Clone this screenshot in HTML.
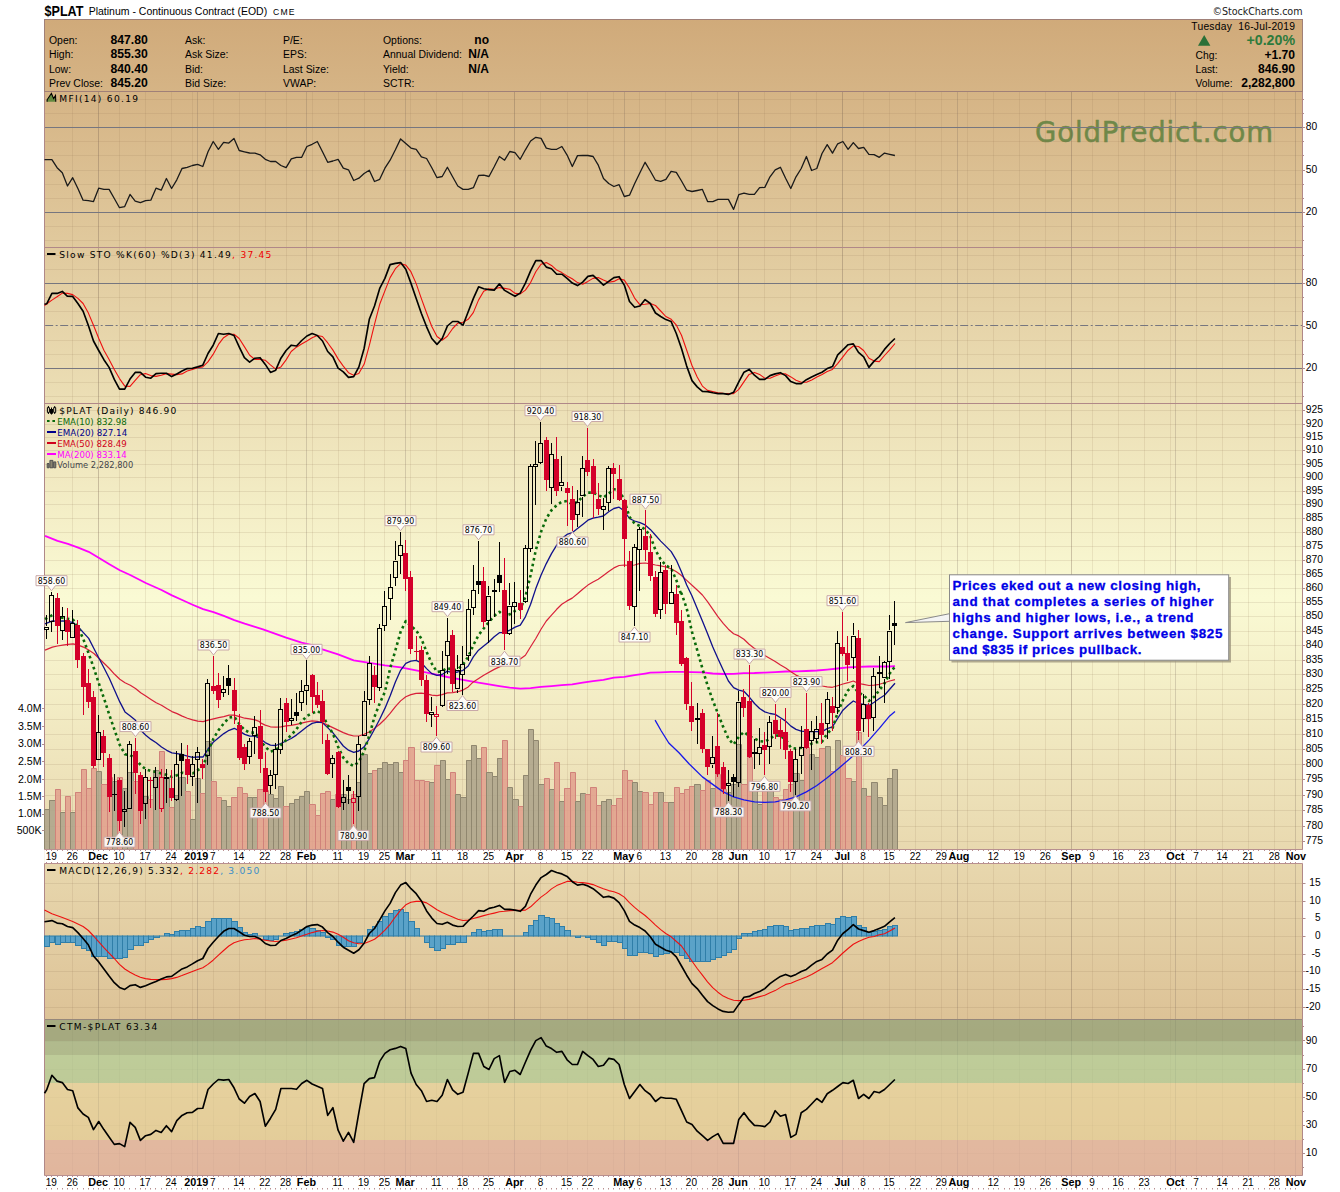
<!DOCTYPE html>
<html><head><meta charset="utf-8"><title>$PLAT Platinum - Continuous Contract (EOD)</title>
<style>html,body{margin:0;padding:0;background:#fff}body{width:1340px;height:1192px;overflow:hidden}svg text{white-space:pre}</style>
</head><body>
<svg width="1340" height="1192" viewBox="0 0 1340 1192" style="display:block">
<defs>
<linearGradient id="bg" x1="0" y1="0" x2="0" y2="1">
<stop offset="0" stop-color="#d0aa7a"/><stop offset="0.5" stop-color="#fafad4"/><stop offset="1" stop-color="#d2ae80"/>
</linearGradient>
</defs>
<rect x="0" y="0" width="1340" height="1192" fill="#fff"/>
<rect x="44.5" y="19.5" width="1258.0" height="1156.0" fill="url(#bg)"/>
<text x="1035" y="141.5" font-family="DejaVu Sans, Liberation Sans, sans-serif" font-size="27.5" fill="#6f8848" stroke="#6f8848" stroke-width="0.5" textLength="238" lengthAdjust="spacing">GoldPredict.com</text>
<path d="M72.5 91.5V247.5M98.5 91.5V247.5M119.5 91.5V247.5M145.5 91.5V247.5M171.5 91.5V247.5M192.5 91.5V247.5M213.5 91.5V247.5M239.5 91.5V247.5M265.5 91.5V247.5M286.5 91.5V247.5M312.5 91.5V247.5M338.5 91.5V247.5M364.5 91.5V247.5M384.5 91.5V247.5M410.5 91.5V247.5M436.5 91.5V247.5M462.5 91.5V247.5M488.5 91.5V247.5M514.5 91.5V247.5M540.5 91.5V247.5M567.5 91.5V247.5M587.5 91.5V247.5M613.5 91.5V247.5M639.5 91.5V247.5M665.5 91.5V247.5M691.5 91.5V247.5M717.5 91.5V247.5M738.5 91.5V247.5M764.5 91.5V247.5M790.5 91.5V247.5M816.5 91.5V247.5M842.5 91.5V247.5M863.5 91.5V247.5M889.5 91.5V247.5M915.5 91.5V247.5M941.5 91.5V247.5M967.5 91.5V247.5M993.5 91.5V247.5M1019.5 91.5V247.5M1045.5 91.5V247.5M1071.5 91.5V247.5M1092.5 91.5V247.5M1118.5 91.5V247.5M1144.5 91.5V247.5M1170.5 91.5V247.5M1196.5 91.5V247.5M1222.5 91.5V247.5M1248.5 91.5V247.5M1274.5 91.5V247.5" stroke="#8a6a50" stroke-opacity="0.13" stroke-width="1" fill="none"/>
<path d="M98.5 91.5V247.5M197.5 91.5V247.5M306.5 91.5V247.5M405.5 91.5V247.5M514.5 91.5V247.5M624.5 91.5V247.5M738.5 91.5V247.5M842.5 91.5V247.5M957.5 91.5V247.5M1071.5 91.5V247.5M1175.5 91.5V247.5M1295.5 91.5V247.5" stroke="#6a5a50" stroke-opacity="0.23" stroke-width="1" fill="none"/>
<path d="M72.5 247.5V403.5M98.5 247.5V403.5M119.5 247.5V403.5M145.5 247.5V403.5M171.5 247.5V403.5M192.5 247.5V403.5M213.5 247.5V403.5M239.5 247.5V403.5M265.5 247.5V403.5M286.5 247.5V403.5M312.5 247.5V403.5M338.5 247.5V403.5M364.5 247.5V403.5M384.5 247.5V403.5M410.5 247.5V403.5M436.5 247.5V403.5M462.5 247.5V403.5M488.5 247.5V403.5M514.5 247.5V403.5M540.5 247.5V403.5M567.5 247.5V403.5M587.5 247.5V403.5M613.5 247.5V403.5M639.5 247.5V403.5M665.5 247.5V403.5M691.5 247.5V403.5M717.5 247.5V403.5M738.5 247.5V403.5M764.5 247.5V403.5M790.5 247.5V403.5M816.5 247.5V403.5M842.5 247.5V403.5M863.5 247.5V403.5M889.5 247.5V403.5M915.5 247.5V403.5M941.5 247.5V403.5M967.5 247.5V403.5M993.5 247.5V403.5M1019.5 247.5V403.5M1045.5 247.5V403.5M1071.5 247.5V403.5M1092.5 247.5V403.5M1118.5 247.5V403.5M1144.5 247.5V403.5M1170.5 247.5V403.5M1196.5 247.5V403.5M1222.5 247.5V403.5M1248.5 247.5V403.5M1274.5 247.5V403.5" stroke="#8a6a50" stroke-opacity="0.13" stroke-width="1" fill="none"/>
<path d="M98.5 247.5V403.5M197.5 247.5V403.5M306.5 247.5V403.5M405.5 247.5V403.5M514.5 247.5V403.5M624.5 247.5V403.5M738.5 247.5V403.5M842.5 247.5V403.5M957.5 247.5V403.5M1071.5 247.5V403.5M1175.5 247.5V403.5M1295.5 247.5V403.5" stroke="#6a5a50" stroke-opacity="0.23" stroke-width="1" fill="none"/>
<path d="M72.5 403.5V849.5M98.5 403.5V849.5M119.5 403.5V849.5M145.5 403.5V849.5M171.5 403.5V849.5M192.5 403.5V849.5M213.5 403.5V849.5M239.5 403.5V849.5M265.5 403.5V849.5M286.5 403.5V849.5M312.5 403.5V849.5M338.5 403.5V849.5M364.5 403.5V849.5M384.5 403.5V849.5M410.5 403.5V849.5M436.5 403.5V849.5M462.5 403.5V849.5M488.5 403.5V849.5M514.5 403.5V849.5M540.5 403.5V849.5M567.5 403.5V849.5M587.5 403.5V849.5M613.5 403.5V849.5M639.5 403.5V849.5M665.5 403.5V849.5M691.5 403.5V849.5M717.5 403.5V849.5M738.5 403.5V849.5M764.5 403.5V849.5M790.5 403.5V849.5M816.5 403.5V849.5M842.5 403.5V849.5M863.5 403.5V849.5M889.5 403.5V849.5M915.5 403.5V849.5M941.5 403.5V849.5M967.5 403.5V849.5M993.5 403.5V849.5M1019.5 403.5V849.5M1045.5 403.5V849.5M1071.5 403.5V849.5M1092.5 403.5V849.5M1118.5 403.5V849.5M1144.5 403.5V849.5M1170.5 403.5V849.5M1196.5 403.5V849.5M1222.5 403.5V849.5M1248.5 403.5V849.5M1274.5 403.5V849.5" stroke="#8a6a50" stroke-opacity="0.13" stroke-width="1" fill="none"/>
<path d="M98.5 403.5V849.5M197.5 403.5V849.5M306.5 403.5V849.5M405.5 403.5V849.5M514.5 403.5V849.5M624.5 403.5V849.5M738.5 403.5V849.5M842.5 403.5V849.5M957.5 403.5V849.5M1071.5 403.5V849.5M1175.5 403.5V849.5M1295.5 403.5V849.5" stroke="#6a5a50" stroke-opacity="0.23" stroke-width="1" fill="none"/>
<path d="M72.5 863.5V1019.5M98.5 863.5V1019.5M119.5 863.5V1019.5M145.5 863.5V1019.5M171.5 863.5V1019.5M192.5 863.5V1019.5M213.5 863.5V1019.5M239.5 863.5V1019.5M265.5 863.5V1019.5M286.5 863.5V1019.5M312.5 863.5V1019.5M338.5 863.5V1019.5M364.5 863.5V1019.5M384.5 863.5V1019.5M410.5 863.5V1019.5M436.5 863.5V1019.5M462.5 863.5V1019.5M488.5 863.5V1019.5M514.5 863.5V1019.5M540.5 863.5V1019.5M567.5 863.5V1019.5M587.5 863.5V1019.5M613.5 863.5V1019.5M639.5 863.5V1019.5M665.5 863.5V1019.5M691.5 863.5V1019.5M717.5 863.5V1019.5M738.5 863.5V1019.5M764.5 863.5V1019.5M790.5 863.5V1019.5M816.5 863.5V1019.5M842.5 863.5V1019.5M863.5 863.5V1019.5M889.5 863.5V1019.5M915.5 863.5V1019.5M941.5 863.5V1019.5M967.5 863.5V1019.5M993.5 863.5V1019.5M1019.5 863.5V1019.5M1045.5 863.5V1019.5M1071.5 863.5V1019.5M1092.5 863.5V1019.5M1118.5 863.5V1019.5M1144.5 863.5V1019.5M1170.5 863.5V1019.5M1196.5 863.5V1019.5M1222.5 863.5V1019.5M1248.5 863.5V1019.5M1274.5 863.5V1019.5" stroke="#8a6a50" stroke-opacity="0.13" stroke-width="1" fill="none"/>
<path d="M98.5 863.5V1019.5M197.5 863.5V1019.5M306.5 863.5V1019.5M405.5 863.5V1019.5M514.5 863.5V1019.5M624.5 863.5V1019.5M738.5 863.5V1019.5M842.5 863.5V1019.5M957.5 863.5V1019.5M1071.5 863.5V1019.5M1175.5 863.5V1019.5M1295.5 863.5V1019.5" stroke="#6a5a50" stroke-opacity="0.23" stroke-width="1" fill="none"/>
<path d="M72.5 1019.5V1175.5M98.5 1019.5V1175.5M119.5 1019.5V1175.5M145.5 1019.5V1175.5M171.5 1019.5V1175.5M192.5 1019.5V1175.5M213.5 1019.5V1175.5M239.5 1019.5V1175.5M265.5 1019.5V1175.5M286.5 1019.5V1175.5M312.5 1019.5V1175.5M338.5 1019.5V1175.5M364.5 1019.5V1175.5M384.5 1019.5V1175.5M410.5 1019.5V1175.5M436.5 1019.5V1175.5M462.5 1019.5V1175.5M488.5 1019.5V1175.5M514.5 1019.5V1175.5M540.5 1019.5V1175.5M567.5 1019.5V1175.5M587.5 1019.5V1175.5M613.5 1019.5V1175.5M639.5 1019.5V1175.5M665.5 1019.5V1175.5M691.5 1019.5V1175.5M717.5 1019.5V1175.5M738.5 1019.5V1175.5M764.5 1019.5V1175.5M790.5 1019.5V1175.5M816.5 1019.5V1175.5M842.5 1019.5V1175.5M863.5 1019.5V1175.5M889.5 1019.5V1175.5M915.5 1019.5V1175.5M941.5 1019.5V1175.5M967.5 1019.5V1175.5M993.5 1019.5V1175.5M1019.5 1019.5V1175.5M1045.5 1019.5V1175.5M1071.5 1019.5V1175.5M1092.5 1019.5V1175.5M1118.5 1019.5V1175.5M1144.5 1019.5V1175.5M1170.5 1019.5V1175.5M1196.5 1019.5V1175.5M1222.5 1019.5V1175.5M1248.5 1019.5V1175.5M1274.5 1019.5V1175.5" stroke="#8a6a50" stroke-opacity="0.13" stroke-width="1" fill="none"/>
<path d="M98.5 1019.5V1175.5M197.5 1019.5V1175.5M306.5 1019.5V1175.5M405.5 1019.5V1175.5M514.5 1019.5V1175.5M624.5 1019.5V1175.5M738.5 1019.5V1175.5M842.5 1019.5V1175.5M957.5 1019.5V1175.5M1071.5 1019.5V1175.5M1175.5 1019.5V1175.5M1295.5 1019.5V1175.5" stroke="#6a5a50" stroke-opacity="0.23" stroke-width="1" fill="none"/>
<path d="M44.5 99.5H1302.5M44.5 113.5H1302.5M44.5 141.5H1302.5M44.5 155.5H1302.5M44.5 170.5H1302.5M44.5 184.5H1302.5M44.5 198.5H1302.5M44.5 226.5H1302.5M44.5 240.5H1302.5" stroke="#8a6a50" stroke-opacity="0.13" stroke-width="1" fill="none"/>
<path d="M44.5 255.5H1302.5M44.5 269.5H1302.5M44.5 297.5H1302.5M44.5 311.5H1302.5M44.5 340.5H1302.5M44.5 354.5H1302.5M44.5 382.5H1302.5M44.5 396.5H1302.5" stroke="#8a6a50" stroke-opacity="0.13" stroke-width="1" fill="none"/>
<path d="M44.5 841.5H1302.5M44.5 826.5H1302.5M44.5 810.5H1302.5M44.5 795.5H1302.5M44.5 779.5H1302.5M44.5 764.5H1302.5M44.5 749.5H1302.5M44.5 734.5H1302.5M44.5 719.5H1302.5M44.5 704.5H1302.5M44.5 689.5H1302.5M44.5 674.5H1302.5M44.5 660.5H1302.5M44.5 645.5H1302.5M44.5 631.5H1302.5M44.5 616.5H1302.5M44.5 602.5H1302.5M44.5 588.5H1302.5M44.5 574.5H1302.5M44.5 560.5H1302.5M44.5 546.5H1302.5M44.5 532.5H1302.5M44.5 518.5H1302.5M44.5 504.5H1302.5M44.5 491.5H1302.5M44.5 477.5H1302.5M44.5 464.5H1302.5M44.5 450.5H1302.5M44.5 437.5H1302.5M44.5 424.5H1302.5M44.5 410.5H1302.5" stroke="#8a6a50" stroke-opacity="0.14" stroke-width="1" fill="none"/>
<path d="M44.5 1007.5H1302.5M44.5 989.5H1302.5M44.5 971.5H1302.5M44.5 954.5H1302.5M44.5 936.5H1302.5M44.5 918.5H1302.5M44.5 901.5H1302.5M44.5 883.5H1302.5" stroke="#8a6a50" stroke-opacity="0.14" stroke-width="1" fill="none"/>
<path d="M44.5 1153.5H1302.5M44.5 1125.5H1302.5M44.5 1097.5H1302.5M44.5 1069.5H1302.5M44.5 1041.5H1302.5" stroke="#8a6a50" stroke-opacity="0.1" stroke-width="1" fill="none"/>
<path d="M44.5 1019.5H1302.5" stroke="#a08080" stroke-width="1"/>
<rect x="44.5" y="1019.5" width="1258.0" height="21.5" fill="#809a72" fill-opacity="0.6"/>
<rect x="44.5" y="1041" width="1258.0" height="14" fill="#94b888" fill-opacity="0.6"/>
<rect x="44.5" y="1055" width="1258.0" height="28" fill="#acd69e" fill-opacity="0.6"/>
<rect x="44.5" y="1083" width="1258.0" height="57" fill="#f5ebaf" fill-opacity="0.48"/>
<rect x="44.5" y="1140" width="1258.0" height="35.5" fill="#f0beb9" fill-opacity="0.5"/>
<path d="M44.5 127.5H1302.5M44.5 212.5H1302.5M44.5 283.5H1302.5M44.5 368.5H1302.5" stroke="#76767f" stroke-width="1.1" fill="none"/>
<path d="M44.5 325.5H1302.5" stroke="#76767f" stroke-width="1" stroke-dasharray="8 2.5 2 2.5" stroke-dashoffset="-0.7" fill="none"/>
<rect x="44.5" y="19.5" width="1258.0" height="72.0" fill="none" stroke="#b08888" stroke-width="1"/>
<rect x="44.5" y="91.5" width="1258.0" height="156.0" fill="none" stroke="#b08888" stroke-width="1"/>
<rect x="44.5" y="247.5" width="1258.0" height="156.0" fill="none" stroke="#b08888" stroke-width="1"/>
<rect x="44.5" y="403.5" width="1258.0" height="446.0" fill="none" stroke="#b08888" stroke-width="1"/>
<path d="M44.5 1019.5V863.5H1302.5V1019.5" fill="none" stroke="#b08888" stroke-width="1"/>
<path d="M44.5 1019.5V1175.5H1302.5V1019.5" fill="none" stroke="#b08888" stroke-width="1"/>
<rect x="44.5" y="19.5" width="1258.0" height="72" fill="none" stroke="#a08078" stroke-width="1"/>
<rect x="44" y="809" width="5" height="40.0" fill="#aca289" fill-opacity="0.85"/>
<path d="M44.5 849.0V809.5H49.5V849.0" fill="none" stroke="#90876f" stroke-width="1"/>
<rect x="49" y="800" width="6" height="49.0" fill="#aca289" fill-opacity="0.85"/>
<path d="M49.5 849.0V800.5H55.5V849.0" fill="none" stroke="#90876f" stroke-width="1"/>
<rect x="55" y="789" width="5" height="60.0" fill="#e29f8c" fill-opacity="0.85"/>
<path d="M55.5 849.0V789.5H60.5V849.0" fill="none" stroke="#d0827a" stroke-width="1"/>
<rect x="60" y="812" width="5" height="37.0" fill="#aca289" fill-opacity="0.85"/>
<path d="M60.5 849.0V812.5H65.5V849.0" fill="none" stroke="#90876f" stroke-width="1"/>
<rect x="65" y="796" width="5" height="53.0" fill="#e29f8c" fill-opacity="0.85"/>
<path d="M65.5 849.0V796.5H70.5V849.0" fill="none" stroke="#d0827a" stroke-width="1"/>
<rect x="70" y="812" width="5" height="37.0" fill="#aca289" fill-opacity="0.85"/>
<path d="M70.5 849.0V812.5H75.5V849.0" fill="none" stroke="#90876f" stroke-width="1"/>
<rect x="75" y="792" width="6" height="57.0" fill="#e29f8c" fill-opacity="0.85"/>
<path d="M75.5 849.0V792.5H81.5V849.0" fill="none" stroke="#d0827a" stroke-width="1"/>
<rect x="81" y="769" width="5" height="80.0" fill="#e29f8c" fill-opacity="0.85"/>
<path d="M81.5 849.0V769.5H86.5V849.0" fill="none" stroke="#d0827a" stroke-width="1"/>
<rect x="86" y="788" width="5" height="61.0" fill="#e29f8c" fill-opacity="0.85"/>
<path d="M86.5 849.0V788.5H91.5V849.0" fill="none" stroke="#d0827a" stroke-width="1"/>
<rect x="91" y="768" width="5" height="81.0" fill="#e29f8c" fill-opacity="0.85"/>
<path d="M91.5 849.0V768.5H96.5V849.0" fill="none" stroke="#d0827a" stroke-width="1"/>
<rect x="96" y="771" width="5" height="78.0" fill="#aca289" fill-opacity="0.85"/>
<path d="M96.5 849.0V771.5H101.5V849.0" fill="none" stroke="#90876f" stroke-width="1"/>
<rect x="101" y="784" width="6" height="65.0" fill="#e29f8c" fill-opacity="0.85"/>
<path d="M101.5 849.0V784.5H107.5V849.0" fill="none" stroke="#d0827a" stroke-width="1"/>
<rect x="107" y="777" width="5" height="72.0" fill="#e29f8c" fill-opacity="0.85"/>
<path d="M107.5 849.0V777.5H112.5V849.0" fill="none" stroke="#d0827a" stroke-width="1"/>
<rect x="112" y="781" width="5" height="68.0" fill="#aca289" fill-opacity="0.85"/>
<path d="M112.5 849.0V781.5H117.5V849.0" fill="none" stroke="#90876f" stroke-width="1"/>
<rect x="117" y="777" width="5" height="72.0" fill="#e29f8c" fill-opacity="0.85"/>
<path d="M117.5 849.0V777.5H122.5V849.0" fill="none" stroke="#d0827a" stroke-width="1"/>
<rect x="122" y="788" width="5" height="61.0" fill="#aca289" fill-opacity="0.85"/>
<path d="M122.5 849.0V788.5H127.5V849.0" fill="none" stroke="#90876f" stroke-width="1"/>
<rect x="127" y="772" width="6" height="77.0" fill="#aca289" fill-opacity="0.85"/>
<path d="M127.5 849.0V772.5H133.5V849.0" fill="none" stroke="#90876f" stroke-width="1"/>
<rect x="133" y="781" width="5" height="68.0" fill="#e29f8c" fill-opacity="0.85"/>
<path d="M133.5 849.0V781.5H138.5V849.0" fill="none" stroke="#d0827a" stroke-width="1"/>
<rect x="138" y="794" width="5" height="55.0" fill="#e29f8c" fill-opacity="0.85"/>
<path d="M138.5 849.0V794.5H143.5V849.0" fill="none" stroke="#d0827a" stroke-width="1"/>
<rect x="143" y="796" width="5" height="53.0" fill="#aca289" fill-opacity="0.85"/>
<path d="M143.5 849.0V796.5H148.5V849.0" fill="none" stroke="#90876f" stroke-width="1"/>
<rect x="148" y="799" width="5" height="50.0" fill="#e29f8c" fill-opacity="0.85"/>
<path d="M148.5 849.0V799.5H153.5V849.0" fill="none" stroke="#d0827a" stroke-width="1"/>
<rect x="153" y="770" width="6" height="79.0" fill="#aca289" fill-opacity="0.85"/>
<path d="M153.5 849.0V770.5H159.5V849.0" fill="none" stroke="#90876f" stroke-width="1"/>
<rect x="159" y="751" width="5" height="98.0" fill="#e29f8c" fill-opacity="0.85"/>
<path d="M159.5 849.0V751.5H164.5V849.0" fill="none" stroke="#d0827a" stroke-width="1"/>
<rect x="164" y="777" width="5" height="72.0" fill="#aca289" fill-opacity="0.85"/>
<path d="M164.5 849.0V777.5H169.5V849.0" fill="none" stroke="#90876f" stroke-width="1"/>
<rect x="169" y="807" width="5" height="42.0" fill="#e29f8c" fill-opacity="0.85"/>
<path d="M169.5 849.0V807.5H174.5V849.0" fill="none" stroke="#d0827a" stroke-width="1"/>
<rect x="174" y="795" width="5" height="54.0" fill="#aca289" fill-opacity="0.85"/>
<path d="M174.5 849.0V795.5H179.5V849.0" fill="none" stroke="#90876f" stroke-width="1"/>
<rect x="179" y="777" width="6" height="72.0" fill="#aca289" fill-opacity="0.85"/>
<path d="M179.5 849.0V777.5H185.5V849.0" fill="none" stroke="#90876f" stroke-width="1"/>
<rect x="185" y="791" width="5" height="58.0" fill="#e29f8c" fill-opacity="0.85"/>
<path d="M185.5 849.0V791.5H190.5V849.0" fill="none" stroke="#d0827a" stroke-width="1"/>
<rect x="190" y="819" width="5" height="30.0" fill="#aca289" fill-opacity="0.85"/>
<path d="M190.5 849.0V819.5H195.5V849.0" fill="none" stroke="#90876f" stroke-width="1"/>
<rect x="195" y="778" width="5" height="71.0" fill="#aca289" fill-opacity="0.85"/>
<path d="M195.5 849.0V778.5H200.5V849.0" fill="none" stroke="#90876f" stroke-width="1"/>
<rect x="200" y="793" width="5" height="56.0" fill="#e29f8c" fill-opacity="0.85"/>
<path d="M200.5 849.0V793.5H205.5V849.0" fill="none" stroke="#d0827a" stroke-width="1"/>
<rect x="205" y="741" width="6" height="108.0" fill="#aca289" fill-opacity="0.85"/>
<path d="M205.5 849.0V741.5H211.5V849.0" fill="none" stroke="#90876f" stroke-width="1"/>
<rect x="211" y="781" width="5" height="68.0" fill="#e29f8c" fill-opacity="0.85"/>
<path d="M211.5 849.0V781.5H216.5V849.0" fill="none" stroke="#d0827a" stroke-width="1"/>
<rect x="216" y="797" width="5" height="52.0" fill="#e29f8c" fill-opacity="0.85"/>
<path d="M216.5 849.0V797.5H221.5V849.0" fill="none" stroke="#d0827a" stroke-width="1"/>
<rect x="221" y="800" width="5" height="49.0" fill="#aca289" fill-opacity="0.85"/>
<path d="M221.5 849.0V800.5H226.5V849.0" fill="none" stroke="#90876f" stroke-width="1"/>
<rect x="226" y="806" width="5" height="43.0" fill="#aca289" fill-opacity="0.85"/>
<path d="M226.5 849.0V806.5H231.5V849.0" fill="none" stroke="#90876f" stroke-width="1"/>
<rect x="231" y="797" width="6" height="52.0" fill="#e29f8c" fill-opacity="0.85"/>
<path d="M231.5 849.0V797.5H237.5V849.0" fill="none" stroke="#d0827a" stroke-width="1"/>
<rect x="237" y="787" width="5" height="62.0" fill="#e29f8c" fill-opacity="0.85"/>
<path d="M237.5 849.0V787.5H242.5V849.0" fill="none" stroke="#d0827a" stroke-width="1"/>
<rect x="242" y="793" width="5" height="56.0" fill="#e29f8c" fill-opacity="0.85"/>
<path d="M242.5 849.0V793.5H247.5V849.0" fill="none" stroke="#d0827a" stroke-width="1"/>
<rect x="247" y="797" width="5" height="52.0" fill="#aca289" fill-opacity="0.85"/>
<path d="M247.5 849.0V797.5H252.5V849.0" fill="none" stroke="#90876f" stroke-width="1"/>
<rect x="252" y="797" width="5" height="52.0" fill="#aca289" fill-opacity="0.85"/>
<path d="M252.5 849.0V797.5H257.5V849.0" fill="none" stroke="#90876f" stroke-width="1"/>
<rect x="257" y="789" width="6" height="60.0" fill="#e29f8c" fill-opacity="0.85"/>
<path d="M257.5 849.0V789.5H263.5V849.0" fill="none" stroke="#d0827a" stroke-width="1"/>
<rect x="263" y="790" width="5" height="59.0" fill="#e29f8c" fill-opacity="0.85"/>
<path d="M263.5 849.0V790.5H268.5V849.0" fill="none" stroke="#d0827a" stroke-width="1"/>
<rect x="268" y="794" width="5" height="55.0" fill="#aca289" fill-opacity="0.85"/>
<path d="M268.5 849.0V794.5H273.5V849.0" fill="none" stroke="#90876f" stroke-width="1"/>
<rect x="273" y="798" width="5" height="51.0" fill="#aca289" fill-opacity="0.85"/>
<path d="M273.5 849.0V798.5H278.5V849.0" fill="none" stroke="#90876f" stroke-width="1"/>
<rect x="278" y="786" width="5" height="63.0" fill="#aca289" fill-opacity="0.85"/>
<path d="M278.5 849.0V786.5H283.5V849.0" fill="none" stroke="#90876f" stroke-width="1"/>
<rect x="283" y="806" width="6" height="43.0" fill="#e29f8c" fill-opacity="0.85"/>
<path d="M283.5 849.0V806.5H289.5V849.0" fill="none" stroke="#d0827a" stroke-width="1"/>
<rect x="289" y="803" width="5" height="46.0" fill="#aca289" fill-opacity="0.85"/>
<path d="M289.5 849.0V803.5H294.5V849.0" fill="none" stroke="#90876f" stroke-width="1"/>
<rect x="294" y="799" width="5" height="50.0" fill="#aca289" fill-opacity="0.85"/>
<path d="M294.5 849.0V799.5H299.5V849.0" fill="none" stroke="#90876f" stroke-width="1"/>
<rect x="299" y="796" width="5" height="53.0" fill="#aca289" fill-opacity="0.85"/>
<path d="M299.5 849.0V796.5H304.5V849.0" fill="none" stroke="#90876f" stroke-width="1"/>
<rect x="304" y="791" width="5" height="58.0" fill="#aca289" fill-opacity="0.85"/>
<path d="M304.5 849.0V791.5H309.5V849.0" fill="none" stroke="#90876f" stroke-width="1"/>
<rect x="309" y="804" width="6" height="45.0" fill="#e29f8c" fill-opacity="0.85"/>
<path d="M309.5 849.0V804.5H315.5V849.0" fill="none" stroke="#d0827a" stroke-width="1"/>
<rect x="315" y="815" width="5" height="34.0" fill="#e29f8c" fill-opacity="0.85"/>
<path d="M315.5 849.0V815.5H320.5V849.0" fill="none" stroke="#d0827a" stroke-width="1"/>
<rect x="320" y="793" width="5" height="56.0" fill="#e29f8c" fill-opacity="0.85"/>
<path d="M320.5 849.0V793.5H325.5V849.0" fill="none" stroke="#d0827a" stroke-width="1"/>
<rect x="325" y="791" width="5" height="58.0" fill="#e29f8c" fill-opacity="0.85"/>
<path d="M325.5 849.0V791.5H330.5V849.0" fill="none" stroke="#d0827a" stroke-width="1"/>
<rect x="330" y="799" width="5" height="50.0" fill="#aca289" fill-opacity="0.85"/>
<path d="M330.5 849.0V799.5H335.5V849.0" fill="none" stroke="#90876f" stroke-width="1"/>
<rect x="335" y="794" width="6" height="55.0" fill="#e29f8c" fill-opacity="0.85"/>
<path d="M335.5 849.0V794.5H341.5V849.0" fill="none" stroke="#d0827a" stroke-width="1"/>
<rect x="341" y="794" width="5" height="55.0" fill="#aca289" fill-opacity="0.85"/>
<path d="M341.5 849.0V794.5H346.5V849.0" fill="none" stroke="#90876f" stroke-width="1"/>
<rect x="346" y="799" width="5" height="50.0" fill="#aca289" fill-opacity="0.85"/>
<path d="M346.5 849.0V799.5H351.5V849.0" fill="none" stroke="#90876f" stroke-width="1"/>
<rect x="351" y="794" width="5" height="55.0" fill="#e29f8c" fill-opacity="0.85"/>
<path d="M351.5 849.0V794.5H356.5V849.0" fill="none" stroke="#d0827a" stroke-width="1"/>
<rect x="356" y="782" width="5" height="67.0" fill="#aca289" fill-opacity="0.85"/>
<path d="M356.5 849.0V782.5H361.5V849.0" fill="none" stroke="#90876f" stroke-width="1"/>
<rect x="361" y="754" width="6" height="95.0" fill="#aca289" fill-opacity="0.85"/>
<path d="M361.5 849.0V754.5H367.5V849.0" fill="none" stroke="#90876f" stroke-width="1"/>
<rect x="367" y="773" width="5" height="76.0" fill="#aca289" fill-opacity="0.85"/>
<path d="M367.5 849.0V773.5H372.5V849.0" fill="none" stroke="#90876f" stroke-width="1"/>
<rect x="372" y="770" width="5" height="79.0" fill="#e29f8c" fill-opacity="0.85"/>
<path d="M372.5 849.0V770.5H377.5V849.0" fill="none" stroke="#d0827a" stroke-width="1"/>
<rect x="377" y="768" width="5" height="81.0" fill="#aca289" fill-opacity="0.85"/>
<path d="M377.5 849.0V768.5H382.5V849.0" fill="none" stroke="#90876f" stroke-width="1"/>
<rect x="382" y="762" width="5" height="87.0" fill="#aca289" fill-opacity="0.85"/>
<path d="M382.5 849.0V762.5H387.5V849.0" fill="none" stroke="#90876f" stroke-width="1"/>
<rect x="387" y="764" width="6" height="85.0" fill="#aca289" fill-opacity="0.85"/>
<path d="M387.5 849.0V764.5H393.5V849.0" fill="none" stroke="#90876f" stroke-width="1"/>
<rect x="393" y="762" width="5" height="87.0" fill="#aca289" fill-opacity="0.85"/>
<path d="M393.5 849.0V762.5H398.5V849.0" fill="none" stroke="#90876f" stroke-width="1"/>
<rect x="398" y="772" width="5" height="77.0" fill="#aca289" fill-opacity="0.85"/>
<path d="M398.5 849.0V772.5H403.5V849.0" fill="none" stroke="#90876f" stroke-width="1"/>
<rect x="403" y="760" width="5" height="89.0" fill="#e29f8c" fill-opacity="0.85"/>
<path d="M403.5 849.0V760.5H408.5V849.0" fill="none" stroke="#d0827a" stroke-width="1"/>
<rect x="408" y="747" width="6" height="102.0" fill="#e29f8c" fill-opacity="0.85"/>
<path d="M408.5 849.0V747.5H414.5V849.0" fill="none" stroke="#d0827a" stroke-width="1"/>
<rect x="414" y="780" width="5" height="69.0" fill="#e29f8c" fill-opacity="0.85"/>
<path d="M414.5 849.0V780.5H419.5V849.0" fill="none" stroke="#d0827a" stroke-width="1"/>
<rect x="419" y="780" width="5" height="69.0" fill="#e29f8c" fill-opacity="0.85"/>
<path d="M419.5 849.0V780.5H424.5V849.0" fill="none" stroke="#d0827a" stroke-width="1"/>
<rect x="424" y="781" width="5" height="68.0" fill="#e29f8c" fill-opacity="0.85"/>
<path d="M424.5 849.0V781.5H429.5V849.0" fill="none" stroke="#d0827a" stroke-width="1"/>
<rect x="429" y="782" width="5" height="67.0" fill="#aca289" fill-opacity="0.85"/>
<path d="M429.5 849.0V782.5H434.5V849.0" fill="none" stroke="#90876f" stroke-width="1"/>
<rect x="434" y="765" width="6" height="84.0" fill="#e29f8c" fill-opacity="0.85"/>
<path d="M434.5 849.0V765.5H440.5V849.0" fill="none" stroke="#d0827a" stroke-width="1"/>
<rect x="440" y="760" width="5" height="89.0" fill="#aca289" fill-opacity="0.85"/>
<path d="M440.5 849.0V760.5H445.5V849.0" fill="none" stroke="#90876f" stroke-width="1"/>
<rect x="445" y="779" width="5" height="70.0" fill="#aca289" fill-opacity="0.85"/>
<path d="M445.5 849.0V779.5H450.5V849.0" fill="none" stroke="#90876f" stroke-width="1"/>
<rect x="450" y="772" width="5" height="77.0" fill="#e29f8c" fill-opacity="0.85"/>
<path d="M450.5 849.0V772.5H455.5V849.0" fill="none" stroke="#d0827a" stroke-width="1"/>
<rect x="455" y="794" width="5" height="55.0" fill="#aca289" fill-opacity="0.85"/>
<path d="M455.5 849.0V794.5H460.5V849.0" fill="none" stroke="#90876f" stroke-width="1"/>
<rect x="460" y="797" width="6" height="52.0" fill="#aca289" fill-opacity="0.85"/>
<path d="M460.5 849.0V797.5H466.5V849.0" fill="none" stroke="#90876f" stroke-width="1"/>
<rect x="466" y="760" width="5" height="89.0" fill="#aca289" fill-opacity="0.85"/>
<path d="M466.5 849.0V760.5H471.5V849.0" fill="none" stroke="#90876f" stroke-width="1"/>
<rect x="471" y="745" width="5" height="104.0" fill="#aca289" fill-opacity="0.85"/>
<path d="M471.5 849.0V745.5H476.5V849.0" fill="none" stroke="#90876f" stroke-width="1"/>
<rect x="476" y="758" width="5" height="91.0" fill="#aca289" fill-opacity="0.85"/>
<path d="M476.5 849.0V758.5H481.5V849.0" fill="none" stroke="#90876f" stroke-width="1"/>
<rect x="481" y="747" width="5" height="102.0" fill="#e29f8c" fill-opacity="0.85"/>
<path d="M481.5 849.0V747.5H486.5V849.0" fill="none" stroke="#d0827a" stroke-width="1"/>
<rect x="486" y="772" width="6" height="77.0" fill="#aca289" fill-opacity="0.85"/>
<path d="M486.5 849.0V772.5H492.5V849.0" fill="none" stroke="#90876f" stroke-width="1"/>
<rect x="492" y="776" width="5" height="73.0" fill="#aca289" fill-opacity="0.85"/>
<path d="M492.5 849.0V776.5H497.5V849.0" fill="none" stroke="#90876f" stroke-width="1"/>
<rect x="497" y="758" width="5" height="91.0" fill="#aca289" fill-opacity="0.85"/>
<path d="M497.5 849.0V758.5H502.5V849.0" fill="none" stroke="#90876f" stroke-width="1"/>
<rect x="502" y="740" width="5" height="109.0" fill="#e29f8c" fill-opacity="0.85"/>
<path d="M502.5 849.0V740.5H507.5V849.0" fill="none" stroke="#d0827a" stroke-width="1"/>
<rect x="507" y="787" width="5" height="62.0" fill="#aca289" fill-opacity="0.85"/>
<path d="M507.5 849.0V787.5H512.5V849.0" fill="none" stroke="#90876f" stroke-width="1"/>
<rect x="512" y="799" width="6" height="50.0" fill="#aca289" fill-opacity="0.85"/>
<path d="M512.5 849.0V799.5H518.5V849.0" fill="none" stroke="#90876f" stroke-width="1"/>
<rect x="518" y="806" width="5" height="43.0" fill="#e29f8c" fill-opacity="0.85"/>
<path d="M518.5 849.0V806.5H523.5V849.0" fill="none" stroke="#d0827a" stroke-width="1"/>
<rect x="523" y="775" width="5" height="74.0" fill="#aca289" fill-opacity="0.85"/>
<path d="M523.5 849.0V775.5H528.5V849.0" fill="none" stroke="#90876f" stroke-width="1"/>
<rect x="528" y="729" width="5" height="120.0" fill="#aca289" fill-opacity="0.85"/>
<path d="M528.5 849.0V729.5H533.5V849.0" fill="none" stroke="#90876f" stroke-width="1"/>
<rect x="533" y="740" width="5" height="109.0" fill="#aca289" fill-opacity="0.85"/>
<path d="M533.5 849.0V740.5H538.5V849.0" fill="none" stroke="#90876f" stroke-width="1"/>
<rect x="538" y="784" width="6" height="65.0" fill="#aca289" fill-opacity="0.85"/>
<path d="M538.5 849.0V784.5H544.5V849.0" fill="none" stroke="#90876f" stroke-width="1"/>
<rect x="544" y="778" width="5" height="71.0" fill="#e29f8c" fill-opacity="0.85"/>
<path d="M544.5 849.0V778.5H549.5V849.0" fill="none" stroke="#d0827a" stroke-width="1"/>
<rect x="549" y="789" width="5" height="60.0" fill="#aca289" fill-opacity="0.85"/>
<path d="M549.5 849.0V789.5H554.5V849.0" fill="none" stroke="#90876f" stroke-width="1"/>
<rect x="554" y="762" width="5" height="87.0" fill="#e29f8c" fill-opacity="0.85"/>
<path d="M554.5 849.0V762.5H559.5V849.0" fill="none" stroke="#d0827a" stroke-width="1"/>
<rect x="559" y="801" width="5" height="48.0" fill="#aca289" fill-opacity="0.85"/>
<path d="M559.5 849.0V801.5H564.5V849.0" fill="none" stroke="#90876f" stroke-width="1"/>
<rect x="564" y="788" width="6" height="61.0" fill="#e29f8c" fill-opacity="0.85"/>
<path d="M564.5 849.0V788.5H570.5V849.0" fill="none" stroke="#d0827a" stroke-width="1"/>
<rect x="570" y="772" width="5" height="77.0" fill="#e29f8c" fill-opacity="0.85"/>
<path d="M570.5 849.0V772.5H575.5V849.0" fill="none" stroke="#d0827a" stroke-width="1"/>
<rect x="575" y="801" width="5" height="48.0" fill="#aca289" fill-opacity="0.85"/>
<path d="M575.5 849.0V801.5H580.5V849.0" fill="none" stroke="#90876f" stroke-width="1"/>
<rect x="580" y="793" width="5" height="56.0" fill="#aca289" fill-opacity="0.85"/>
<path d="M580.5 849.0V793.5H585.5V849.0" fill="none" stroke="#90876f" stroke-width="1"/>
<rect x="585" y="794" width="5" height="55.0" fill="#e29f8c" fill-opacity="0.85"/>
<path d="M585.5 849.0V794.5H590.5V849.0" fill="none" stroke="#d0827a" stroke-width="1"/>
<rect x="590" y="787" width="6" height="62.0" fill="#e29f8c" fill-opacity="0.85"/>
<path d="M590.5 849.0V787.5H596.5V849.0" fill="none" stroke="#d0827a" stroke-width="1"/>
<rect x="596" y="805" width="5" height="44.0" fill="#e29f8c" fill-opacity="0.85"/>
<path d="M596.5 849.0V805.5H601.5V849.0" fill="none" stroke="#d0827a" stroke-width="1"/>
<rect x="601" y="801" width="5" height="48.0" fill="#aca289" fill-opacity="0.85"/>
<path d="M601.5 849.0V801.5H606.5V849.0" fill="none" stroke="#90876f" stroke-width="1"/>
<rect x="606" y="799" width="5" height="50.0" fill="#aca289" fill-opacity="0.85"/>
<path d="M606.5 849.0V799.5H611.5V849.0" fill="none" stroke="#90876f" stroke-width="1"/>
<rect x="611" y="805" width="5" height="44.0" fill="#e29f8c" fill-opacity="0.85"/>
<path d="M611.5 849.0V805.5H616.5V849.0" fill="none" stroke="#d0827a" stroke-width="1"/>
<rect x="616" y="798" width="6" height="51.0" fill="#e29f8c" fill-opacity="0.85"/>
<path d="M616.5 849.0V798.5H622.5V849.0" fill="none" stroke="#d0827a" stroke-width="1"/>
<rect x="622" y="770" width="5" height="79.0" fill="#e29f8c" fill-opacity="0.85"/>
<path d="M622.5 849.0V770.5H627.5V849.0" fill="none" stroke="#d0827a" stroke-width="1"/>
<rect x="627" y="780" width="5" height="69.0" fill="#e29f8c" fill-opacity="0.85"/>
<path d="M627.5 849.0V780.5H632.5V849.0" fill="none" stroke="#d0827a" stroke-width="1"/>
<rect x="632" y="782" width="5" height="67.0" fill="#aca289" fill-opacity="0.85"/>
<path d="M632.5 849.0V782.5H637.5V849.0" fill="none" stroke="#90876f" stroke-width="1"/>
<rect x="637" y="791" width="5" height="58.0" fill="#aca289" fill-opacity="0.85"/>
<path d="M637.5 849.0V791.5H642.5V849.0" fill="none" stroke="#90876f" stroke-width="1"/>
<rect x="642" y="792" width="6" height="57.0" fill="#e29f8c" fill-opacity="0.85"/>
<path d="M642.5 849.0V792.5H648.5V849.0" fill="none" stroke="#d0827a" stroke-width="1"/>
<rect x="648" y="804" width="5" height="45.0" fill="#e29f8c" fill-opacity="0.85"/>
<path d="M648.5 849.0V804.5H653.5V849.0" fill="none" stroke="#d0827a" stroke-width="1"/>
<rect x="653" y="792" width="5" height="57.0" fill="#e29f8c" fill-opacity="0.85"/>
<path d="M653.5 849.0V792.5H658.5V849.0" fill="none" stroke="#d0827a" stroke-width="1"/>
<rect x="658" y="792" width="5" height="57.0" fill="#aca289" fill-opacity="0.85"/>
<path d="M658.5 849.0V792.5H663.5V849.0" fill="none" stroke="#90876f" stroke-width="1"/>
<rect x="663" y="802" width="5" height="47.0" fill="#e29f8c" fill-opacity="0.85"/>
<path d="M663.5 849.0V802.5H668.5V849.0" fill="none" stroke="#d0827a" stroke-width="1"/>
<rect x="668" y="802" width="6" height="47.0" fill="#aca289" fill-opacity="0.85"/>
<path d="M668.5 849.0V802.5H674.5V849.0" fill="none" stroke="#90876f" stroke-width="1"/>
<rect x="674" y="787" width="5" height="62.0" fill="#e29f8c" fill-opacity="0.85"/>
<path d="M674.5 849.0V787.5H679.5V849.0" fill="none" stroke="#d0827a" stroke-width="1"/>
<rect x="679" y="793" width="5" height="56.0" fill="#e29f8c" fill-opacity="0.85"/>
<path d="M679.5 849.0V793.5H684.5V849.0" fill="none" stroke="#d0827a" stroke-width="1"/>
<rect x="684" y="789" width="5" height="60.0" fill="#e29f8c" fill-opacity="0.85"/>
<path d="M684.5 849.0V789.5H689.5V849.0" fill="none" stroke="#d0827a" stroke-width="1"/>
<rect x="689" y="786" width="5" height="63.0" fill="#e29f8c" fill-opacity="0.85"/>
<path d="M689.5 849.0V786.5H694.5V849.0" fill="none" stroke="#d0827a" stroke-width="1"/>
<rect x="694" y="784" width="6" height="65.0" fill="#aca289" fill-opacity="0.85"/>
<path d="M694.5 849.0V784.5H700.5V849.0" fill="none" stroke="#90876f" stroke-width="1"/>
<rect x="700" y="790" width="5" height="59.0" fill="#e29f8c" fill-opacity="0.85"/>
<path d="M700.5 849.0V790.5H705.5V849.0" fill="none" stroke="#d0827a" stroke-width="1"/>
<rect x="705" y="780" width="5" height="69.0" fill="#e29f8c" fill-opacity="0.85"/>
<path d="M705.5 849.0V780.5H710.5V849.0" fill="none" stroke="#d0827a" stroke-width="1"/>
<rect x="710" y="788" width="5" height="61.0" fill="#aca289" fill-opacity="0.85"/>
<path d="M710.5 849.0V788.5H715.5V849.0" fill="none" stroke="#90876f" stroke-width="1"/>
<rect x="715" y="774" width="5" height="75.0" fill="#e29f8c" fill-opacity="0.85"/>
<path d="M715.5 849.0V774.5H720.5V849.0" fill="none" stroke="#d0827a" stroke-width="1"/>
<rect x="720" y="789" width="6" height="60.0" fill="#e29f8c" fill-opacity="0.85"/>
<path d="M720.5 849.0V789.5H726.5V849.0" fill="none" stroke="#d0827a" stroke-width="1"/>
<rect x="726" y="792" width="5" height="57.0" fill="#aca289" fill-opacity="0.85"/>
<path d="M726.5 849.0V792.5H731.5V849.0" fill="none" stroke="#90876f" stroke-width="1"/>
<rect x="731" y="784" width="5" height="65.0" fill="#aca289" fill-opacity="0.85"/>
<path d="M731.5 849.0V784.5H736.5V849.0" fill="none" stroke="#90876f" stroke-width="1"/>
<rect x="736" y="744" width="5" height="105.0" fill="#aca289" fill-opacity="0.85"/>
<path d="M736.5 849.0V744.5H741.5V849.0" fill="none" stroke="#90876f" stroke-width="1"/>
<rect x="741" y="784" width="6" height="65.0" fill="#e29f8c" fill-opacity="0.85"/>
<path d="M741.5 849.0V784.5H747.5V849.0" fill="none" stroke="#d0827a" stroke-width="1"/>
<rect x="747" y="757" width="5" height="92.0" fill="#e29f8c" fill-opacity="0.85"/>
<path d="M747.5 849.0V757.5H752.5V849.0" fill="none" stroke="#d0827a" stroke-width="1"/>
<rect x="752" y="788" width="5" height="61.0" fill="#aca289" fill-opacity="0.85"/>
<path d="M752.5 849.0V788.5H757.5V849.0" fill="none" stroke="#90876f" stroke-width="1"/>
<rect x="757" y="804" width="5" height="45.0" fill="#aca289" fill-opacity="0.85"/>
<path d="M757.5 849.0V804.5H762.5V849.0" fill="none" stroke="#90876f" stroke-width="1"/>
<rect x="762" y="789" width="5" height="60.0" fill="#e29f8c" fill-opacity="0.85"/>
<path d="M762.5 849.0V789.5H767.5V849.0" fill="none" stroke="#d0827a" stroke-width="1"/>
<rect x="767" y="790" width="6" height="59.0" fill="#aca289" fill-opacity="0.85"/>
<path d="M767.5 849.0V790.5H773.5V849.0" fill="none" stroke="#90876f" stroke-width="1"/>
<rect x="773" y="797" width="5" height="52.0" fill="#e29f8c" fill-opacity="0.85"/>
<path d="M773.5 849.0V797.5H778.5V849.0" fill="none" stroke="#d0827a" stroke-width="1"/>
<rect x="778" y="799" width="5" height="50.0" fill="#e29f8c" fill-opacity="0.85"/>
<path d="M778.5 849.0V799.5H783.5V849.0" fill="none" stroke="#d0827a" stroke-width="1"/>
<rect x="783" y="789" width="5" height="60.0" fill="#e29f8c" fill-opacity="0.85"/>
<path d="M783.5 849.0V789.5H788.5V849.0" fill="none" stroke="#d0827a" stroke-width="1"/>
<rect x="788" y="784" width="5" height="65.0" fill="#e29f8c" fill-opacity="0.85"/>
<path d="M788.5 849.0V784.5H793.5V849.0" fill="none" stroke="#d0827a" stroke-width="1"/>
<rect x="793" y="773" width="6" height="76.0" fill="#aca289" fill-opacity="0.85"/>
<path d="M793.5 849.0V773.5H799.5V849.0" fill="none" stroke="#90876f" stroke-width="1"/>
<rect x="799" y="780" width="5" height="69.0" fill="#aca289" fill-opacity="0.85"/>
<path d="M799.5 849.0V780.5H804.5V849.0" fill="none" stroke="#90876f" stroke-width="1"/>
<rect x="804" y="747" width="5" height="102.0" fill="#e29f8c" fill-opacity="0.85"/>
<path d="M804.5 849.0V747.5H809.5V849.0" fill="none" stroke="#d0827a" stroke-width="1"/>
<rect x="809" y="754" width="5" height="95.0" fill="#aca289" fill-opacity="0.85"/>
<path d="M809.5 849.0V754.5H814.5V849.0" fill="none" stroke="#90876f" stroke-width="1"/>
<rect x="814" y="757" width="5" height="92.0" fill="#aca289" fill-opacity="0.85"/>
<path d="M814.5 849.0V757.5H819.5V849.0" fill="none" stroke="#90876f" stroke-width="1"/>
<rect x="819" y="748" width="6" height="101.0" fill="#e29f8c" fill-opacity="0.85"/>
<path d="M819.5 849.0V748.5H825.5V849.0" fill="none" stroke="#d0827a" stroke-width="1"/>
<rect x="825" y="746" width="5" height="103.0" fill="#aca289" fill-opacity="0.85"/>
<path d="M825.5 849.0V746.5H830.5V849.0" fill="none" stroke="#90876f" stroke-width="1"/>
<rect x="830" y="771" width="5" height="78.0" fill="#e29f8c" fill-opacity="0.85"/>
<path d="M830.5 849.0V771.5H835.5V849.0" fill="none" stroke="#d0827a" stroke-width="1"/>
<rect x="835" y="740" width="5" height="109.0" fill="#aca289" fill-opacity="0.85"/>
<path d="M835.5 849.0V740.5H840.5V849.0" fill="none" stroke="#90876f" stroke-width="1"/>
<rect x="840" y="755" width="5" height="94.0" fill="#e29f8c" fill-opacity="0.85"/>
<path d="M840.5 849.0V755.5H845.5V849.0" fill="none" stroke="#d0827a" stroke-width="1"/>
<rect x="845" y="778" width="6" height="71.0" fill="#e29f8c" fill-opacity="0.85"/>
<path d="M845.5 849.0V778.5H851.5V849.0" fill="none" stroke="#d0827a" stroke-width="1"/>
<rect x="851" y="781" width="5" height="68.0" fill="#aca289" fill-opacity="0.85"/>
<path d="M851.5 849.0V781.5H856.5V849.0" fill="none" stroke="#90876f" stroke-width="1"/>
<rect x="856" y="732" width="5" height="117.0" fill="#e29f8c" fill-opacity="0.85"/>
<path d="M856.5 849.0V732.5H861.5V849.0" fill="none" stroke="#d0827a" stroke-width="1"/>
<rect x="861" y="788" width="5" height="61.0" fill="#aca289" fill-opacity="0.85"/>
<path d="M861.5 849.0V788.5H866.5V849.0" fill="none" stroke="#90876f" stroke-width="1"/>
<rect x="866" y="796" width="5" height="53.0" fill="#e29f8c" fill-opacity="0.85"/>
<path d="M866.5 849.0V796.5H871.5V849.0" fill="none" stroke="#d0827a" stroke-width="1"/>
<rect x="871" y="782" width="6" height="67.0" fill="#aca289" fill-opacity="0.85"/>
<path d="M871.5 849.0V782.5H877.5V849.0" fill="none" stroke="#90876f" stroke-width="1"/>
<rect x="877" y="797" width="5" height="52.0" fill="#aca289" fill-opacity="0.85"/>
<path d="M877.5 849.0V797.5H882.5V849.0" fill="none" stroke="#90876f" stroke-width="1"/>
<rect x="882" y="805" width="5" height="44.0" fill="#aca289" fill-opacity="0.85"/>
<path d="M882.5 849.0V805.5H887.5V849.0" fill="none" stroke="#90876f" stroke-width="1"/>
<rect x="887" y="778" width="5" height="71.0" fill="#aca289" fill-opacity="0.85"/>
<path d="M887.5 849.0V778.5H892.5V849.0" fill="none" stroke="#90876f" stroke-width="1"/>
<rect x="892" y="769" width="5" height="80.0" fill="#aca289" fill-opacity="0.85"/>
<path d="M892.5 849.0V769.5H897.5V849.0" fill="none" stroke="#90876f" stroke-width="1"/>
<path d="M45.0 535.9L57.5 540.9L67.9 543.8L78.2 547.6L88.7 551.8L99.1 558.1L109.4 564.3L119.8 570.2L130.2 575.0L145.8 583.0L161.5 590.0L171.9 595.4L182.2 600.0L192.6 604.7L203.1 609.2L213.5 612.1L223.8 615.9L234.3 620.1L244.7 623.7L255.0 626.8L263.0 629.3L286.1 637.7L301.6 642.7L312.1 645.2L322.4 649.4L338.1 654.4L353.7 660.3L369.4 662.8L384.9 665.3L400.6 667.4L416.1 670.3L431.8 673.6L447.3 677.0L463.0 679.8L478.5 682.7L489.0 684.4L499.4 686.1L509.7 687.7L520.3 688.6L530.6 688.2L541.0 686.9L551.5 686.1L561.8 685.2L572.2 684.4L582.7 682.7L593.0 681.1L603.4 679.9L613.9 677.7L624.3 676.9L634.6 675.2L645.1 673.6L650.3 672.7L660.7 672.4L671.2 671.9L681.5 671.9L702.4 672.3L712.7 673.5L723.2 674.0L733.6 673.8L743.9 673.1L754.5 673.0L764.8 672.6L775.2 672.1L785.7 671.5L796.0 671.3L806.4 671.0L816.9 670.5L827.2 669.6L837.6 668.5L848.1 667.3L858.5 666.8L869.0 666.5L879.3 666.5L889.7 666.5L895.0 666.1" fill="none" stroke="#ff00ff" stroke-width="1.8" stroke-linejoin="round" />
<path d="M655.1 720.1L661.3 731.0L668.8 743.0L679.0 752.8L689.0 763.8L702.4 776.9L712.7 784.4L723.2 791.9L733.6 796.9L743.9 799.9L754.5 801.9L764.8 802.4L775.2 801.9L785.7 799.9L796.0 796.9L806.4 791.9L816.9 785.5L827.2 777.7L837.6 769.3L848.1 760.2L858.5 751.0L869.0 740.1L879.3 728.4L889.7 715.9L895.0 711.4" fill="none" stroke="#1818e8" stroke-width="1.3" stroke-linejoin="round" />
<path d="M45.0 650.1L52.4 647.1L57.5 646.0L62.7 645.1L67.9 644.3L73.1 643.9L78.2 645.1L83.4 647.1L88.7 650.1L93.9 653.5L99.1 658.5L104.3 663.5L109.4 668.5L114.6 674.3L119.8 679.3L125.0 682.7L130.3 685.2L135.5 688.5L140.7 692.7L145.8 696.0L151.0 699.4L156.2 702.7L161.5 705.2L166.7 708.6L171.9 711.6L177.1 713.6L182.2 716.1L187.4 718.2L192.6 719.9L197.8 721.1L203.1 721.6L208.3 720.2L213.5 718.9L218.6 717.7L223.8 716.6L229.1 715.2L234.3 715.2L239.5 716.6L244.7 718.2L249.8 718.9L255.0 719.9L260.4 721.9L260.0 722.6L265.2 725.1L270.4 726.8L275.7 727.1L280.9 726.8L286.1 725.9L291.2 725.4L296.4 724.3L301.6 723.1L306.9 721.8L312.1 720.9L317.3 721.4L322.4 722.6L327.6 725.1L332.8 727.6L338.1 730.1L343.3 732.6L348.5 734.6L353.7 736.0L358.8 736.0L364.2 734.3L369.4 731.8L374.5 728.4L379.7 724.3L384.9 719.3L390.1 713.4L395.4 706.7L400.6 700.9L405.8 696.7L410.9 694.6L416.1 693.4L421.3 693.1L426.6 693.9L431.8 695.1L437.0 695.6L442.1 694.6L447.3 692.9L452.7 692.6L457.8 691.7L463.0 690.1L468.2 686.9L473.3 681.9L483.7 675.2L494.2 669.4L504.6 664.4L515.1 661.0L520.3 658.9L525.4 655.2L530.6 646.8L535.8 638.5L541.0 629.3L546.3 621.0L551.5 615.1L556.7 609.3L561.8 604.3L567.0 600.9L572.2 598.1L577.5 593.8L582.7 589.2L587.9 585.1L593.0 582.1L598.2 579.2L603.4 575.4L608.7 571.4L613.9 567.9L619.1 565.5L624.3 565.0L629.4 565.5L634.6 565.0L640.0 563.4L645.1 563.0L650.3 563.9L655.5 565.0L660.7 565.9L665.8 567.0L671.2 568.7L676.4 571.7L681.5 575.6L697.2 590.0L702.4 595.0L707.5 601.7L712.7 609.2L717.9 616.7L723.2 623.4L728.4 629.2L733.6 633.7L738.8 635.9L743.9 639.2L749.1 644.3L754.5 648.4L759.6 652.1L764.8 655.4L770.0 658.4L775.2 661.5L780.5 665.1L785.7 668.1L790.9 671.8L796.0 675.1L801.2 677.6L806.4 680.2L811.7 682.3L816.9 684.3L822.1 686.0L827.2 686.8L832.4 687.3L837.6 685.7L842.9 684.0L848.1 682.7L853.3 681.0L858.5 683.5L863.6 684.3L869.0 685.5L874.2 685.2L879.3 684.3L884.5 682.7L889.7 681.0L895.0 679.6" fill="none" stroke="#d8203a" stroke-width="1.2" stroke-linejoin="round" />
<path d="M45.0 623.9L52.4 620.9L57.5 621.4L62.7 620.9L67.9 621.4L73.1 622.6L78.2 626.8L83.4 632.6L88.7 638.4L93.9 648.5L99.1 658.5L104.3 668.5L109.4 678.5L114.6 690.2L119.8 701.9L125.0 711.9L130.3 716.1L135.5 720.2L140.7 730.3L145.8 735.3L151.0 739.4L156.2 742.8L161.5 747.0L166.7 750.3L171.9 752.8L177.1 753.6L182.2 754.5L187.4 756.1L192.6 757.3L197.8 757.0L203.1 757.0L208.3 748.6L213.5 741.9L218.6 737.8L223.8 733.6L229.1 730.3L234.3 728.3L239.5 731.1L244.7 734.4L249.8 736.1L255.0 736.1L260.4 738.6L260.0 738.5L265.2 742.6L270.4 745.1L275.7 745.5L280.9 743.5L286.1 741.0L291.2 738.5L296.4 735.1L301.6 731.0L306.9 726.8L312.1 723.4L317.3 722.1L322.4 722.6L327.6 727.6L332.8 732.6L338.1 739.3L343.3 746.0L348.5 750.2L353.7 752.3L358.8 751.0L364.2 746.8L369.4 738.5L374.5 729.3L379.7 719.3L384.9 708.4L390.1 695.9L395.4 682.0L400.6 670.3L405.8 663.3L410.9 661.1L416.1 660.3L421.3 662.8L426.6 668.6L431.8 673.6L437.0 675.3L442.1 674.5L447.3 671.1L452.7 672.8L457.8 672.0L463.0 670.3L468.2 666.0L473.3 656.9L478.5 650.2L483.7 646.0L489.0 641.8L494.2 636.8L499.4 632.7L504.6 632.7L509.7 630.2L515.1 627.1L520.3 625.1L525.4 616.8L530.6 604.3L535.8 588.6L541.0 575.3L546.3 563.6L551.5 553.6L556.7 545.2L561.8 538.5L567.0 534.4L572.2 532.7L577.5 528.5L582.7 524.4L587.9 520.2L593.0 518.2L598.2 517.2L603.4 516.0L608.7 511.8L613.9 508.5L619.1 507.2L624.3 511.0L629.4 518.5L634.6 521.0L640.0 522.7L645.1 524.9L650.3 529.4L655.5 535.2L660.7 541.1L665.8 546.1L671.2 551.6L676.4 560.3L681.5 571.9L686.7 585.0L691.9 595.8L697.2 608.4L702.4 620.9L707.5 633.4L712.7 646.8L717.9 658.4L723.2 670.1L728.4 681.0L733.6 687.7L738.8 690.2L743.9 691.3L749.1 696.8L754.5 703.5L759.6 708.5L764.8 711.9L770.0 713.5L775.2 714.4L780.5 717.7L785.7 721.1L790.9 726.1L796.0 729.4L801.2 731.1L806.4 731.6L811.7 731.6L816.9 731.6L822.1 731.6L827.2 728.6L832.4 726.9L837.6 718.5L842.9 710.2L848.1 705.2L853.3 701.0L858.5 703.5L863.6 704.4L869.0 705.5L874.2 702.2L879.3 698.5L884.5 695.2L889.7 689.3L895.0 683.2" fill="none" stroke="#10108c" stroke-width="1.3" stroke-linejoin="round" />
<path d="M45.0 619.2L52.4 615.1L57.5 616.7L67.9 618.7L73.1 619.7L78.2 627.6L83.4 639.3L88.7 653.5L93.9 668.3L99.1 684.2L104.3 699.2L109.4 715.1L114.6 730.1L119.8 745.1L125.0 754.3L130.3 755.2L135.5 758.5L140.7 765.2L145.8 769.3L151.0 771.0L156.2 771.9L161.5 773.5L166.7 774.9L171.9 776.9L177.1 775.2L182.2 772.7L187.4 773.5L192.6 773.5L197.8 770.2L203.1 766.8L208.3 751.0L213.5 738.5L218.6 730.1L223.8 723.4L229.1 717.6L234.3 716.8L239.5 724.3L244.7 730.1L249.8 732.6L255.0 732.6L260.4 739.3L260.0 740.1L265.2 746.8L270.4 751.5L275.7 750.2L280.9 745.1L286.1 740.1L291.2 735.1L296.4 729.3L301.6 721.8L306.9 715.9L312.1 713.4L317.3 710.9L322.4 714.3L327.6 725.1L332.8 733.5L338.1 746.8L343.3 757.7L348.5 763.5L353.7 766.0L358.8 761.8L364.2 751.0L369.4 735.1L374.5 716.8L379.7 703.4L384.9 692.0L390.1 668.6L395.4 650.3L400.6 631.9L405.8 621.0L410.9 626.0L416.1 630.2L421.3 638.6L426.6 651.9L431.8 663.6L437.0 672.0L442.1 671.1L447.3 667.8L452.7 670.3L457.8 669.4L463.0 664.4L468.2 656.9L473.3 645.2L478.5 635.2L483.7 628.5L489.0 621.8L494.2 616.0L499.4 611.8L504.6 616.0L509.7 614.3L515.1 611.0L520.3 609.3L525.4 596.8L530.6 575.1L535.8 550.2L541.0 531.9L546.3 518.5L551.5 510.2L556.7 505.2L561.8 501.8L567.0 501.0L572.2 504.3L577.5 501.8L582.7 496.8L587.9 492.6L593.0 492.6L598.2 495.1L603.4 497.6L608.7 493.5L613.9 489.3L619.1 489.8L624.3 500.2L629.4 516.8L634.6 523.5L640.0 526.0L645.1 529.4L650.3 536.0L655.5 550.2L660.7 559.4L665.8 565.3L671.2 568.6L676.4 580.3L681.5 595.3L681.5 593.3L686.7 608.4L691.9 631.7L697.2 650.1L702.4 668.5L707.5 685.2L712.7 700.2L717.9 713.5L723.2 726.9L728.4 738.6L733.6 744.4L738.8 736.9L743.9 731.9L749.1 736.1L754.5 738.6L759.6 741.1L764.8 741.6L770.0 738.6L775.2 735.2L780.5 736.1L785.7 739.4L790.9 747.8L796.0 748.6L801.2 747.8L806.4 746.1L811.7 743.6L816.9 742.3L822.1 741.6L827.2 733.6L832.4 728.6L837.6 712.7L842.9 700.2L848.1 690.2L853.3 686.0L858.5 692.7L863.6 695.2L869.0 701.0L874.2 696.8L879.3 690.2L884.5 683.5L889.7 673.5L895.0 666.5" fill="none" stroke="#0a6a0a" stroke-width="2.6" stroke-linejoin="round" stroke-dasharray="2.6 3.2"/>
<g shape-rendering="crispEdges">
<path d="M46.5 615.1V626.4M46.5 630.4V638.9" stroke="#000" stroke-width="1"/>
<rect x="44.6" y="627.0" width="3.8" height="2.9" fill="none" stroke="#000" stroke-width="1"/>
<path d="M51.5 591.7V595.4M51.5 621.7V631.8" stroke="#000" stroke-width="1"/>
<rect x="49.6" y="595.9" width="3.8" height="25.3" fill="none" stroke="#000" stroke-width="1"/>
<path d="M57.5 593.0V643.8" stroke="#d4002a" stroke-width="1"/>
<rect x="55.0" y="598.4" width="5" height="27.2" fill="#d4002a"/>
<path d="M62.5 606.7V615.6M62.5 631.4V640.1" stroke="#000" stroke-width="1"/>
<rect x="60.6" y="616.1" width="3.8" height="14.8" fill="none" stroke="#000" stroke-width="1"/>
<path d="M67.5 608.1V646.0" stroke="#d4002a" stroke-width="1"/>
<rect x="65.0" y="620.1" width="5" height="11.4" fill="#d4002a"/>
<path d="M72.5 610.1V622.6M72.5 637.6V638.4" stroke="#000" stroke-width="1"/>
<rect x="70.6" y="623.1" width="3.8" height="13.9" fill="none" stroke="#000" stroke-width="1"/>
<path d="M77.5 619.7V667.7" stroke="#d4002a" stroke-width="1"/>
<rect x="75.0" y="625.1" width="5" height="34.6" fill="#d4002a"/>
<path d="M83.5 653.1V714.9" stroke="#d4002a" stroke-width="1"/>
<rect x="81.0" y="656.3" width="5" height="30.2" fill="#d4002a"/>
<path d="M88.5 668.5V707.7" stroke="#d4002a" stroke-width="1"/>
<rect x="86.0" y="683.2" width="5" height="18.4" fill="#d4002a"/>
<path d="M93.5 691.4V767.8" stroke="#d4002a" stroke-width="1"/>
<rect x="91.0" y="697.2" width="5" height="68.6" fill="#d4002a"/>
<path d="M98.5 715.1V732.3M98.5 760.5V761.0" stroke="#000" stroke-width="1"/>
<rect x="96.6" y="732.8" width="3.8" height="27.1" fill="none" stroke="#000" stroke-width="1"/>
<path d="M103.5 730.1V766.8" stroke="#d4002a" stroke-width="1"/>
<rect x="101.0" y="736.0" width="5" height="16.7" fill="#d4002a"/>
<path d="M109.5 753.5V811.9" stroke="#d4002a" stroke-width="1"/>
<rect x="107.0" y="758.2" width="5" height="38.7" fill="#d4002a"/>
<path d="M114.5 774.4V811.1" stroke="#000" stroke-width="1"/>
<rect x="112.0" y="793.6" width="5" height="1.6" fill="#000"/>
<path d="M119.5 777.7V831.1" stroke="#d4002a" stroke-width="1"/>
<rect x="117.0" y="779.9" width="5" height="41.2" fill="#d4002a"/>
<path d="M124.5 791.1V809.1M124.5 811.6V826.9" stroke="#000" stroke-width="1"/>
<rect x="122.6" y="809.6" width="3.8" height="1.4" fill="none" stroke="#000" stroke-width="1"/>
<path d="M129.5 741.3V743.5M129.5 808.6V809.4" stroke="#000" stroke-width="1"/>
<rect x="127.6" y="744.0" width="3.8" height="64.0" fill="none" stroke="#000" stroke-width="1"/>
<path d="M135.5 737.6V793.6" stroke="#d4002a" stroke-width="1"/>
<rect x="133.0" y="751.0" width="5" height="21.7" fill="#d4002a"/>
<path d="M140.5 772.2V823.6" stroke="#d4002a" stroke-width="1"/>
<rect x="138.0" y="774.9" width="5" height="36.2" fill="#d4002a"/>
<path d="M145.5 769.3V777.4M145.5 803.6V818.6" stroke="#000" stroke-width="1"/>
<rect x="143.6" y="777.9" width="3.8" height="25.1" fill="none" stroke="#000" stroke-width="1"/>
<path d="M150.5 776.9V807.7" stroke="#d4002a" stroke-width="1"/>
<rect x="148.0" y="779.5" width="5" height="1.6" fill="#d4002a"/>
<path d="M155.5 766.8V777.4M155.5 788.2V809.7" stroke="#000" stroke-width="1"/>
<rect x="153.6" y="777.9" width="3.8" height="9.8" fill="none" stroke="#000" stroke-width="1"/>
<path d="M161.5 768.5V777.4M161.5 808.6V811.9" stroke="#d4002a" stroke-width="1"/>
<rect x="159.6" y="777.9" width="3.8" height="30.1" fill="none" stroke="#d4002a" stroke-width="1"/>
<path d="M166.5 769.3V802.7" stroke="#000" stroke-width="1"/>
<rect x="164.0" y="777.0" width="5" height="1.6" fill="#000"/>
<path d="M171.5 770.2V801.1" stroke="#d4002a" stroke-width="1"/>
<rect x="169.0" y="788.2" width="5" height="9.5" fill="#d4002a"/>
<path d="M176.5 751.0V764.3M176.5 800.2V800.7" stroke="#000" stroke-width="1"/>
<rect x="174.6" y="764.9" width="3.8" height="34.8" fill="none" stroke="#000" stroke-width="1"/>
<path d="M181.5 743.0V795.6" stroke="#000" stroke-width="1"/>
<rect x="179.0" y="753.8" width="5" height="6.8" fill="#000"/>
<path d="M187.5 745.1V783.5" stroke="#d4002a" stroke-width="1"/>
<rect x="185.0" y="759.3" width="5" height="15.9" fill="#d4002a"/>
<path d="M192.5 756.0V763.5M192.5 777.4V786.4" stroke="#000" stroke-width="1"/>
<rect x="190.6" y="764.1" width="3.8" height="12.8" fill="none" stroke="#000" stroke-width="1"/>
<path d="M197.5 746.8V752.3M197.5 760.2V802.7" stroke="#000" stroke-width="1"/>
<rect x="195.6" y="752.9" width="3.8" height="6.7" fill="none" stroke="#000" stroke-width="1"/>
<path d="M202.5 758.5V779.4" stroke="#d4002a" stroke-width="1"/>
<rect x="200.0" y="763.8" width="5" height="3.8" fill="#d4002a"/>
<path d="M207.5 678.9V683.4M207.5 756.3V764.8" stroke="#000" stroke-width="1"/>
<rect x="205.6" y="683.9" width="3.8" height="71.9" fill="none" stroke="#000" stroke-width="1"/>
<path d="M213.5 656.0V694.2" stroke="#d4002a" stroke-width="1"/>
<rect x="211.0" y="685.9" width="5" height="5.5" fill="#d4002a"/>
<path d="M218.5 673.4V707.6" stroke="#d4002a" stroke-width="1"/>
<rect x="216.0" y="685.0" width="5" height="14.5" fill="#d4002a"/>
<path d="M223.5 676.2V688.7M223.5 693.4V696.7" stroke="#000" stroke-width="1"/>
<rect x="221.6" y="689.3" width="3.8" height="3.6" fill="none" stroke="#000" stroke-width="1"/>
<path d="M228.5 665.0V695.4" stroke="#000" stroke-width="1"/>
<rect x="226.0" y="677.5" width="5" height="8.8" fill="#000"/>
<path d="M234.5 678.4V724.3" stroke="#d4002a" stroke-width="1"/>
<rect x="232.0" y="690.1" width="5" height="20.5" fill="#d4002a"/>
<path d="M239.5 714.3V760.2" stroke="#d4002a" stroke-width="1"/>
<rect x="237.0" y="724.6" width="5" height="33.1" fill="#d4002a"/>
<path d="M244.5 743.5V770.2" stroke="#d4002a" stroke-width="1"/>
<rect x="242.0" y="746.8" width="5" height="17.5" fill="#d4002a"/>
<path d="M249.5 737.6V740.5M249.5 757.2V764.3" stroke="#000" stroke-width="1"/>
<rect x="247.6" y="741.0" width="3.8" height="15.6" fill="none" stroke="#000" stroke-width="1"/>
<path d="M254.5 716.3V727.3M254.5 736.3V753.5" stroke="#000" stroke-width="1"/>
<rect x="252.6" y="727.8" width="3.8" height="7.9" fill="none" stroke="#000" stroke-width="1"/>
<path d="M260.5 710.1V772.7" stroke="#d4002a" stroke-width="1"/>
<rect x="258.0" y="726.3" width="5" height="32.6" fill="#d4002a"/>
<path d="M265.5 751.8V801.9" stroke="#d4002a" stroke-width="1"/>
<rect x="263.0" y="768.2" width="5" height="23.7" fill="#d4002a"/>
<path d="M270.5 769.8V775.2M270.5 786.4V793.6" stroke="#000" stroke-width="1"/>
<rect x="268.6" y="775.7" width="3.8" height="10.1" fill="none" stroke="#000" stroke-width="1"/>
<path d="M275.5 743.0V749.3M275.5 775.2V789.4" stroke="#000" stroke-width="1"/>
<rect x="273.6" y="749.9" width="3.8" height="24.8" fill="none" stroke="#000" stroke-width="1"/>
<path d="M280.5 697.6V709.2M280.5 749.6V753.5" stroke="#000" stroke-width="1"/>
<rect x="278.6" y="709.8" width="3.8" height="39.3" fill="none" stroke="#000" stroke-width="1"/>
<path d="M286.5 698.1V731.8" stroke="#d4002a" stroke-width="1"/>
<rect x="284.0" y="703.1" width="5" height="18.7" fill="#d4002a"/>
<path d="M291.5 699.2V717.6M291.5 721.4V724.8" stroke="#000" stroke-width="1"/>
<rect x="289.6" y="718.1" width="3.8" height="2.7" fill="none" stroke="#000" stroke-width="1"/>
<path d="M296.5 693.1V720.9" stroke="#000" stroke-width="1"/>
<rect x="294.0" y="712.3" width="5" height="3.7" fill="#000"/>
<path d="M301.5 680.0V690.6M301.5 703.1V710.9" stroke="#000" stroke-width="1"/>
<rect x="299.6" y="691.1" width="3.8" height="11.4" fill="none" stroke="#000" stroke-width="1"/>
<path d="M306.5 660.3V684.5M306.5 690.9V704.7" stroke="#000" stroke-width="1"/>
<rect x="304.6" y="685.1" width="3.8" height="5.2" fill="none" stroke="#000" stroke-width="1"/>
<path d="M312.5 674.2V712.6" stroke="#d4002a" stroke-width="1"/>
<rect x="310.0" y="675.0" width="5" height="21.7" fill="#d4002a"/>
<path d="M317.5 681.7V707.6" stroke="#d4002a" stroke-width="1"/>
<rect x="315.0" y="695.1" width="5" height="9.7" fill="#d4002a"/>
<path d="M322.5 690.1V743.5" stroke="#d4002a" stroke-width="1"/>
<rect x="320.0" y="700.9" width="5" height="20.9" fill="#d4002a"/>
<path d="M327.5 734.3V774.9" stroke="#d4002a" stroke-width="1"/>
<rect x="325.0" y="740.1" width="5" height="33.9" fill="#d4002a"/>
<path d="M332.5 755.2V757.7M332.5 764.3V777.7" stroke="#000" stroke-width="1"/>
<rect x="330.6" y="758.2" width="3.8" height="5.6" fill="none" stroke="#000" stroke-width="1"/>
<path d="M338.5 751.0V807.7" stroke="#d4002a" stroke-width="1"/>
<rect x="336.0" y="751.8" width="5" height="55.1" fill="#d4002a"/>
<path d="M343.5 779.9V796.6M343.5 802.7V809.7" stroke="#000" stroke-width="1"/>
<rect x="341.6" y="797.1" width="3.8" height="5.1" fill="none" stroke="#000" stroke-width="1"/>
<path d="M348.5 775.2V803.6" stroke="#000" stroke-width="1"/>
<rect x="346.0" y="786.5" width="5" height="4.2" fill="#000"/>
<path d="M353.5 791.1V798.2M353.5 802.7V824.4" stroke="#d4002a" stroke-width="1"/>
<rect x="351.6" y="798.8" width="3.8" height="3.4" fill="none" stroke="#d4002a" stroke-width="1"/>
<path d="M358.5 736.0V743.5M358.5 797.4V811.1" stroke="#000" stroke-width="1"/>
<rect x="356.6" y="744.0" width="3.8" height="52.8" fill="none" stroke="#000" stroke-width="1"/>
<path d="M364.5 690.9V701.2M364.5 736.5V736.8" stroke="#000" stroke-width="1"/>
<rect x="362.6" y="701.8" width="3.8" height="34.1" fill="none" stroke="#000" stroke-width="1"/>
<path d="M369.5 656.2V662.8M369.5 699.6V704.7" stroke="#000" stroke-width="1"/>
<rect x="367.6" y="663.4" width="3.8" height="35.6" fill="none" stroke="#000" stroke-width="1"/>
<path d="M374.5 666.2V702.6" stroke="#d4002a" stroke-width="1"/>
<rect x="372.0" y="675.0" width="5" height="11.7" fill="#d4002a"/>
<path d="M379.5 624.4V628.2M379.5 688.3V691.2" stroke="#000" stroke-width="1"/>
<rect x="377.6" y="628.8" width="3.8" height="59.0" fill="none" stroke="#000" stroke-width="1"/>
<path d="M384.5 591.0V606.3M384.5 626.0V631.1" stroke="#000" stroke-width="1"/>
<rect x="382.6" y="606.9" width="3.8" height="18.6" fill="none" stroke="#000" stroke-width="1"/>
<path d="M390.5 574.3V587.3M390.5 599.3V619.9" stroke="#000" stroke-width="1"/>
<rect x="388.6" y="587.9" width="3.8" height="10.9" fill="none" stroke="#000" stroke-width="1"/>
<path d="M395.5 540.9V560.4M395.5 578.1V586.0" stroke="#000" stroke-width="1"/>
<rect x="393.6" y="561.0" width="3.8" height="16.6" fill="none" stroke="#000" stroke-width="1"/>
<path d="M400.5 531.7V545.1M400.5 556.4V574.3" stroke="#000" stroke-width="1"/>
<rect x="398.6" y="545.6" width="3.8" height="10.3" fill="none" stroke="#000" stroke-width="1"/>
<path d="M405.5 540.1V591.0" stroke="#d4002a" stroke-width="1"/>
<rect x="403.0" y="553.1" width="5" height="25.4" fill="#d4002a"/>
<path d="M410.5 571.0V654.4" stroke="#d4002a" stroke-width="1"/>
<rect x="408.0" y="576.8" width="5" height="72.6" fill="#d4002a"/>
<path d="M416.5 636.1V660.3" stroke="#d4002a" stroke-width="1"/>
<rect x="414.0" y="650.6" width="5" height="1.6" fill="#d4002a"/>
<path d="M421.5 646.1V685.6" stroke="#d4002a" stroke-width="1"/>
<rect x="419.0" y="650.3" width="5" height="30.1" fill="#d4002a"/>
<path d="M426.5 674.5V721.8" stroke="#d4002a" stroke-width="1"/>
<rect x="424.0" y="680.0" width="5" height="33.7" fill="#d4002a"/>
<path d="M431.5 697.1V711.4M431.5 715.4V726.8" stroke="#000" stroke-width="1"/>
<rect x="429.6" y="712.0" width="3.8" height="2.9" fill="none" stroke="#000" stroke-width="1"/>
<path d="M436.5 706.4V714.3M436.5 716.8V736.0" stroke="#d4002a" stroke-width="1"/>
<rect x="434.6" y="714.8" width="3.8" height="1.4" fill="none" stroke="#d4002a" stroke-width="1"/>
<path d="M442.5 651.2V669.7M442.5 706.4V706.7" stroke="#000" stroke-width="1"/>
<rect x="440.6" y="670.2" width="3.8" height="35.6" fill="none" stroke="#000" stroke-width="1"/>
<path d="M447.5 617.7V640.6M447.5 656.1V673.6" stroke="#000" stroke-width="1"/>
<rect x="445.6" y="641.1" width="3.8" height="14.4" fill="none" stroke="#000" stroke-width="1"/>
<path d="M452.5 630.2V692.0" stroke="#d4002a" stroke-width="1"/>
<rect x="450.0" y="635.2" width="5" height="48.4" fill="#d4002a"/>
<path d="M457.5 655.3V669.4M457.5 689.5V692.8" stroke="#000" stroke-width="1"/>
<rect x="455.6" y="670.0" width="3.8" height="18.9" fill="none" stroke="#000" stroke-width="1"/>
<path d="M462.5 646.1V663.6M462.5 674.5V694.5" stroke="#000" stroke-width="1"/>
<rect x="460.6" y="664.2" width="3.8" height="9.8" fill="none" stroke="#000" stroke-width="1"/>
<path d="M468.5 599.3V609.3M468.5 656.4V661.0" stroke="#000" stroke-width="1"/>
<rect x="466.6" y="609.8" width="3.8" height="46.0" fill="none" stroke="#000" stroke-width="1"/>
<path d="M473.5 565.0V589.6M473.5 608.4V615.1" stroke="#000" stroke-width="1"/>
<rect x="471.6" y="590.1" width="3.8" height="17.8" fill="none" stroke="#000" stroke-width="1"/>
<path d="M478.5 540.8V594.3" stroke="#000" stroke-width="1"/>
<rect x="476.0" y="581.2" width="5" height="4.2" fill="#000"/>
<path d="M483.5 566.7V626.8" stroke="#d4002a" stroke-width="1"/>
<rect x="481.0" y="581.2" width="5" height="40.6" fill="#d4002a"/>
<path d="M488.5 585.9V595.4M488.5 621.3V642.7" stroke="#000" stroke-width="1"/>
<rect x="486.6" y="596.0" width="3.8" height="24.8" fill="none" stroke="#000" stroke-width="1"/>
<path d="M494.5 579.2V589.6M494.5 592.3V616.8" stroke="#000" stroke-width="1"/>
<rect x="492.6" y="590.1" width="3.8" height="1.6" fill="none" stroke="#000" stroke-width="1"/>
<path d="M499.5 542.0V591.8" stroke="#000" stroke-width="1"/>
<rect x="497.0" y="575.1" width="5" height="7.5" fill="#000"/>
<path d="M504.5 558.4V650.2" stroke="#d4002a" stroke-width="1"/>
<rect x="502.0" y="590.1" width="5" height="44.2" fill="#d4002a"/>
<path d="M509.5 583.1V605.4M509.5 634.3V634.7" stroke="#000" stroke-width="1"/>
<rect x="507.6" y="606.0" width="3.8" height="27.8" fill="none" stroke="#000" stroke-width="1"/>
<path d="M514.5 581.7V601.8M514.5 607.3V623.5" stroke="#000" stroke-width="1"/>
<rect x="512.6" y="602.3" width="3.8" height="4.4" fill="none" stroke="#000" stroke-width="1"/>
<path d="M520.5 590.1V618.5" stroke="#d4002a" stroke-width="1"/>
<rect x="518.0" y="603.1" width="5" height="6.7" fill="#d4002a"/>
<path d="M525.5 545.0V548.3M525.5 601.8V602.6" stroke="#000" stroke-width="1"/>
<rect x="523.6" y="548.9" width="3.8" height="52.3" fill="none" stroke="#000" stroke-width="1"/>
<path d="M530.5 464.3V465.6M530.5 549.4V551.9" stroke="#000" stroke-width="1"/>
<rect x="528.6" y="466.1" width="3.8" height="82.7" fill="none" stroke="#000" stroke-width="1"/>
<path d="M535.5 440.9V463.8M535.5 467.1V504.8" stroke="#000" stroke-width="1"/>
<rect x="533.6" y="464.3" width="3.8" height="2.2" fill="none" stroke="#000" stroke-width="1"/>
<path d="M540.5 421.7V442.6M540.5 463.4V463.8" stroke="#000" stroke-width="1"/>
<rect x="538.6" y="443.1" width="3.8" height="19.8" fill="none" stroke="#000" stroke-width="1"/>
<path d="M546.5 437.0V491.0" stroke="#d4002a" stroke-width="1"/>
<rect x="544.0" y="440.1" width="5" height="39.7" fill="#d4002a"/>
<path d="M551.5 443.1V453.7M551.5 488.1V503.5" stroke="#000" stroke-width="1"/>
<rect x="549.6" y="454.3" width="3.8" height="33.3" fill="none" stroke="#000" stroke-width="1"/>
<path d="M556.5 437.0V496.0" stroke="#d4002a" stroke-width="1"/>
<rect x="554.0" y="459.2" width="5" height="31.4" fill="#d4002a"/>
<path d="M561.5 455.9V481.8M561.5 486.5V491.0" stroke="#000" stroke-width="1"/>
<rect x="559.6" y="482.3" width="3.8" height="3.6" fill="none" stroke="#000" stroke-width="1"/>
<path d="M567.5 482.1V526.0" stroke="#d4002a" stroke-width="1"/>
<rect x="565.0" y="488.1" width="5" height="4.5" fill="#d4002a"/>
<path d="M572.5 486.0V531.0" stroke="#d4002a" stroke-width="1"/>
<rect x="570.0" y="498.5" width="5" height="21.7" fill="#d4002a"/>
<path d="M577.5 490.1V501.5M577.5 515.2V526.9" stroke="#000" stroke-width="1"/>
<rect x="575.6" y="502.0" width="3.8" height="12.6" fill="none" stroke="#000" stroke-width="1"/>
<path d="M582.5 455.9V467.6M582.5 496.5V516.8" stroke="#000" stroke-width="1"/>
<rect x="580.6" y="468.1" width="3.8" height="27.8" fill="none" stroke="#000" stroke-width="1"/>
<path d="M587.5 427.5V475.9" stroke="#d4002a" stroke-width="1"/>
<rect x="585.0" y="460.1" width="5" height="11.4" fill="#d4002a"/>
<path d="M593.5 459.2V517.7" stroke="#d4002a" stroke-width="1"/>
<rect x="591.0" y="466.4" width="5" height="27.9" fill="#d4002a"/>
<path d="M598.5 482.6V514.8" stroke="#d4002a" stroke-width="1"/>
<rect x="596.0" y="498.5" width="5" height="10.0" fill="#d4002a"/>
<path d="M603.5 497.6V505.7M603.5 510.2V529.9" stroke="#000" stroke-width="1"/>
<rect x="601.6" y="506.2" width="3.8" height="3.4" fill="none" stroke="#000" stroke-width="1"/>
<path d="M608.5 465.9V467.6M608.5 503.2V511.0" stroke="#000" stroke-width="1"/>
<rect x="606.6" y="468.1" width="3.8" height="34.5" fill="none" stroke="#000" stroke-width="1"/>
<path d="M613.5 463.1V499.3" stroke="#d4002a" stroke-width="1"/>
<rect x="611.0" y="468.4" width="5" height="5.8" fill="#d4002a"/>
<path d="M619.5 464.8V501.0" stroke="#d4002a" stroke-width="1"/>
<rect x="617.0" y="479.3" width="5" height="20.9" fill="#d4002a"/>
<path d="M624.5 498.5V566.9" stroke="#d4002a" stroke-width="1"/>
<rect x="622.0" y="499.6" width="5" height="39.7" fill="#d4002a"/>
<path d="M629.5 550.9V609.8" stroke="#d4002a" stroke-width="1"/>
<rect x="627.0" y="560.9" width="5" height="45.1" fill="#d4002a"/>
<path d="M634.5 543.7V546.7M634.5 607.3V626.0" stroke="#000" stroke-width="1"/>
<rect x="632.6" y="547.2" width="3.8" height="59.5" fill="none" stroke="#000" stroke-width="1"/>
<path d="M639.5 526.9V529.4M639.5 549.9V590.6" stroke="#000" stroke-width="1"/>
<rect x="637.6" y="529.9" width="3.8" height="19.4" fill="none" stroke="#000" stroke-width="1"/>
<path d="M645.5 510.2V561.1" stroke="#d4002a" stroke-width="1"/>
<rect x="643.0" y="536.4" width="5" height="13.9" fill="#d4002a"/>
<path d="M650.5 533.5V580.6" stroke="#d4002a" stroke-width="1"/>
<rect x="648.0" y="552.2" width="5" height="24.2" fill="#d4002a"/>
<path d="M655.5 570.9V616.8" stroke="#d4002a" stroke-width="1"/>
<rect x="653.0" y="577.1" width="5" height="36.4" fill="#d4002a"/>
<path d="M660.5 562.2V572.2M660.5 610.1V618.5" stroke="#000" stroke-width="1"/>
<rect x="658.6" y="572.8" width="3.8" height="36.8" fill="none" stroke="#000" stroke-width="1"/>
<path d="M665.5 565.0V613.5" stroke="#d4002a" stroke-width="1"/>
<rect x="663.0" y="570.4" width="5" height="33.1" fill="#d4002a"/>
<path d="M671.5 565.0V591.8M671.5 603.9V604.3" stroke="#000" stroke-width="1"/>
<rect x="669.6" y="592.3" width="3.8" height="11.1" fill="none" stroke="#000" stroke-width="1"/>
<path d="M676.5 585.1V635.2" stroke="#d4002a" stroke-width="1"/>
<rect x="674.0" y="593.9" width="5" height="29.5" fill="#d4002a"/>
<path d="M681.5 610.1V666.0" stroke="#d4002a" stroke-width="1"/>
<rect x="679.0" y="620.5" width="5" height="43.9" fill="#d4002a"/>
<path d="M686.5 656.9V710.3" stroke="#d4002a" stroke-width="1"/>
<rect x="684.0" y="657.7" width="5" height="45.9" fill="#d4002a"/>
<path d="M691.5 681.5V730.6" stroke="#d4002a" stroke-width="1"/>
<rect x="689.0" y="706.0" width="5" height="15.9" fill="#d4002a"/>
<path d="M697.5 703.2V743.6" stroke="#000" stroke-width="1"/>
<rect x="695.0" y="717.9" width="5" height="1.6" fill="#000"/>
<path d="M702.5 709.4V752.8" stroke="#d4002a" stroke-width="1"/>
<rect x="700.0" y="713.2" width="5" height="35.4" fill="#d4002a"/>
<path d="M707.5 748.6V775.3" stroke="#d4002a" stroke-width="1"/>
<rect x="705.0" y="749.4" width="5" height="17.2" fill="#d4002a"/>
<path d="M712.5 736.1V756.6M712.5 764.5V768.3" stroke="#000" stroke-width="1"/>
<rect x="710.6" y="757.2" width="3.8" height="6.7" fill="none" stroke="#000" stroke-width="1"/>
<path d="M717.5 713.4V776.9" stroke="#d4002a" stroke-width="1"/>
<rect x="715.0" y="746.0" width="5" height="27.9" fill="#d4002a"/>
<path d="M723.5 761.8V793.6" stroke="#d4002a" stroke-width="1"/>
<rect x="721.0" y="766.8" width="5" height="22.5" fill="#d4002a"/>
<path d="M728.5 769.8V782.7M728.5 785.5V801.1" stroke="#000" stroke-width="1"/>
<rect x="726.6" y="783.3" width="3.8" height="1.7" fill="none" stroke="#000" stroke-width="1"/>
<path d="M733.5 773.5V796.9" stroke="#000" stroke-width="1"/>
<rect x="731.0" y="777.4" width="5" height="5.0" fill="#000"/>
<path d="M738.5 690.9V701.4M738.5 782.7V786.9" stroke="#000" stroke-width="1"/>
<rect x="736.6" y="702.0" width="3.8" height="80.2" fill="none" stroke="#000" stroke-width="1"/>
<path d="M743.5 688.5V716.5" stroke="#d4002a" stroke-width="1"/>
<rect x="741.0" y="697.2" width="5" height="10.5" fill="#d4002a"/>
<path d="M749.5 665.1V758.3" stroke="#d4002a" stroke-width="1"/>
<rect x="747.0" y="701.0" width="5" height="55.9" fill="#d4002a"/>
<path d="M754.5 739.4V768.6" stroke="#000" stroke-width="1"/>
<rect x="752.0" y="752.4" width="5" height="1.6" fill="#000"/>
<path d="M759.5 728.2V746.6M759.5 754.4V765.3" stroke="#000" stroke-width="1"/>
<rect x="757.6" y="747.1" width="3.8" height="6.7" fill="none" stroke="#000" stroke-width="1"/>
<path d="M764.5 731.9V775.3" stroke="#d4002a" stroke-width="1"/>
<rect x="762.0" y="745.3" width="5" height="4.2" fill="#d4002a"/>
<path d="M769.5 716.0V721.6M769.5 747.3V763.6" stroke="#000" stroke-width="1"/>
<rect x="767.6" y="722.1" width="3.8" height="24.6" fill="none" stroke="#000" stroke-width="1"/>
<path d="M775.5 703.5V739.4" stroke="#d4002a" stroke-width="1"/>
<rect x="773.0" y="720.2" width="5" height="13.4" fill="#d4002a"/>
<path d="M780.5 719.4V748.6" stroke="#d4002a" stroke-width="1"/>
<rect x="778.0" y="730.2" width="5" height="6.7" fill="#d4002a"/>
<path d="M785.5 707.7V759.4" stroke="#d4002a" stroke-width="1"/>
<rect x="783.0" y="731.6" width="5" height="18.7" fill="#d4002a"/>
<path d="M790.5 748.5V791.9" stroke="#d4002a" stroke-width="1"/>
<rect x="788.0" y="751.0" width="5" height="30.9" fill="#d4002a"/>
<path d="M795.5 749.3V758.5M795.5 782.4V794.9" stroke="#000" stroke-width="1"/>
<rect x="793.6" y="759.0" width="3.8" height="22.8" fill="none" stroke="#000" stroke-width="1"/>
<path d="M801.5 726.1V747.3M801.5 756.1V773.6" stroke="#000" stroke-width="1"/>
<rect x="799.6" y="747.8" width="3.8" height="7.7" fill="none" stroke="#000" stroke-width="1"/>
<path d="M806.5 692.7V749.4" stroke="#d4002a" stroke-width="1"/>
<rect x="804.0" y="729.4" width="5" height="18.4" fill="#d4002a"/>
<path d="M811.5 721.1V731.1M811.5 741.1V770.3" stroke="#000" stroke-width="1"/>
<rect x="809.6" y="731.6" width="3.8" height="8.9" fill="none" stroke="#000" stroke-width="1"/>
<path d="M816.5 716.0V729.4M816.5 738.9V742.8" stroke="#000" stroke-width="1"/>
<rect x="814.6" y="729.9" width="3.8" height="8.4" fill="none" stroke="#000" stroke-width="1"/>
<path d="M821.5 703.2V743.6" stroke="#d4002a" stroke-width="1"/>
<rect x="819.0" y="723.2" width="5" height="12.0" fill="#d4002a"/>
<path d="M827.5 692.2V698.5M827.5 724.1V739.4" stroke="#000" stroke-width="1"/>
<rect x="825.6" y="699.1" width="3.8" height="24.4" fill="none" stroke="#000" stroke-width="1"/>
<path d="M832.5 696.8V731.1" stroke="#d4002a" stroke-width="1"/>
<rect x="830.0" y="706.4" width="5" height="6.3" fill="#d4002a"/>
<path d="M837.5 630.9V642.6M837.5 708.2V713.5" stroke="#000" stroke-width="1"/>
<rect x="835.6" y="643.1" width="3.8" height="64.5" fill="none" stroke="#000" stroke-width="1"/>
<path d="M842.5 611.7V655.9" stroke="#d4002a" stroke-width="1"/>
<rect x="840.0" y="647.3" width="5" height="7.0" fill="#d4002a"/>
<path d="M847.5 635.9V681.0" stroke="#d4002a" stroke-width="1"/>
<rect x="845.0" y="653.1" width="5" height="11.7" fill="#d4002a"/>
<path d="M853.5 623.1V635.4M853.5 658.1V668.5" stroke="#000" stroke-width="1"/>
<rect x="851.6" y="636.0" width="3.8" height="21.6" fill="none" stroke="#000" stroke-width="1"/>
<path d="M858.5 630.1V740.3" stroke="#d4002a" stroke-width="1"/>
<rect x="856.0" y="638.1" width="5" height="93.0" fill="#d4002a"/>
<path d="M863.5 694.3V703.5M863.5 719.0V731.6" stroke="#000" stroke-width="1"/>
<rect x="861.6" y="704.1" width="3.8" height="14.4" fill="none" stroke="#000" stroke-width="1"/>
<path d="M868.5 703.2V736.9" stroke="#d4002a" stroke-width="1"/>
<rect x="866.0" y="705.2" width="5" height="14.2" fill="#d4002a"/>
<path d="M873.5 667.6V675.5M873.5 718.2V731.1" stroke="#000" stroke-width="1"/>
<rect x="871.6" y="676.0" width="3.8" height="41.6" fill="none" stroke="#000" stroke-width="1"/>
<path d="M879.5 655.9V687.7" stroke="#000" stroke-width="1"/>
<rect x="877.0" y="672.0" width="5" height="1.6" fill="#000"/>
<path d="M884.5 661.0V661.5M884.5 678.5V702.7" stroke="#000" stroke-width="1"/>
<rect x="882.6" y="662.0" width="3.8" height="15.9" fill="none" stroke="#000" stroke-width="1"/>
<path d="M889.5 615.0V630.4M889.5 661.5V678.5" stroke="#000" stroke-width="1"/>
<rect x="887.6" y="631.0" width="3.8" height="30.0" fill="none" stroke="#000" stroke-width="1"/>
<path d="M894.5 600.9V644.8" stroke="#000" stroke-width="1"/>
<rect x="892.0" y="622.9" width="5" height="3.0" fill="#000"/>
</g>
<path d="M44.5 159.6L46.7 159.6L51.9 159.6L57.1 167.7L62.3 172.7L67.5 186.0L72.7 177.7L77.9 188.5L83.1 200.2L88.3 200.6L93.5 201.6L98.7 188.2L103.9 189.4L109.1 189.4L114.3 198.5L119.5 207.7L124.7 206.6L130.0 194.4L135.2 201.1L140.4 202.7L145.6 200.7L150.8 200.2L156.0 188.2L161.2 190.2L166.4 178.5L171.6 188.5L176.8 179.8L182.0 168.5L187.2 167.3L192.4 165.5L197.6 164.3L202.8 166.5L208.0 151.8L213.2 141.5L218.4 149.3L223.6 142.3L228.8 143.1L234.0 138.4L239.2 150.5L244.4 151.8L249.6 153.0L254.9 153.1L260.1 154.8L265.3 159.3L270.5 161.5L275.7 161.5L280.9 165.5L286.1 167.7L291.3 158.8L296.5 157.3L301.7 157.3L306.9 146.5L312.1 144.3L317.3 141.5L322.5 151.8L327.7 162.3L332.9 161.0L338.1 159.3L343.3 168.2L348.5 169.8L353.7 180.5L358.9 178.2L364.1 173.5L369.3 170.2L374.5 181.5L379.7 179.3L384.9 168.2L390.1 160.2L395.4 149.8L400.6 138.9L405.8 143.5L411.0 148.1L416.2 149.3L421.4 156.8L426.6 158.5L431.8 167.7L437.0 177.7L442.2 176.5L447.4 167.2L452.6 176.8L457.8 186.0L463.0 189.4L468.2 189.4L473.4 187.7L478.6 175.5L483.8 175.2L489.0 176.5L494.2 166.8L499.4 156.5L504.6 160.2L509.8 151.5L515.0 152.6L520.2 159.3L525.4 149.8L530.6 141.0L535.8 137.3L541.1 138.4L546.3 148.1L551.5 149.3L556.7 149.3L561.9 146.5L567.1 155.1L572.3 166.5L577.5 155.6L582.7 155.5L587.9 155.5L593.1 156.5L598.3 165.2L603.5 178.5L608.7 183.5L613.9 186.5L619.1 184.7L624.3 196.5L629.5 195.2L634.7 183.5L639.9 172.7L645.1 162.3L650.3 171.0L655.5 180.2L660.7 181.4L665.9 179.3L671.1 171.3L676.3 172.3L681.5 181.0L686.7 190.2L692.0 191.5L697.2 190.5L702.4 189.4L707.6 201.6L712.8 201.6L718.0 199.4L723.2 199.4L728.4 199.4L733.6 209.4L738.8 194.7L744.0 193.2L749.2 194.4L754.4 194.4L759.6 187.7L764.8 187.4L770.0 176.8L775.2 169.8L780.4 167.3L785.6 178.2L790.8 188.5L796.0 176.8L801.2 168.5L806.4 156.5L811.6 170.5L816.8 168.5L822.0 153.5L827.2 144.6L832.5 153.1L837.7 143.8L842.9 141.5L848.1 149.3L853.3 142.6L858.5 148.5L863.7 147.3L868.9 154.3L874.1 154.6L879.3 157.3L884.5 153.1L889.7 154.3L894.9 155.5" fill="none" stroke="#1a1a1a" stroke-width="1.3" stroke-linejoin="round" />
<path d="M44.5 305.5L51.9 300.1L57.0 296.8L62.4 293.1L67.5 293.4L72.7 294.6L77.9 298.4L83.1 303.5L88.4 313.1L93.6 325.5L98.8 338.5L103.9 350.2L109.1 359.4L114.3 369.4L119.5 378.6L124.8 386.1L130.0 386.4L135.2 380.3L140.3 374.7L145.5 373.6L150.7 375.6L156.0 376.4L161.2 375.2L166.4 373.6L171.6 374.1L176.7 374.6L181.9 373.9L187.2 371.1L192.4 369.4L197.6 367.7L202.8 366.9L207.9 361.9L213.1 354.4L218.5 344.4L223.6 337.7L228.8 334.3L234.0 334.3L239.2 338.5L244.5 346.9L249.7 355.2L254.9 359.4L260.0 359.4L265.2 360.2L270.4 364.9L275.7 369.1L280.9 366.9L286.1 359.9L291.2 351.5L296.4 347.2L301.6 344.0L306.9 341.0L312.1 337.7L317.3 335.5L322.4 336.5L327.6 342.7L332.8 349.9L338.1 358.9L343.3 366.1L348.5 372.7L353.7 375.2L358.8 373.6L364.2 364.1L369.4 345.2L374.5 324.3L379.7 304.3L384.9 290.9L390.1 277.6L395.4 268.7L400.6 263.7L405.8 265.1L410.9 271.7L416.1 283.4L421.3 298.4L426.6 313.0L431.8 326.5L437.0 336.5L442.1 340.2L447.3 336.3L452.7 328.5L457.8 323.2L463.0 322.3L468.2 319.3L473.3 312.6L478.5 300.1L483.7 291.3L489.0 288.8L494.2 289.3L499.4 287.6L504.6 288.4L509.7 289.3L515.1 293.4L520.3 293.9L525.4 290.1L530.6 282.6L535.8 271.7L541.0 264.2L546.3 262.6L551.5 265.4L556.7 270.1L561.8 272.6L567.0 275.9L572.2 278.7L577.5 282.6L582.7 284.3L587.9 281.4L593.0 278.4L598.2 277.6L603.4 280.1L608.7 282.3L613.9 281.4L619.1 278.7L624.3 280.1L629.4 287.9L634.6 298.1L640.0 304.8L645.1 304.3L650.3 303.5L655.5 305.5L660.7 311.0L665.8 316.5L671.2 319.3L676.4 325.2L681.5 335.2L686.7 350.2L691.9 365.2L697.2 376.9L702.4 386.1L707.5 390.3L712.7 391.6L717.9 392.8L723.2 393.3L728.4 393.6L733.6 393.6L738.8 389.4L743.9 381.9L749.1 374.4L754.5 372.4L759.6 374.4L764.8 378.2L770.0 378.2L775.2 376.1L780.5 373.9L785.7 373.9L790.9 376.9L796.0 380.3L801.2 382.3L806.4 382.3L811.7 379.9L816.9 376.9L822.1 374.4L827.2 371.6L832.4 369.4L837.6 363.6L842.9 356.9L848.1 350.2L853.3 346.0L858.5 346.5L863.6 350.5L869.0 358.2L874.2 361.1L879.3 361.6L884.5 355.5L889.7 349.9L895.0 343.5" fill="none" stroke="#ee1010" stroke-width="1.1" stroke-linejoin="round" />
<path d="M44.5 304.3L46.7 303.8L51.9 293.4L57.1 293.4L62.3 291.4L67.5 296.3L72.7 296.4L77.9 303.5L83.1 311.3L88.3 325.2L93.5 341.0L98.7 350.5L103.9 359.7L109.1 367.4L114.3 379.4L119.5 389.1L124.7 389.1L130.0 379.1L135.2 372.4L140.4 372.4L145.6 377.2L150.8 378.2L156.0 373.6L161.2 373.2L166.4 373.2L171.6 376.6L176.8 373.9L182.0 371.1L187.2 368.6L192.4 368.2L197.6 366.9L202.8 365.2L208.0 353.5L213.2 345.2L218.4 333.5L223.6 334.3L228.8 333.5L234.0 335.5L239.2 346.9L244.4 357.7L249.6 362.2L254.9 358.2L260.1 357.7L265.3 364.4L270.5 372.4L275.7 370.2L280.9 358.2L286.1 350.5L291.3 345.2L296.5 346.0L301.7 340.5L306.9 336.0L312.1 333.5L317.3 335.5L322.5 341.0L327.7 351.5L332.9 356.9L338.1 368.2L343.3 371.9L348.5 377.4L353.7 376.6L358.9 366.9L364.1 348.5L369.3 319.3L374.5 306.0L379.7 288.4L384.9 278.4L390.1 264.6L395.4 263.4L400.6 262.6L405.8 269.2L411.0 283.4L416.2 298.4L421.4 313.5L426.6 326.8L431.8 338.5L437.0 344.4L442.2 338.5L447.4 326.0L452.6 321.5L457.8 321.5L463.0 325.2L468.2 311.8L473.4 298.4L478.6 286.8L483.8 288.8L489.0 289.6L494.2 290.1L499.4 283.8L504.6 290.4L509.8 293.4L515.0 296.3L520.2 293.1L525.4 283.1L530.6 270.9L535.8 260.6L541.1 260.6L546.3 267.1L551.5 268.7L556.7 274.2L561.9 274.2L567.1 278.4L572.3 283.1L577.5 285.6L582.7 282.1L587.9 276.4L593.1 275.4L598.3 280.1L603.5 285.1L608.7 281.4L613.9 277.6L619.1 276.7L624.3 285.1L629.5 301.5L634.7 307.3L639.9 306.0L645.1 299.6L650.3 303.5L655.5 313.0L660.7 316.5L665.9 319.6L671.1 321.5L676.3 333.5L681.5 348.5L686.7 366.1L692.0 380.6L697.2 386.9L702.4 391.4L707.6 391.6L712.8 392.8L718.0 393.6L723.2 393.6L728.4 394.4L733.6 392.3L738.8 381.9L744.0 372.2L749.2 369.4L754.4 375.2L759.6 379.4L764.8 379.4L770.0 375.6L775.2 373.9L780.4 372.7L785.6 375.6L790.8 381.6L796.0 383.6L801.2 383.6L806.4 379.7L811.6 376.9L816.8 374.4L822.0 372.2L827.2 368.6L832.5 366.6L837.7 354.9L842.9 349.9L848.1 344.7L853.3 343.9L858.5 352.4L863.7 356.9L868.9 367.4L874.1 361.1L879.3 356.5L884.5 349.4L889.7 343.5L894.9 338.5" fill="none" stroke="#000" stroke-width="1.65" stroke-linejoin="round" />
<rect x="44.5" y="936.0" width="5" height="10.5" fill="#5aa2c8" stroke="#2f7ea8" stroke-width="1"/>
<rect x="49.5" y="936.0" width="5" height="6.5" fill="#5aa2c8" stroke="#2f7ea8" stroke-width="1"/>
<rect x="55.5" y="936.0" width="5" height="8.5" fill="#5aa2c8" stroke="#2f7ea8" stroke-width="1"/>
<rect x="60.5" y="936.0" width="5" height="6.5" fill="#5aa2c8" stroke="#2f7ea8" stroke-width="1"/>
<rect x="65.5" y="936.0" width="5" height="6.5" fill="#5aa2c8" stroke="#2f7ea8" stroke-width="1"/>
<rect x="70.5" y="936.0" width="5" height="6.5" fill="#5aa2c8" stroke="#2f7ea8" stroke-width="1"/>
<rect x="75.5" y="936.0" width="6" height="9.5" fill="#5aa2c8" stroke="#2f7ea8" stroke-width="1"/>
<rect x="81.5" y="936.0" width="5" height="12.5" fill="#5aa2c8" stroke="#2f7ea8" stroke-width="1"/>
<rect x="86.5" y="936.0" width="5" height="14.5" fill="#5aa2c8" stroke="#2f7ea8" stroke-width="1"/>
<rect x="91.5" y="936.0" width="5" height="20.5" fill="#5aa2c8" stroke="#2f7ea8" stroke-width="1"/>
<rect x="96.5" y="936.0" width="5" height="20.5" fill="#5aa2c8" stroke="#2f7ea8" stroke-width="1"/>
<rect x="101.5" y="936.0" width="6" height="20.5" fill="#5aa2c8" stroke="#2f7ea8" stroke-width="1"/>
<rect x="107.5" y="936.0" width="5" height="22.5" fill="#5aa2c8" stroke="#2f7ea8" stroke-width="1"/>
<rect x="112.5" y="936.0" width="5" height="22.5" fill="#5aa2c8" stroke="#2f7ea8" stroke-width="1"/>
<rect x="117.5" y="936.0" width="5" height="22.5" fill="#5aa2c8" stroke="#2f7ea8" stroke-width="1"/>
<rect x="122.5" y="936.0" width="5" height="21.5" fill="#5aa2c8" stroke="#2f7ea8" stroke-width="1"/>
<rect x="127.5" y="936.0" width="6" height="13.5" fill="#5aa2c8" stroke="#2f7ea8" stroke-width="1"/>
<rect x="133.5" y="936.0" width="5" height="9.5" fill="#5aa2c8" stroke="#2f7ea8" stroke-width="1"/>
<rect x="138.5" y="936.0" width="5" height="9.5" fill="#5aa2c8" stroke="#2f7ea8" stroke-width="1"/>
<rect x="143.5" y="936.0" width="5" height="6.5" fill="#5aa2c8" stroke="#2f7ea8" stroke-width="1"/>
<rect x="148.5" y="936.0" width="5" height="3.5" fill="#5aa2c8" stroke="#2f7ea8" stroke-width="1"/>
<rect x="153.5" y="936.0" width="6" height="1.5" fill="#5aa2c8" stroke="#2f7ea8" stroke-width="1"/>
<path d="M159 936.0H164" stroke="#2f7ea8" stroke-width="1"/>
<rect x="164.5" y="933.5" width="5" height="2.5" fill="#5aa2c8" stroke="#2f7ea8" stroke-width="1"/>
<rect x="169.5" y="934.5" width="5" height="1.5" fill="#5aa2c8" stroke="#2f7ea8" stroke-width="1"/>
<rect x="174.5" y="931.5" width="5" height="4.5" fill="#5aa2c8" stroke="#2f7ea8" stroke-width="1"/>
<rect x="179.5" y="930.5" width="6" height="5.5" fill="#5aa2c8" stroke="#2f7ea8" stroke-width="1"/>
<rect x="185.5" y="930.5" width="5" height="5.5" fill="#5aa2c8" stroke="#2f7ea8" stroke-width="1"/>
<rect x="190.5" y="928.5" width="5" height="7.5" fill="#5aa2c8" stroke="#2f7ea8" stroke-width="1"/>
<rect x="195.5" y="926.5" width="5" height="9.5" fill="#5aa2c8" stroke="#2f7ea8" stroke-width="1"/>
<rect x="200.5" y="927.5" width="5" height="8.5" fill="#5aa2c8" stroke="#2f7ea8" stroke-width="1"/>
<rect x="205.5" y="921.5" width="6" height="14.5" fill="#5aa2c8" stroke="#2f7ea8" stroke-width="1"/>
<rect x="211.5" y="918.5" width="5" height="17.5" fill="#5aa2c8" stroke="#2f7ea8" stroke-width="1"/>
<rect x="216.5" y="918.5" width="5" height="17.5" fill="#5aa2c8" stroke="#2f7ea8" stroke-width="1"/>
<rect x="221.5" y="918.5" width="5" height="17.5" fill="#5aa2c8" stroke="#2f7ea8" stroke-width="1"/>
<rect x="226.5" y="918.5" width="5" height="17.5" fill="#5aa2c8" stroke="#2f7ea8" stroke-width="1"/>
<rect x="231.5" y="921.5" width="6" height="14.5" fill="#5aa2c8" stroke="#2f7ea8" stroke-width="1"/>
<rect x="237.5" y="927.5" width="5" height="8.5" fill="#5aa2c8" stroke="#2f7ea8" stroke-width="1"/>
<rect x="242.5" y="932.5" width="5" height="3.5" fill="#5aa2c8" stroke="#2f7ea8" stroke-width="1"/>
<rect x="247.5" y="934.5" width="5" height="1.5" fill="#5aa2c8" stroke="#2f7ea8" stroke-width="1"/>
<rect x="252.5" y="933.5" width="5" height="2.5" fill="#5aa2c8" stroke="#2f7ea8" stroke-width="1"/>
<path d="M257 936.0H263" stroke="#2f7ea8" stroke-width="1"/>
<rect x="263.5" y="936.0" width="5" height="3.5" fill="#5aa2c8" stroke="#2f7ea8" stroke-width="1"/>
<rect x="268.5" y="936.0" width="5" height="4.5" fill="#5aa2c8" stroke="#2f7ea8" stroke-width="1"/>
<rect x="273.5" y="936.0" width="5" height="3.5" fill="#5aa2c8" stroke="#2f7ea8" stroke-width="1"/>
<path d="M278 936.0H283" stroke="#2f7ea8" stroke-width="1"/>
<rect x="283.5" y="933.5" width="6" height="2.5" fill="#5aa2c8" stroke="#2f7ea8" stroke-width="1"/>
<rect x="289.5" y="932.5" width="5" height="3.5" fill="#5aa2c8" stroke="#2f7ea8" stroke-width="1"/>
<rect x="294.5" y="931.5" width="5" height="4.5" fill="#5aa2c8" stroke="#2f7ea8" stroke-width="1"/>
<rect x="299.5" y="929.5" width="5" height="6.5" fill="#5aa2c8" stroke="#2f7ea8" stroke-width="1"/>
<rect x="304.5" y="927.5" width="5" height="8.5" fill="#5aa2c8" stroke="#2f7ea8" stroke-width="1"/>
<rect x="309.5" y="928.5" width="6" height="7.5" fill="#5aa2c8" stroke="#2f7ea8" stroke-width="1"/>
<rect x="315.5" y="930.5" width="5" height="5.5" fill="#5aa2c8" stroke="#2f7ea8" stroke-width="1"/>
<rect x="320.5" y="932.5" width="5" height="3.5" fill="#5aa2c8" stroke="#2f7ea8" stroke-width="1"/>
<rect x="325.5" y="936.0" width="5" height="1.5" fill="#5aa2c8" stroke="#2f7ea8" stroke-width="1"/>
<rect x="330.5" y="936.0" width="6" height="3.5" fill="#5aa2c8" stroke="#2f7ea8" stroke-width="1"/>
<rect x="336.5" y="936.0" width="5" height="9.5" fill="#5aa2c8" stroke="#2f7ea8" stroke-width="1"/>
<rect x="341.5" y="936.0" width="5" height="10.5" fill="#5aa2c8" stroke="#2f7ea8" stroke-width="1"/>
<rect x="346.5" y="936.0" width="5" height="10.5" fill="#5aa2c8" stroke="#2f7ea8" stroke-width="1"/>
<rect x="351.5" y="936.0" width="5" height="10.5" fill="#5aa2c8" stroke="#2f7ea8" stroke-width="1"/>
<rect x="356.5" y="936.0" width="6" height="6.5" fill="#5aa2c8" stroke="#2f7ea8" stroke-width="1"/>
<path d="M362 936.0H367" stroke="#2f7ea8" stroke-width="1"/>
<rect x="367.5" y="929.5" width="5" height="6.5" fill="#5aa2c8" stroke="#2f7ea8" stroke-width="1"/>
<rect x="372.5" y="926.5" width="5" height="9.5" fill="#5aa2c8" stroke="#2f7ea8" stroke-width="1"/>
<rect x="377.5" y="921.5" width="5" height="14.5" fill="#5aa2c8" stroke="#2f7ea8" stroke-width="1"/>
<rect x="382.5" y="916.5" width="6" height="19.5" fill="#5aa2c8" stroke="#2f7ea8" stroke-width="1"/>
<rect x="388.5" y="913.5" width="5" height="22.5" fill="#5aa2c8" stroke="#2f7ea8" stroke-width="1"/>
<rect x="393.5" y="910.5" width="5" height="25.5" fill="#5aa2c8" stroke="#2f7ea8" stroke-width="1"/>
<rect x="398.5" y="909.5" width="5" height="26.5" fill="#5aa2c8" stroke="#2f7ea8" stroke-width="1"/>
<rect x="403.5" y="912.5" width="5" height="23.5" fill="#5aa2c8" stroke="#2f7ea8" stroke-width="1"/>
<rect x="408.5" y="921.5" width="6" height="14.5" fill="#5aa2c8" stroke="#2f7ea8" stroke-width="1"/>
<rect x="414.5" y="928.5" width="5" height="7.5" fill="#5aa2c8" stroke="#2f7ea8" stroke-width="1"/>
<path d="M419 936.0H424" stroke="#2f7ea8" stroke-width="1"/>
<rect x="424.5" y="936.0" width="5" height="6.5" fill="#5aa2c8" stroke="#2f7ea8" stroke-width="1"/>
<rect x="429.5" y="936.0" width="5" height="11.5" fill="#5aa2c8" stroke="#2f7ea8" stroke-width="1"/>
<rect x="434.5" y="936.0" width="6" height="14.5" fill="#5aa2c8" stroke="#2f7ea8" stroke-width="1"/>
<rect x="440.5" y="936.0" width="5" height="12.5" fill="#5aa2c8" stroke="#2f7ea8" stroke-width="1"/>
<rect x="445.5" y="936.0" width="5" height="8.5" fill="#5aa2c8" stroke="#2f7ea8" stroke-width="1"/>
<rect x="450.5" y="936.0" width="5" height="8.5" fill="#5aa2c8" stroke="#2f7ea8" stroke-width="1"/>
<rect x="455.5" y="936.0" width="5" height="6.5" fill="#5aa2c8" stroke="#2f7ea8" stroke-width="1"/>
<rect x="460.5" y="936.0" width="6" height="6.5" fill="#5aa2c8" stroke="#2f7ea8" stroke-width="1"/>
<path d="M466 936.0H471" stroke="#2f7ea8" stroke-width="1"/>
<rect x="471.5" y="932.5" width="5" height="3.5" fill="#5aa2c8" stroke="#2f7ea8" stroke-width="1"/>
<rect x="476.5" y="929.5" width="5" height="6.5" fill="#5aa2c8" stroke="#2f7ea8" stroke-width="1"/>
<rect x="481.5" y="931.5" width="5" height="4.5" fill="#5aa2c8" stroke="#2f7ea8" stroke-width="1"/>
<rect x="486.5" y="930.5" width="6" height="5.5" fill="#5aa2c8" stroke="#2f7ea8" stroke-width="1"/>
<rect x="492.5" y="929.5" width="5" height="6.5" fill="#5aa2c8" stroke="#2f7ea8" stroke-width="1"/>
<rect x="497.5" y="929.5" width="5" height="6.5" fill="#5aa2c8" stroke="#2f7ea8" stroke-width="1"/>
<path d="M502 936.0H507" stroke="#2f7ea8" stroke-width="1"/>
<path d="M507 936.0H512" stroke="#2f7ea8" stroke-width="1"/>
<path d="M512 936.0H518" stroke="#2f7ea8" stroke-width="1"/>
<path d="M518 936.0H523" stroke="#2f7ea8" stroke-width="1"/>
<rect x="523.5" y="932.5" width="5" height="3.5" fill="#5aa2c8" stroke="#2f7ea8" stroke-width="1"/>
<rect x="528.5" y="925.5" width="5" height="10.5" fill="#5aa2c8" stroke="#2f7ea8" stroke-width="1"/>
<rect x="533.5" y="920.5" width="5" height="15.5" fill="#5aa2c8" stroke="#2f7ea8" stroke-width="1"/>
<rect x="538.5" y="915.5" width="6" height="20.5" fill="#5aa2c8" stroke="#2f7ea8" stroke-width="1"/>
<rect x="544.5" y="917.5" width="5" height="18.5" fill="#5aa2c8" stroke="#2f7ea8" stroke-width="1"/>
<rect x="549.5" y="918.5" width="5" height="17.5" fill="#5aa2c8" stroke="#2f7ea8" stroke-width="1"/>
<rect x="554.5" y="923.5" width="5" height="12.5" fill="#5aa2c8" stroke="#2f7ea8" stroke-width="1"/>
<rect x="559.5" y="926.5" width="5" height="9.5" fill="#5aa2c8" stroke="#2f7ea8" stroke-width="1"/>
<rect x="564.5" y="930.5" width="6" height="5.5" fill="#5aa2c8" stroke="#2f7ea8" stroke-width="1"/>
<path d="M570 936.0H575" stroke="#2f7ea8" stroke-width="1"/>
<rect x="575.5" y="936.0" width="5" height="1.5" fill="#5aa2c8" stroke="#2f7ea8" stroke-width="1"/>
<path d="M580 936.0H585" stroke="#2f7ea8" stroke-width="1"/>
<rect x="585.5" y="936.0" width="5" height="1.5" fill="#5aa2c8" stroke="#2f7ea8" stroke-width="1"/>
<rect x="590.5" y="936.0" width="6" height="3.5" fill="#5aa2c8" stroke="#2f7ea8" stroke-width="1"/>
<rect x="596.5" y="936.0" width="5" height="6.5" fill="#5aa2c8" stroke="#2f7ea8" stroke-width="1"/>
<rect x="601.5" y="936.0" width="5" height="9.5" fill="#5aa2c8" stroke="#2f7ea8" stroke-width="1"/>
<rect x="606.5" y="936.0" width="5" height="5.5" fill="#5aa2c8" stroke="#2f7ea8" stroke-width="1"/>
<rect x="611.5" y="936.0" width="6" height="5.5" fill="#5aa2c8" stroke="#2f7ea8" stroke-width="1"/>
<rect x="617.5" y="936.0" width="5" height="6.5" fill="#5aa2c8" stroke="#2f7ea8" stroke-width="1"/>
<rect x="622.5" y="936.0" width="5" height="12.5" fill="#5aa2c8" stroke="#2f7ea8" stroke-width="1"/>
<rect x="627.5" y="936.0" width="5" height="19.5" fill="#5aa2c8" stroke="#2f7ea8" stroke-width="1"/>
<rect x="632.5" y="936.0" width="5" height="19.5" fill="#5aa2c8" stroke="#2f7ea8" stroke-width="1"/>
<rect x="637.5" y="936.0" width="6" height="16.5" fill="#5aa2c8" stroke="#2f7ea8" stroke-width="1"/>
<rect x="643.5" y="936.0" width="5" height="16.5" fill="#5aa2c8" stroke="#2f7ea8" stroke-width="1"/>
<rect x="648.5" y="936.0" width="5" height="17.5" fill="#5aa2c8" stroke="#2f7ea8" stroke-width="1"/>
<rect x="653.5" y="936.0" width="5" height="20.5" fill="#5aa2c8" stroke="#2f7ea8" stroke-width="1"/>
<rect x="658.5" y="936.0" width="5" height="18.5" fill="#5aa2c8" stroke="#2f7ea8" stroke-width="1"/>
<rect x="663.5" y="936.0" width="6" height="17.5" fill="#5aa2c8" stroke="#2f7ea8" stroke-width="1"/>
<rect x="669.5" y="936.0" width="5" height="16.5" fill="#5aa2c8" stroke="#2f7ea8" stroke-width="1"/>
<rect x="674.5" y="936.0" width="5" height="16.5" fill="#5aa2c8" stroke="#2f7ea8" stroke-width="1"/>
<rect x="679.5" y="936.0" width="5" height="19.5" fill="#5aa2c8" stroke="#2f7ea8" stroke-width="1"/>
<rect x="684.5" y="936.0" width="5" height="22.5" fill="#5aa2c8" stroke="#2f7ea8" stroke-width="1"/>
<rect x="689.5" y="936.0" width="6" height="25.5" fill="#5aa2c8" stroke="#2f7ea8" stroke-width="1"/>
<rect x="695.5" y="936.0" width="5" height="25.5" fill="#5aa2c8" stroke="#2f7ea8" stroke-width="1"/>
<rect x="700.5" y="936.0" width="5" height="25.5" fill="#5aa2c8" stroke="#2f7ea8" stroke-width="1"/>
<rect x="705.5" y="936.0" width="5" height="25.5" fill="#5aa2c8" stroke="#2f7ea8" stroke-width="1"/>
<rect x="710.5" y="936.0" width="5" height="23.5" fill="#5aa2c8" stroke="#2f7ea8" stroke-width="1"/>
<rect x="715.5" y="936.0" width="6" height="21.5" fill="#5aa2c8" stroke="#2f7ea8" stroke-width="1"/>
<rect x="721.5" y="936.0" width="5" height="19.5" fill="#5aa2c8" stroke="#2f7ea8" stroke-width="1"/>
<rect x="726.5" y="936.0" width="5" height="16.5" fill="#5aa2c8" stroke="#2f7ea8" stroke-width="1"/>
<rect x="731.5" y="936.0" width="5" height="13.5" fill="#5aa2c8" stroke="#2f7ea8" stroke-width="1"/>
<rect x="736.5" y="936.0" width="5" height="2.5" fill="#5aa2c8" stroke="#2f7ea8" stroke-width="1"/>
<rect x="741.5" y="933.5" width="6" height="2.5" fill="#5aa2c8" stroke="#2f7ea8" stroke-width="1"/>
<rect x="747.5" y="933.5" width="5" height="2.5" fill="#5aa2c8" stroke="#2f7ea8" stroke-width="1"/>
<rect x="752.5" y="931.5" width="5" height="4.5" fill="#5aa2c8" stroke="#2f7ea8" stroke-width="1"/>
<rect x="757.5" y="930.5" width="5" height="5.5" fill="#5aa2c8" stroke="#2f7ea8" stroke-width="1"/>
<rect x="762.5" y="929.5" width="5" height="6.5" fill="#5aa2c8" stroke="#2f7ea8" stroke-width="1"/>
<rect x="767.5" y="926.5" width="6" height="9.5" fill="#5aa2c8" stroke="#2f7ea8" stroke-width="1"/>
<rect x="773.5" y="925.5" width="5" height="10.5" fill="#5aa2c8" stroke="#2f7ea8" stroke-width="1"/>
<rect x="778.5" y="925.5" width="5" height="10.5" fill="#5aa2c8" stroke="#2f7ea8" stroke-width="1"/>
<rect x="783.5" y="926.5" width="5" height="9.5" fill="#5aa2c8" stroke="#2f7ea8" stroke-width="1"/>
<rect x="788.5" y="930.5" width="5" height="5.5" fill="#5aa2c8" stroke="#2f7ea8" stroke-width="1"/>
<rect x="793.5" y="929.5" width="6" height="6.5" fill="#5aa2c8" stroke="#2f7ea8" stroke-width="1"/>
<rect x="799.5" y="928.5" width="5" height="7.5" fill="#5aa2c8" stroke="#2f7ea8" stroke-width="1"/>
<rect x="804.5" y="928.5" width="5" height="7.5" fill="#5aa2c8" stroke="#2f7ea8" stroke-width="1"/>
<rect x="809.5" y="926.5" width="5" height="9.5" fill="#5aa2c8" stroke="#2f7ea8" stroke-width="1"/>
<rect x="814.5" y="925.5" width="5" height="10.5" fill="#5aa2c8" stroke="#2f7ea8" stroke-width="1"/>
<rect x="819.5" y="925.5" width="6" height="10.5" fill="#5aa2c8" stroke="#2f7ea8" stroke-width="1"/>
<rect x="825.5" y="923.5" width="5" height="12.5" fill="#5aa2c8" stroke="#2f7ea8" stroke-width="1"/>
<rect x="830.5" y="924.5" width="5" height="11.5" fill="#5aa2c8" stroke="#2f7ea8" stroke-width="1"/>
<rect x="835.5" y="918.5" width="5" height="17.5" fill="#5aa2c8" stroke="#2f7ea8" stroke-width="1"/>
<rect x="840.5" y="916.5" width="5" height="19.5" fill="#5aa2c8" stroke="#2f7ea8" stroke-width="1"/>
<rect x="845.5" y="917.5" width="6" height="18.5" fill="#5aa2c8" stroke="#2f7ea8" stroke-width="1"/>
<rect x="851.5" y="916.5" width="5" height="19.5" fill="#5aa2c8" stroke="#2f7ea8" stroke-width="1"/>
<rect x="856.5" y="925.5" width="5" height="10.5" fill="#5aa2c8" stroke="#2f7ea8" stroke-width="1"/>
<rect x="861.5" y="927.5" width="5" height="8.5" fill="#5aa2c8" stroke="#2f7ea8" stroke-width="1"/>
<rect x="866.5" y="932.5" width="5" height="3.5" fill="#5aa2c8" stroke="#2f7ea8" stroke-width="1"/>
<rect x="871.5" y="931.5" width="6" height="4.5" fill="#5aa2c8" stroke="#2f7ea8" stroke-width="1"/>
<rect x="877.5" y="930.5" width="5" height="5.5" fill="#5aa2c8" stroke="#2f7ea8" stroke-width="1"/>
<rect x="882.5" y="929.5" width="5" height="6.5" fill="#5aa2c8" stroke="#2f7ea8" stroke-width="1"/>
<rect x="887.5" y="926.5" width="5" height="9.5" fill="#5aa2c8" stroke="#2f7ea8" stroke-width="1"/>
<rect x="892.5" y="925.5" width="5" height="10.5" fill="#5aa2c8" stroke="#2f7ea8" stroke-width="1"/>
<path d="M44.5 910.1L51.9 913.8L62.4 917.6L72.7 921.5L83.1 926.5L88.4 930.5L93.6 936.0L98.8 941.8L103.9 947.7L109.1 953.2L114.3 958.5L119.5 964.4L124.8 969.0L130.0 972.2L135.2 974.9L140.3 977.2L145.5 978.6L150.7 979.4L156.0 979.6L161.2 979.6L166.4 979.4L171.6 978.6L176.7 977.4L181.9 975.6L187.2 973.5L192.4 971.5L197.6 969.4L202.8 967.7L207.9 964.4L213.1 960.2L218.5 955.2L223.6 950.5L228.8 946.0L234.0 942.7L239.2 941.0L244.5 939.8L249.7 939.3L254.9 938.5L260.0 939.3L265.2 940.2L270.4 941.0L275.7 941.5L280.9 941.0L286.1 940.2L291.2 939.0L296.4 937.7L301.6 936.0L306.9 934.3L312.1 932.6L317.3 931.3L322.4 930.5L327.6 931.0L332.8 932.1L338.1 934.3L343.3 937.3L348.5 940.7L353.7 942.7L358.8 943.8L364.2 943.5L369.4 941.5L374.5 939.3L379.7 935.2L384.9 930.1L390.1 924.3L395.4 916.8L400.6 910.1L405.8 904.8L410.9 902.3L416.1 901.4L421.3 901.4L426.6 902.9L431.8 906.3L437.0 909.8L442.1 912.6L447.3 914.8L452.7 917.1L457.8 919.3L463.0 920.5L468.2 920.1L473.3 918.5L478.5 917.1L483.7 915.6L489.0 914.3L494.2 913.1L499.4 911.8L504.6 911.3L509.7 910.6L515.1 910.4L520.3 910.4L525.4 910.1L530.6 906.8L535.8 901.8L541.0 897.1L546.3 893.4L551.5 888.9L556.7 885.6L561.8 883.4L567.0 881.4L572.2 881.4L577.5 882.2L582.7 882.6L587.9 883.4L593.0 884.6L598.2 886.7L603.4 888.7L608.7 890.6L613.9 891.7L619.1 893.7L624.3 897.1L629.4 902.6L634.6 907.3L640.0 911.8L645.1 915.5L650.3 920.1L655.5 925.1L660.7 929.6L665.8 933.5L671.2 936.8L676.4 941.5L681.5 946.0L686.7 953.5L691.9 961.0L697.2 968.5L702.4 975.2L707.5 981.9L712.7 987.7L717.9 992.2L723.2 996.1L728.4 998.6L733.6 1000.3L738.8 1000.6L743.9 1000.3L749.1 999.4L754.5 998.1L759.6 996.6L764.8 995.3L770.0 992.7L775.2 990.6L780.5 987.4L785.7 984.4L790.9 983.2L796.0 981.1L801.2 979.1L806.4 976.9L811.7 974.4L816.9 971.4L822.1 968.5L827.2 965.7L832.4 962.7L837.6 958.0L842.9 953.0L848.1 948.5L853.3 944.3L858.5 941.5L863.6 939.3L869.0 937.3L874.2 936.5L879.3 934.8L884.5 933.8L889.7 931.0L895.0 928.0" fill="none" stroke="#ee1010" stroke-width="1.1" stroke-linejoin="round" />
<path d="M44.5 921.8L51.9 920.6L57.1 923.1L62.3 923.8L67.5 926.5L72.7 927.6L77.9 932.6L83.1 938.5L88.3 944.8L93.5 956.0L98.7 961.9L103.9 968.9L109.1 976.1L114.3 982.7L119.5 987.4L124.7 989.4L130.0 985.6L135.2 984.7L140.4 987.4L145.6 985.7L150.8 983.6L156.0 981.4L161.2 978.9L166.4 976.9L171.6 976.4L176.8 972.7L182.0 968.9L187.2 966.9L192.4 963.9L197.6 960.7L202.8 958.5L208.0 948.5L213.2 942.3L218.4 936.5L223.6 931.3L228.8 928.5L234.0 928.5L239.2 931.8L244.4 935.2L249.6 936.5L254.8 936.5L260.1 938.8L265.3 943.5L270.5 945.5L275.7 945.2L280.9 940.5L286.1 938.5L291.3 935.7L296.5 933.5L301.7 930.1L306.9 926.5L312.1 925.1L317.3 924.6L322.5 927.1L327.7 932.6L332.9 936.5L338.1 942.2L343.3 947.2L348.5 950.2L353.7 953.2L358.9 949.8L364.1 943.2L369.3 933.5L374.5 928.5L379.7 919.8L384.9 910.9L390.1 903.4L395.4 892.6L400.6 885.1L405.8 882.6L411.0 888.7L416.2 893.7L421.4 900.9L426.6 910.9L431.8 918.1L437.0 923.5L442.2 924.3L447.4 922.3L452.6 925.1L457.8 926.5L463.0 926.3L468.2 921.0L473.4 916.0L478.6 910.6L483.8 911.3L489.0 908.4L494.2 907.3L499.4 905.4L504.6 909.3L509.8 909.3L515.0 910.1L520.2 911.3L525.4 906.4L530.6 894.2L535.8 885.1L541.1 877.6L546.3 874.5L551.5 870.5L556.7 872.5L561.9 873.9L567.1 876.4L572.3 881.7L577.5 885.1L582.7 884.2L587.9 885.9L593.1 888.7L598.3 892.9L603.5 897.3L608.7 896.4L613.9 898.1L619.1 902.6L624.3 910.6L629.5 921.3L634.7 925.1L639.9 927.6L645.1 931.0L650.3 936.8L655.5 944.3L660.7 947.2L665.9 950.2L671.1 951.8L676.3 956.9L681.5 966.0L686.7 975.2L692.0 983.6L697.2 988.6L702.4 995.3L707.6 1001.6L712.8 1005.6L718.0 1008.9L723.2 1011.4L728.4 1012.3L733.6 1011.9L738.8 1004.4L744.0 997.3L749.2 996.4L754.4 993.6L759.6 991.6L764.8 988.6L770.0 983.6L775.2 979.9L780.4 976.4L785.6 974.4L790.8 976.6L796.0 974.4L801.2 971.5L806.4 969.4L811.6 965.2L816.8 961.4L822.0 959.4L827.2 954.0L832.5 950.2L837.7 940.2L842.9 933.5L848.1 929.3L853.3 924.6L858.5 929.0L863.7 930.6L868.9 932.3L874.1 930.6L879.3 928.5L884.5 926.3L889.7 921.8L894.9 917.6" fill="none" stroke="#000" stroke-width="1.65" stroke-linejoin="round" />
<path d="M44.5 1093.2L46.7 1089.8L51.9 1075.3L57.1 1081.1L62.3 1082.6L67.5 1089.5L72.7 1090.7L77.9 1107.9L83.1 1114.0L88.3 1117.4L93.5 1129.6L98.7 1121.5L103.9 1129.6L109.1 1136.9L114.3 1144.4L119.5 1143.6L124.7 1146.6L130.0 1122.4L135.2 1127.4L140.4 1140.4L145.6 1135.7L150.8 1134.4L156.0 1130.4L161.2 1132.4L166.4 1125.7L171.6 1131.6L176.8 1120.7L182.0 1115.4L187.2 1112.7L192.4 1112.4L197.6 1108.5L202.8 1108.2L208.0 1089.5L213.2 1084.0L218.4 1079.5L223.6 1080.1L228.8 1079.5L234.0 1087.8L239.2 1099.0L244.4 1103.2L249.6 1096.5L254.9 1093.5L260.1 1101.5L265.3 1126.2L270.5 1118.2L275.7 1109.4L280.9 1088.5L286.1 1088.5L291.3 1088.5L296.5 1089.3L301.7 1083.5L306.9 1080.3L312.1 1084.0L317.3 1086.2L322.5 1088.5L327.7 1115.4L332.9 1107.7L338.1 1130.2L343.3 1141.2L348.5 1132.4L353.7 1142.4L358.9 1112.4L364.1 1083.7L369.3 1078.6L374.5 1077.6L379.7 1061.4L384.9 1053.4L390.1 1049.8L395.4 1048.4L400.6 1046.4L405.8 1048.6L411.0 1073.1L416.2 1084.5L421.4 1090.7L426.6 1101.5L431.8 1100.3L437.0 1101.5L442.2 1095.3L447.4 1079.5L452.6 1089.8L457.8 1094.3L463.0 1092.3L468.2 1073.1L473.4 1053.4L478.6 1053.4L483.8 1066.5L489.0 1069.5L494.2 1058.6L499.4 1055.6L504.6 1082.3L509.8 1071.5L515.0 1070.3L520.2 1074.5L525.4 1062.3L530.6 1050.3L535.8 1040.6L541.1 1037.6L546.3 1046.1L551.5 1048.6L556.7 1052.3L561.9 1051.4L567.1 1059.8L572.3 1064.5L577.5 1064.5L582.7 1051.4L587.9 1055.6L593.1 1059.4L598.3 1066.5L603.5 1065.3L608.7 1058.4L613.9 1059.4L619.1 1064.5L624.3 1084.5L629.5 1098.5L634.7 1091.5L639.9 1084.5L645.1 1090.7L650.3 1094.5L655.5 1101.5L660.7 1097.3L665.9 1098.2L671.1 1098.2L676.3 1099.3L681.5 1110.7L686.7 1122.0L692.0 1124.6L697.2 1131.2L702.4 1135.7L707.6 1140.4L712.8 1136.6L718.0 1133.6L723.2 1143.3L728.4 1143.3L733.6 1143.3L738.8 1119.4L744.0 1112.7L749.2 1119.9L754.4 1125.4L759.6 1125.7L764.8 1126.6L770.0 1122.0L775.2 1110.7L780.4 1116.2L785.6 1114.5L790.8 1137.4L796.0 1134.4L801.2 1112.7L806.4 1109.4L811.6 1104.0L816.8 1098.5L822.0 1102.3L827.2 1093.7L832.5 1090.3L837.7 1086.5L842.9 1082.6L848.1 1083.5L853.3 1080.3L858.5 1098.5L863.7 1094.3L868.9 1098.5L874.1 1091.5L879.3 1092.7L884.5 1089.5L889.7 1084.5L894.9 1079.5" fill="none" stroke="#000" stroke-width="1.65" stroke-linejoin="round" />
<g font-family="DejaVu Sans Condensed, DejaVu Sans, sans-serif" font-size="8.7" fill="#000" text-anchor="middle">
<path d="M36.0 575.7h31v10h-11.5l-4 5l-4-5h-11.5z" fill="#fff" fill-opacity="0.88" stroke="#c8a8a8" stroke-width="1"/>
<text x="51.5" y="584.0">858.60</text>
<path d="M120.0 721.6h31v10h-11.5l-4 5l-4-5h-11.5z" fill="#fff" fill-opacity="0.88" stroke="#c8a8a8" stroke-width="1"/>
<text x="135.5" y="729.9">808.60</text>
<path d="M104.0 847.1h31v-10h-11.5l-4-5l-4 5h-11.5z" fill="#fff" fill-opacity="0.88" stroke="#c8a8a8" stroke-width="1"/>
<text x="119.5" y="845.4">778.60</text>
<path d="M198.0 640.0h31v10h-11.5l-4 5l-4-5h-11.5z" fill="#fff" fill-opacity="0.88" stroke="#c8a8a8" stroke-width="1"/>
<text x="213.5" y="648.3">836.50</text>
<path d="M250.0 817.9h31v-10h-11.5l-4-5l-4 5h-11.5z" fill="#fff" fill-opacity="0.88" stroke="#c8a8a8" stroke-width="1"/>
<text x="265.5" y="816.2">788.50</text>
<path d="M291.0 644.3h31v10h-11.5l-4 5l-4-5h-11.5z" fill="#fff" fill-opacity="0.88" stroke="#c8a8a8" stroke-width="1"/>
<text x="306.5" y="652.6">835.00</text>
<path d="M338.0 840.4h31v-10h-11.5l-4-5l-4 5h-11.5z" fill="#fff" fill-opacity="0.88" stroke="#c8a8a8" stroke-width="1"/>
<text x="353.5" y="838.7">780.90</text>
<path d="M385.0 515.7h31v10h-11.5l-4 5l-4-5h-11.5z" fill="#fff" fill-opacity="0.88" stroke="#c8a8a8" stroke-width="1"/>
<text x="400.5" y="524.0">879.90</text>
<path d="M421.0 752.0h31v-10h-11.5l-4-5l-4 5h-11.5z" fill="#fff" fill-opacity="0.88" stroke="#c8a8a8" stroke-width="1"/>
<text x="436.5" y="750.3">809.60</text>
<path d="M447.0 710.5h31v-10h-11.5l-4-5l-4 5h-11.5z" fill="#fff" fill-opacity="0.88" stroke="#c8a8a8" stroke-width="1"/>
<text x="462.5" y="708.8">823.60</text>
<path d="M432.0 601.7h31v10h-11.5l-4 5l-4-5h-11.5z" fill="#fff" fill-opacity="0.88" stroke="#c8a8a8" stroke-width="1"/>
<text x="447.5" y="610.0">849.40</text>
<path d="M463.0 524.8h31v10h-11.5l-4 5l-4-5h-11.5z" fill="#fff" fill-opacity="0.88" stroke="#c8a8a8" stroke-width="1"/>
<text x="478.5" y="533.1">876.70</text>
<path d="M489.0 666.2h31v-10h-11.5l-4-5l-4 5h-11.5z" fill="#fff" fill-opacity="0.88" stroke="#c8a8a8" stroke-width="1"/>
<text x="504.5" y="664.5">838.70</text>
<path d="M525.0 405.7h31v10h-11.5l-4 5l-4-5h-11.5z" fill="#fff" fill-opacity="0.88" stroke="#c8a8a8" stroke-width="1"/>
<text x="540.5" y="414.0">920.40</text>
<path d="M557.0 547.0h31v-10h-11.5l-4-5l-4 5h-11.5z" fill="#fff" fill-opacity="0.88" stroke="#c8a8a8" stroke-width="1"/>
<text x="572.5" y="545.3">880.60</text>
<path d="M572.0 411.5h31v10h-11.5l-4 5l-4-5h-11.5z" fill="#fff" fill-opacity="0.88" stroke="#c8a8a8" stroke-width="1"/>
<text x="587.5" y="419.8">918.30</text>
<path d="M630.0 494.2h31v10h-11.5l-4 5l-4-5h-11.5z" fill="#fff" fill-opacity="0.88" stroke="#c8a8a8" stroke-width="1"/>
<text x="645.5" y="502.5">887.50</text>
<path d="M619.0 642.0h31v-10h-11.5l-4-5l-4 5h-11.5z" fill="#fff" fill-opacity="0.88" stroke="#c8a8a8" stroke-width="1"/>
<text x="634.5" y="640.3">847.10</text>
<path d="M734.0 649.1h31v10h-11.5l-4 5l-4-5h-11.5z" fill="#fff" fill-opacity="0.88" stroke="#c8a8a8" stroke-width="1"/>
<text x="749.5" y="657.4">833.30</text>
<path d="M713.0 817.1h31v-10h-11.5l-4-5l-4 5h-11.5z" fill="#fff" fill-opacity="0.88" stroke="#c8a8a8" stroke-width="1"/>
<text x="728.5" y="815.4">788.30</text>
<path d="M749.0 791.3h31v-10h-11.5l-4-5l-4 5h-11.5z" fill="#fff" fill-opacity="0.88" stroke="#c8a8a8" stroke-width="1"/>
<text x="764.5" y="789.6">796.80</text>
<path d="M760.0 687.5h31v10h-11.5l-4 5l-4-5h-11.5z" fill="#fff" fill-opacity="0.88" stroke="#c8a8a8" stroke-width="1"/>
<text x="775.5" y="695.8">820.00</text>
<path d="M780.0 810.9h31v-10h-11.5l-4-5l-4 5h-11.5z" fill="#fff" fill-opacity="0.88" stroke="#c8a8a8" stroke-width="1"/>
<text x="795.5" y="809.2">790.20</text>
<path d="M791.0 676.7h31v10h-11.5l-4 5l-4-5h-11.5z" fill="#fff" fill-opacity="0.88" stroke="#c8a8a8" stroke-width="1"/>
<text x="806.5" y="685.0">823.90</text>
<path d="M827.0 595.7h31v10h-11.5l-4 5l-4-5h-11.5z" fill="#fff" fill-opacity="0.88" stroke="#c8a8a8" stroke-width="1"/>
<text x="842.5" y="604.0">851.60</text>
<path d="M843.0 756.3h31v-10h-11.5l-4-5l-4 5h-11.5z" fill="#fff" fill-opacity="0.88" stroke="#c8a8a8" stroke-width="1"/>
<text x="858.5" y="754.6">808.30</text>
</g>
<g font-family="Liberation Sans, Arial, sans-serif" font-size="10.3" fill="#000">
<text x="1305.7" y="130.1" textLength="11.4" lengthAdjust="spacingAndGlyphs">80</text>
<text x="1305.7" y="286.1" textLength="11.4" lengthAdjust="spacingAndGlyphs">80</text>
<text x="1305.7" y="172.6" textLength="11.4" lengthAdjust="spacingAndGlyphs">50</text>
<text x="1305.7" y="328.6" textLength="11.4" lengthAdjust="spacingAndGlyphs">50</text>
<text x="1305.7" y="215.1" textLength="11.4" lengthAdjust="spacingAndGlyphs">20</text>
<text x="1305.7" y="371.1" textLength="11.4" lengthAdjust="spacingAndGlyphs">20</text>
<text x="1305.7" y="844.1" textLength="17.2" lengthAdjust="spacingAndGlyphs">775</text>
<text x="1305.7" y="829.1" textLength="17.2" lengthAdjust="spacingAndGlyphs">780</text>
<text x="1305.7" y="813.1" textLength="17.2" lengthAdjust="spacingAndGlyphs">785</text>
<text x="1305.7" y="798.1" textLength="17.2" lengthAdjust="spacingAndGlyphs">790</text>
<text x="1305.7" y="782.1" textLength="17.2" lengthAdjust="spacingAndGlyphs">795</text>
<text x="1305.7" y="767.1" textLength="17.2" lengthAdjust="spacingAndGlyphs">800</text>
<text x="1305.7" y="752.1" textLength="17.2" lengthAdjust="spacingAndGlyphs">805</text>
<text x="1305.7" y="737.1" textLength="17.2" lengthAdjust="spacingAndGlyphs">810</text>
<text x="1305.7" y="722.1" textLength="17.2" lengthAdjust="spacingAndGlyphs">815</text>
<text x="1305.7" y="707.1" textLength="17.2" lengthAdjust="spacingAndGlyphs">820</text>
<text x="1305.7" y="692.1" textLength="17.2" lengthAdjust="spacingAndGlyphs">825</text>
<text x="1305.7" y="677.1" textLength="17.2" lengthAdjust="spacingAndGlyphs">830</text>
<text x="1305.7" y="663.1" textLength="17.2" lengthAdjust="spacingAndGlyphs">835</text>
<text x="1305.7" y="648.1" textLength="17.2" lengthAdjust="spacingAndGlyphs">840</text>
<text x="1305.7" y="634.1" textLength="17.2" lengthAdjust="spacingAndGlyphs">845</text>
<text x="1305.7" y="619.1" textLength="17.2" lengthAdjust="spacingAndGlyphs">850</text>
<text x="1305.7" y="605.1" textLength="17.2" lengthAdjust="spacingAndGlyphs">855</text>
<text x="1305.7" y="591.1" textLength="17.2" lengthAdjust="spacingAndGlyphs">860</text>
<text x="1305.7" y="577.1" textLength="17.2" lengthAdjust="spacingAndGlyphs">865</text>
<text x="1305.7" y="563.1" textLength="17.2" lengthAdjust="spacingAndGlyphs">870</text>
<text x="1305.7" y="549.1" textLength="17.2" lengthAdjust="spacingAndGlyphs">875</text>
<text x="1305.7" y="535.1" textLength="17.2" lengthAdjust="spacingAndGlyphs">880</text>
<text x="1305.7" y="521.1" textLength="17.2" lengthAdjust="spacingAndGlyphs">885</text>
<text x="1305.7" y="507.1" textLength="17.2" lengthAdjust="spacingAndGlyphs">890</text>
<text x="1305.7" y="494.1" textLength="17.2" lengthAdjust="spacingAndGlyphs">895</text>
<text x="1305.7" y="480.1" textLength="17.2" lengthAdjust="spacingAndGlyphs">900</text>
<text x="1305.7" y="467.1" textLength="17.2" lengthAdjust="spacingAndGlyphs">905</text>
<text x="1305.7" y="453.1" textLength="17.2" lengthAdjust="spacingAndGlyphs">910</text>
<text x="1305.7" y="440.1" textLength="17.2" lengthAdjust="spacingAndGlyphs">915</text>
<text x="1305.7" y="427.1" textLength="17.2" lengthAdjust="spacingAndGlyphs">920</text>
<text x="1305.7" y="413.1" textLength="17.2" lengthAdjust="spacingAndGlyphs">925</text>
<text x="1305.6" y="1010.1" textLength="15.0" lengthAdjust="spacingAndGlyphs">-20</text>
<text x="1305.6" y="992.1" textLength="15.0" lengthAdjust="spacingAndGlyphs">-15</text>
<text x="1305.6" y="974.1" textLength="15.0" lengthAdjust="spacingAndGlyphs">-10</text>
<text x="1311.4" y="957.1" textLength="9.2" lengthAdjust="spacingAndGlyphs">-5</text>
<text x="1315.0" y="939.1" textLength="5.6" lengthAdjust="spacingAndGlyphs">0</text>
<text x="1315.0" y="921.1" textLength="5.6" lengthAdjust="spacingAndGlyphs">5</text>
<text x="1309.2" y="904.1" textLength="11.4" lengthAdjust="spacingAndGlyphs">10</text>
<text x="1309.2" y="886.1" textLength="11.4" lengthAdjust="spacingAndGlyphs">15</text>
<text x="1305.7" y="1156.4" textLength="11.4" lengthAdjust="spacingAndGlyphs">10</text>
<text x="1305.7" y="1128.2" textLength="11.4" lengthAdjust="spacingAndGlyphs">30</text>
<text x="1305.7" y="1100.0" textLength="11.4" lengthAdjust="spacingAndGlyphs">50</text>
<text x="1305.7" y="1071.8" textLength="11.4" lengthAdjust="spacingAndGlyphs">70</text>
<text x="1305.7" y="1043.6" textLength="11.4" lengthAdjust="spacingAndGlyphs">90</text>
<text x="17.9" y="712.4" textLength="23.6" lengthAdjust="spacingAndGlyphs">4.0M</text>
<text x="17.9" y="729.9" textLength="23.6" lengthAdjust="spacingAndGlyphs">3.5M</text>
<text x="17.9" y="747.4" textLength="23.6" lengthAdjust="spacingAndGlyphs">3.0M</text>
<text x="17.9" y="765.1" textLength="23.6" lengthAdjust="spacingAndGlyphs">2.5M</text>
<text x="17.9" y="782.6" textLength="23.6" lengthAdjust="spacingAndGlyphs">2.0M</text>
<text x="17.9" y="799.9" textLength="23.6" lengthAdjust="spacingAndGlyphs">1.5M</text>
<text x="17.9" y="817.4" textLength="23.6" lengthAdjust="spacingAndGlyphs">1.0M</text>
<text x="16.7" y="834.4" textLength="24.8" lengthAdjust="spacingAndGlyphs">500K</text>
</g>
<path d="M1302.5 127.5h2.5M1302.5 283.5h2.5M1302.5 170.5h2.5M1302.5 326.5h2.5M1302.5 212.5h2.5M1302.5 368.5h2.5M1302.5 841.5h2.5M1302.5 826.5h2.5M1302.5 810.5h2.5M1302.5 795.5h2.5M1302.5 779.5h2.5M1302.5 764.5h2.5M1302.5 749.5h2.5M1302.5 734.5h2.5M1302.5 719.5h2.5M1302.5 704.5h2.5M1302.5 689.5h2.5M1302.5 674.5h2.5M1302.5 660.5h2.5M1302.5 645.5h2.5M1302.5 631.5h2.5M1302.5 616.5h2.5M1302.5 602.5h2.5M1302.5 588.5h2.5M1302.5 574.5h2.5M1302.5 560.5h2.5M1302.5 546.5h2.5M1302.5 532.5h2.5M1302.5 518.5h2.5M1302.5 504.5h2.5M1302.5 491.5h2.5M1302.5 477.5h2.5M1302.5 464.5h2.5M1302.5 450.5h2.5M1302.5 437.5h2.5M1302.5 424.5h2.5M1302.5 410.5h2.5M1302.5 1007.5h3M1302.5 989.5h3M1302.5 971.5h3M1302.5 954.5h3M1302.5 936.5h3M1302.5 918.5h3M1302.5 901.5h3M1302.5 883.5h3M1302.5 1153.5h2.5M1302.5 1125.5h2.5M1302.5 1097.5h2.5M1302.5 1069.5h2.5M1302.5 1040.5h2.5M1302.5 240.5h1.5M1302.5 396.5h1.5M1302.5 226.5h1.5M1302.5 382.5h1.5M1302.5 212.5h1.5M1302.5 368.5h1.5M1302.5 198.5h1.5M1302.5 354.5h1.5M1302.5 184.5h1.5M1302.5 340.5h1.5M1302.5 170.5h1.5M1302.5 326.5h1.5M1302.5 155.5h1.5M1302.5 311.5h1.5M1302.5 141.5h1.5M1302.5 297.5h1.5M1302.5 127.5h1.5M1302.5 283.5h1.5M1302.5 113.5h1.5M1302.5 269.5h1.5M1302.5 99.5h1.5M1302.5 255.5h1.5M1302.5 1167.5h1.5M1302.5 1139.5h1.5M1302.5 1111.5h1.5M1302.5 1083.5h1.5M1302.5 1055.5h1.5M1302.5 1026.5h1.5M42.0 708.5h2.5M42.0 726.5h2.5M42.0 744.5h2.5M42.0 761.5h2.5M42.0 779.5h2.5M42.0 796.5h2.5M42.0 814.5h2.5M42.0 830.5h2.5" stroke="#b08c8c" stroke-width="1" fill="none"/>
<rect x="44.5" y="849.5" width="1258.0" height="14" fill="#fff"/>
<g font-family="Liberation Sans, Arial, sans-serif" font-size="10" fill="#000" text-anchor="middle">
<text x="98.2" y="860.4" font-weight="bold" font-size="10.8">Dec</text>
<text x="196.2" y="860.4" font-weight="bold" font-size="10.8">2019</text>
<text x="306.4" y="860.4" font-weight="bold" font-size="10.8">Feb</text>
<text x="405.2" y="860.4" font-weight="bold" font-size="10.8">Mar</text>
<text x="514.5" y="860.4" font-weight="bold" font-size="10.8">Apr</text>
<text x="623.7" y="860.4" font-weight="bold" font-size="10.8">May</text>
<text x="738.2" y="860.4" font-weight="bold" font-size="10.8">Jun</text>
<text x="842.3" y="860.4" font-weight="bold" font-size="10.8">Jul</text>
<text x="958.9" y="860.4" font-weight="bold" font-size="10.8">Aug</text>
<text x="1071.2" y="860.4" font-weight="bold" font-size="10.8">Sep</text>
<text x="1175.3" y="860.4" font-weight="bold" font-size="10.8">Oct</text>
<text x="1295.9" y="860.4" font-weight="bold" font-size="10.8">Nov</text>
<text x="51.3" y="859.9">19</text>
<text x="72.3" y="859.9">26</text>
<text x="119.1" y="859.9">10</text>
<text x="145.1" y="859.9">17</text>
<text x="171.1" y="859.9">24</text>
<text x="212.7" y="859.9">7</text>
<text x="238.8" y="859.9">14</text>
<text x="264.8" y="859.9">22</text>
<text x="285.6" y="859.9">28</text>
<text x="337.6" y="859.9">11</text>
<text x="363.6" y="859.9">19</text>
<text x="384.4" y="859.9">25</text>
<text x="436.5" y="859.9">11</text>
<text x="462.5" y="859.9">18</text>
<text x="488.5" y="859.9">25</text>
<text x="540.5" y="859.9">8</text>
<text x="566.6" y="859.9">15</text>
<text x="587.4" y="859.9">22</text>
<text x="639.4" y="859.9">6</text>
<text x="665.4" y="859.9">13</text>
<text x="691.4" y="859.9">20</text>
<text x="717.4" y="859.9">28</text>
<text x="764.3" y="859.9">10</text>
<text x="790.3" y="859.9">17</text>
<text x="816.3" y="859.9">24</text>
<text x="863.1" y="859.9">8</text>
<text x="889.1" y="859.9">15</text>
<text x="915.2" y="859.9">22</text>
<text x="941.2" y="859.9">29</text>
<text x="993.2" y="859.9">12</text>
<text x="1019.2" y="859.9">19</text>
<text x="1045.2" y="859.9">26</text>
<text x="1092.1" y="859.9">9</text>
<text x="1118.1" y="859.9">16</text>
<text x="1144.1" y="859.9">23</text>
<text x="1196.1" y="859.9">7</text>
<text x="1222.1" y="859.9">14</text>
<text x="1248.1" y="859.9">21</text>
<text x="1274.2" y="859.9">28</text>
</g>
<path d="M46.5 849.5v1.5M46.5 862.0v1.5M51.5 849.5v1.5M51.5 862.0v1.5M57.5 849.5v1.5M57.5 862.0v1.5M62.5 849.5v1.5M62.5 862.0v1.5M67.5 849.5v1.5M67.5 862.0v1.5M72.5 849.5v1.5M72.5 862.0v1.5M77.5 849.5v1.5M77.5 862.0v1.5M83.5 849.5v1.5M83.5 862.0v1.5M88.5 849.5v1.5M88.5 862.0v1.5M93.5 849.5v1.5M93.5 862.0v1.5M98.5 849.5v1.5M98.5 862.0v1.5M103.5 849.5v1.5M103.5 862.0v1.5M109.5 849.5v1.5M109.5 862.0v1.5M114.5 849.5v1.5M114.5 862.0v1.5M119.5 849.5v1.5M119.5 862.0v1.5M124.5 849.5v1.5M124.5 862.0v1.5M129.5 849.5v1.5M129.5 862.0v1.5M135.5 849.5v1.5M135.5 862.0v1.5M140.5 849.5v1.5M140.5 862.0v1.5M145.5 849.5v1.5M145.5 862.0v1.5M150.5 849.5v1.5M150.5 862.0v1.5M155.5 849.5v1.5M155.5 862.0v1.5M161.5 849.5v1.5M161.5 862.0v1.5M166.5 849.5v1.5M166.5 862.0v1.5M171.5 849.5v1.5M171.5 862.0v1.5M176.5 849.5v1.5M176.5 862.0v1.5M181.5 849.5v1.5M181.5 862.0v1.5M187.5 849.5v1.5M187.5 862.0v1.5M192.5 849.5v1.5M192.5 862.0v1.5M197.5 849.5v1.5M197.5 862.0v1.5M202.5 849.5v1.5M202.5 862.0v1.5M207.5 849.5v1.5M207.5 862.0v1.5M213.5 849.5v1.5M213.5 862.0v1.5M218.5 849.5v1.5M218.5 862.0v1.5M223.5 849.5v1.5M223.5 862.0v1.5M228.5 849.5v1.5M228.5 862.0v1.5M234.5 849.5v1.5M234.5 862.0v1.5M239.5 849.5v1.5M239.5 862.0v1.5M244.5 849.5v1.5M244.5 862.0v1.5M249.5 849.5v1.5M249.5 862.0v1.5M254.5 849.5v1.5M254.5 862.0v1.5M260.5 849.5v1.5M260.5 862.0v1.5M265.5 849.5v1.5M265.5 862.0v1.5M270.5 849.5v1.5M270.5 862.0v1.5M275.5 849.5v1.5M275.5 862.0v1.5M280.5 849.5v1.5M280.5 862.0v1.5M286.5 849.5v1.5M286.5 862.0v1.5M291.5 849.5v1.5M291.5 862.0v1.5M296.5 849.5v1.5M296.5 862.0v1.5M301.5 849.5v1.5M301.5 862.0v1.5M306.5 849.5v1.5M306.5 862.0v1.5M312.5 849.5v1.5M312.5 862.0v1.5M317.5 849.5v1.5M317.5 862.0v1.5M322.5 849.5v1.5M322.5 862.0v1.5M327.5 849.5v1.5M327.5 862.0v1.5M332.5 849.5v1.5M332.5 862.0v1.5M338.5 849.5v1.5M338.5 862.0v1.5M343.5 849.5v1.5M343.5 862.0v1.5M348.5 849.5v1.5M348.5 862.0v1.5M353.5 849.5v1.5M353.5 862.0v1.5M358.5 849.5v1.5M358.5 862.0v1.5M364.5 849.5v1.5M364.5 862.0v1.5M369.5 849.5v1.5M369.5 862.0v1.5M374.5 849.5v1.5M374.5 862.0v1.5M379.5 849.5v1.5M379.5 862.0v1.5M384.5 849.5v1.5M384.5 862.0v1.5M390.5 849.5v1.5M390.5 862.0v1.5M395.5 849.5v1.5M395.5 862.0v1.5M400.5 849.5v1.5M400.5 862.0v1.5M405.5 849.5v1.5M405.5 862.0v1.5M410.5 849.5v1.5M410.5 862.0v1.5M416.5 849.5v1.5M416.5 862.0v1.5M421.5 849.5v1.5M421.5 862.0v1.5M426.5 849.5v1.5M426.5 862.0v1.5M431.5 849.5v1.5M431.5 862.0v1.5M436.5 849.5v1.5M436.5 862.0v1.5M442.5 849.5v1.5M442.5 862.0v1.5M447.5 849.5v1.5M447.5 862.0v1.5M452.5 849.5v1.5M452.5 862.0v1.5M457.5 849.5v1.5M457.5 862.0v1.5M462.5 849.5v1.5M462.5 862.0v1.5M468.5 849.5v1.5M468.5 862.0v1.5M473.5 849.5v1.5M473.5 862.0v1.5M478.5 849.5v1.5M478.5 862.0v1.5M483.5 849.5v1.5M483.5 862.0v1.5M488.5 849.5v1.5M488.5 862.0v1.5M494.5 849.5v1.5M494.5 862.0v1.5M499.5 849.5v1.5M499.5 862.0v1.5M504.5 849.5v1.5M504.5 862.0v1.5M509.5 849.5v1.5M509.5 862.0v1.5M514.5 849.5v1.5M514.5 862.0v1.5M520.5 849.5v1.5M520.5 862.0v1.5M525.5 849.5v1.5M525.5 862.0v1.5M530.5 849.5v1.5M530.5 862.0v1.5M535.5 849.5v1.5M535.5 862.0v1.5M540.5 849.5v1.5M540.5 862.0v1.5M546.5 849.5v1.5M546.5 862.0v1.5M551.5 849.5v1.5M551.5 862.0v1.5M556.5 849.5v1.5M556.5 862.0v1.5M561.5 849.5v1.5M561.5 862.0v1.5M567.5 849.5v1.5M567.5 862.0v1.5M572.5 849.5v1.5M572.5 862.0v1.5M577.5 849.5v1.5M577.5 862.0v1.5M582.5 849.5v1.5M582.5 862.0v1.5M587.5 849.5v1.5M587.5 862.0v1.5M593.5 849.5v1.5M593.5 862.0v1.5M598.5 849.5v1.5M598.5 862.0v1.5M603.5 849.5v1.5M603.5 862.0v1.5M608.5 849.5v1.5M608.5 862.0v1.5M613.5 849.5v1.5M613.5 862.0v1.5M619.5 849.5v1.5M619.5 862.0v1.5M624.5 849.5v1.5M624.5 862.0v1.5M629.5 849.5v1.5M629.5 862.0v1.5M634.5 849.5v1.5M634.5 862.0v1.5M639.5 849.5v1.5M639.5 862.0v1.5M645.5 849.5v1.5M645.5 862.0v1.5M650.5 849.5v1.5M650.5 862.0v1.5M655.5 849.5v1.5M655.5 862.0v1.5M660.5 849.5v1.5M660.5 862.0v1.5M665.5 849.5v1.5M665.5 862.0v1.5M671.5 849.5v1.5M671.5 862.0v1.5M676.5 849.5v1.5M676.5 862.0v1.5M681.5 849.5v1.5M681.5 862.0v1.5M686.5 849.5v1.5M686.5 862.0v1.5M691.5 849.5v1.5M691.5 862.0v1.5M697.5 849.5v1.5M697.5 862.0v1.5M702.5 849.5v1.5M702.5 862.0v1.5M707.5 849.5v1.5M707.5 862.0v1.5M712.5 849.5v1.5M712.5 862.0v1.5M717.5 849.5v1.5M717.5 862.0v1.5M723.5 849.5v1.5M723.5 862.0v1.5M728.5 849.5v1.5M728.5 862.0v1.5M733.5 849.5v1.5M733.5 862.0v1.5M738.5 849.5v1.5M738.5 862.0v1.5M743.5 849.5v1.5M743.5 862.0v1.5M749.5 849.5v1.5M749.5 862.0v1.5M754.5 849.5v1.5M754.5 862.0v1.5M759.5 849.5v1.5M759.5 862.0v1.5M764.5 849.5v1.5M764.5 862.0v1.5M769.5 849.5v1.5M769.5 862.0v1.5M775.5 849.5v1.5M775.5 862.0v1.5M780.5 849.5v1.5M780.5 862.0v1.5M785.5 849.5v1.5M785.5 862.0v1.5M790.5 849.5v1.5M790.5 862.0v1.5M795.5 849.5v1.5M795.5 862.0v1.5M801.5 849.5v1.5M801.5 862.0v1.5M806.5 849.5v1.5M806.5 862.0v1.5M811.5 849.5v1.5M811.5 862.0v1.5M816.5 849.5v1.5M816.5 862.0v1.5M821.5 849.5v1.5M821.5 862.0v1.5M827.5 849.5v1.5M827.5 862.0v1.5M832.5 849.5v1.5M832.5 862.0v1.5M837.5 849.5v1.5M837.5 862.0v1.5M842.5 849.5v1.5M842.5 862.0v1.5M847.5 849.5v1.5M847.5 862.0v1.5M853.5 849.5v1.5M853.5 862.0v1.5M858.5 849.5v1.5M858.5 862.0v1.5M863.5 849.5v1.5M863.5 862.0v1.5M868.5 849.5v1.5M868.5 862.0v1.5M873.5 849.5v1.5M873.5 862.0v1.5M879.5 849.5v1.5M879.5 862.0v1.5M884.5 849.5v1.5M884.5 862.0v1.5M889.5 849.5v1.5M889.5 862.0v1.5M894.5 849.5v1.5M894.5 862.0v1.5M899.5 849.5v1.5M899.5 862.0v1.5M905.5 849.5v1.5M905.5 862.0v1.5M910.5 849.5v1.5M910.5 862.0v1.5M915.5 849.5v1.5M915.5 862.0v1.5M920.5 849.5v1.5M920.5 862.0v1.5M926.5 849.5v1.5M926.5 862.0v1.5M931.5 849.5v1.5M931.5 862.0v1.5M936.5 849.5v1.5M936.5 862.0v1.5M941.5 849.5v1.5M941.5 862.0v1.5M946.5 849.5v1.5M946.5 862.0v1.5M952.5 849.5v1.5M952.5 862.0v1.5M957.5 849.5v1.5M957.5 862.0v1.5M962.5 849.5v1.5M962.5 862.0v1.5M967.5 849.5v1.5M967.5 862.0v1.5M972.5 849.5v1.5M972.5 862.0v1.5M978.5 849.5v1.5M978.5 862.0v1.5M983.5 849.5v1.5M983.5 862.0v1.5M988.5 849.5v1.5M988.5 862.0v1.5M993.5 849.5v1.5M993.5 862.0v1.5M998.5 849.5v1.5M998.5 862.0v1.5M1004.5 849.5v1.5M1004.5 862.0v1.5M1009.5 849.5v1.5M1009.5 862.0v1.5M1014.5 849.5v1.5M1014.5 862.0v1.5M1019.5 849.5v1.5M1019.5 862.0v1.5M1024.5 849.5v1.5M1024.5 862.0v1.5M1030.5 849.5v1.5M1030.5 862.0v1.5M1035.5 849.5v1.5M1035.5 862.0v1.5M1040.5 849.5v1.5M1040.5 862.0v1.5M1045.5 849.5v1.5M1045.5 862.0v1.5M1050.5 849.5v1.5M1050.5 862.0v1.5M1056.5 849.5v1.5M1056.5 862.0v1.5M1061.5 849.5v1.5M1061.5 862.0v1.5M1066.5 849.5v1.5M1066.5 862.0v1.5M1071.5 849.5v1.5M1071.5 862.0v1.5M1076.5 849.5v1.5M1076.5 862.0v1.5M1082.5 849.5v1.5M1082.5 862.0v1.5M1087.5 849.5v1.5M1087.5 862.0v1.5M1092.5 849.5v1.5M1092.5 862.0v1.5M1097.5 849.5v1.5M1097.5 862.0v1.5M1102.5 849.5v1.5M1102.5 862.0v1.5M1108.5 849.5v1.5M1108.5 862.0v1.5M1113.5 849.5v1.5M1113.5 862.0v1.5M1118.5 849.5v1.5M1118.5 862.0v1.5M1123.5 849.5v1.5M1123.5 862.0v1.5M1128.5 849.5v1.5M1128.5 862.0v1.5M1134.5 849.5v1.5M1134.5 862.0v1.5M1139.5 849.5v1.5M1139.5 862.0v1.5M1144.5 849.5v1.5M1144.5 862.0v1.5M1149.5 849.5v1.5M1149.5 862.0v1.5M1154.5 849.5v1.5M1154.5 862.0v1.5M1160.5 849.5v1.5M1160.5 862.0v1.5M1165.5 849.5v1.5M1165.5 862.0v1.5M1170.5 849.5v1.5M1170.5 862.0v1.5M1175.5 849.5v1.5M1175.5 862.0v1.5M1180.5 849.5v1.5M1180.5 862.0v1.5M1186.5 849.5v1.5M1186.5 862.0v1.5M1191.5 849.5v1.5M1191.5 862.0v1.5M1196.5 849.5v1.5M1196.5 862.0v1.5M1201.5 849.5v1.5M1201.5 862.0v1.5M1206.5 849.5v1.5M1206.5 862.0v1.5M1212.5 849.5v1.5M1212.5 862.0v1.5M1217.5 849.5v1.5M1217.5 862.0v1.5M1222.5 849.5v1.5M1222.5 862.0v1.5M1227.5 849.5v1.5M1227.5 862.0v1.5M1232.5 849.5v1.5M1232.5 862.0v1.5M1238.5 849.5v1.5M1238.5 862.0v1.5M1243.5 849.5v1.5M1243.5 862.0v1.5M1248.5 849.5v1.5M1248.5 862.0v1.5M1253.5 849.5v1.5M1253.5 862.0v1.5M1258.5 849.5v1.5M1258.5 862.0v1.5M1264.5 849.5v1.5M1264.5 862.0v1.5M1269.5 849.5v1.5M1269.5 862.0v1.5M1274.5 849.5v1.5M1274.5 862.0v1.5M1279.5 849.5v1.5M1279.5 862.0v1.5M1285.5 849.5v1.5M1285.5 862.0v1.5M1290.5 849.5v1.5M1290.5 862.0v1.5M1295.5 849.5v1.5M1295.5 862.0v1.5" stroke="#b89090" stroke-width="1" fill="none"/>
<rect x="44.5" y="1175.5" width="1258.0" height="14" fill="#fff"/>
<g font-family="Liberation Sans, Arial, sans-serif" font-size="10" fill="#000" text-anchor="middle">
<text x="98.2" y="1186.4" font-weight="bold" font-size="10.8">Dec</text>
<text x="196.2" y="1186.4" font-weight="bold" font-size="10.8">2019</text>
<text x="306.4" y="1186.4" font-weight="bold" font-size="10.8">Feb</text>
<text x="405.2" y="1186.4" font-weight="bold" font-size="10.8">Mar</text>
<text x="514.5" y="1186.4" font-weight="bold" font-size="10.8">Apr</text>
<text x="623.7" y="1186.4" font-weight="bold" font-size="10.8">May</text>
<text x="738.2" y="1186.4" font-weight="bold" font-size="10.8">Jun</text>
<text x="842.3" y="1186.4" font-weight="bold" font-size="10.8">Jul</text>
<text x="958.9" y="1186.4" font-weight="bold" font-size="10.8">Aug</text>
<text x="1071.2" y="1186.4" font-weight="bold" font-size="10.8">Sep</text>
<text x="1175.3" y="1186.4" font-weight="bold" font-size="10.8">Oct</text>
<text x="1295.9" y="1186.4" font-weight="bold" font-size="10.8">Nov</text>
<text x="51.3" y="1185.9">19</text>
<text x="72.3" y="1185.9">26</text>
<text x="119.1" y="1185.9">10</text>
<text x="145.1" y="1185.9">17</text>
<text x="171.1" y="1185.9">24</text>
<text x="212.7" y="1185.9">7</text>
<text x="238.8" y="1185.9">14</text>
<text x="264.8" y="1185.9">22</text>
<text x="285.6" y="1185.9">28</text>
<text x="337.6" y="1185.9">11</text>
<text x="363.6" y="1185.9">19</text>
<text x="384.4" y="1185.9">25</text>
<text x="436.5" y="1185.9">11</text>
<text x="462.5" y="1185.9">18</text>
<text x="488.5" y="1185.9">25</text>
<text x="540.5" y="1185.9">8</text>
<text x="566.6" y="1185.9">15</text>
<text x="587.4" y="1185.9">22</text>
<text x="639.4" y="1185.9">6</text>
<text x="665.4" y="1185.9">13</text>
<text x="691.4" y="1185.9">20</text>
<text x="717.4" y="1185.9">28</text>
<text x="764.3" y="1185.9">10</text>
<text x="790.3" y="1185.9">17</text>
<text x="816.3" y="1185.9">24</text>
<text x="863.1" y="1185.9">8</text>
<text x="889.1" y="1185.9">15</text>
<text x="915.2" y="1185.9">22</text>
<text x="941.2" y="1185.9">29</text>
<text x="993.2" y="1185.9">12</text>
<text x="1019.2" y="1185.9">19</text>
<text x="1045.2" y="1185.9">26</text>
<text x="1092.1" y="1185.9">9</text>
<text x="1118.1" y="1185.9">16</text>
<text x="1144.1" y="1185.9">23</text>
<text x="1196.1" y="1185.9">7</text>
<text x="1222.1" y="1185.9">14</text>
<text x="1248.1" y="1185.9">21</text>
<text x="1274.2" y="1185.9">28</text>
</g>
<path d="M46.5 1175.5v1.5M46.5 1188.0v1.5M51.5 1175.5v1.5M51.5 1188.0v1.5M57.5 1175.5v1.5M57.5 1188.0v1.5M62.5 1175.5v1.5M62.5 1188.0v1.5M67.5 1175.5v1.5M67.5 1188.0v1.5M72.5 1175.5v1.5M72.5 1188.0v1.5M77.5 1175.5v1.5M77.5 1188.0v1.5M83.5 1175.5v1.5M83.5 1188.0v1.5M88.5 1175.5v1.5M88.5 1188.0v1.5M93.5 1175.5v1.5M93.5 1188.0v1.5M98.5 1175.5v1.5M98.5 1188.0v1.5M103.5 1175.5v1.5M103.5 1188.0v1.5M109.5 1175.5v1.5M109.5 1188.0v1.5M114.5 1175.5v1.5M114.5 1188.0v1.5M119.5 1175.5v1.5M119.5 1188.0v1.5M124.5 1175.5v1.5M124.5 1188.0v1.5M129.5 1175.5v1.5M129.5 1188.0v1.5M135.5 1175.5v1.5M135.5 1188.0v1.5M140.5 1175.5v1.5M140.5 1188.0v1.5M145.5 1175.5v1.5M145.5 1188.0v1.5M150.5 1175.5v1.5M150.5 1188.0v1.5M155.5 1175.5v1.5M155.5 1188.0v1.5M161.5 1175.5v1.5M161.5 1188.0v1.5M166.5 1175.5v1.5M166.5 1188.0v1.5M171.5 1175.5v1.5M171.5 1188.0v1.5M176.5 1175.5v1.5M176.5 1188.0v1.5M181.5 1175.5v1.5M181.5 1188.0v1.5M187.5 1175.5v1.5M187.5 1188.0v1.5M192.5 1175.5v1.5M192.5 1188.0v1.5M197.5 1175.5v1.5M197.5 1188.0v1.5M202.5 1175.5v1.5M202.5 1188.0v1.5M207.5 1175.5v1.5M207.5 1188.0v1.5M213.5 1175.5v1.5M213.5 1188.0v1.5M218.5 1175.5v1.5M218.5 1188.0v1.5M223.5 1175.5v1.5M223.5 1188.0v1.5M228.5 1175.5v1.5M228.5 1188.0v1.5M234.5 1175.5v1.5M234.5 1188.0v1.5M239.5 1175.5v1.5M239.5 1188.0v1.5M244.5 1175.5v1.5M244.5 1188.0v1.5M249.5 1175.5v1.5M249.5 1188.0v1.5M254.5 1175.5v1.5M254.5 1188.0v1.5M260.5 1175.5v1.5M260.5 1188.0v1.5M265.5 1175.5v1.5M265.5 1188.0v1.5M270.5 1175.5v1.5M270.5 1188.0v1.5M275.5 1175.5v1.5M275.5 1188.0v1.5M280.5 1175.5v1.5M280.5 1188.0v1.5M286.5 1175.5v1.5M286.5 1188.0v1.5M291.5 1175.5v1.5M291.5 1188.0v1.5M296.5 1175.5v1.5M296.5 1188.0v1.5M301.5 1175.5v1.5M301.5 1188.0v1.5M306.5 1175.5v1.5M306.5 1188.0v1.5M312.5 1175.5v1.5M312.5 1188.0v1.5M317.5 1175.5v1.5M317.5 1188.0v1.5M322.5 1175.5v1.5M322.5 1188.0v1.5M327.5 1175.5v1.5M327.5 1188.0v1.5M332.5 1175.5v1.5M332.5 1188.0v1.5M338.5 1175.5v1.5M338.5 1188.0v1.5M343.5 1175.5v1.5M343.5 1188.0v1.5M348.5 1175.5v1.5M348.5 1188.0v1.5M353.5 1175.5v1.5M353.5 1188.0v1.5M358.5 1175.5v1.5M358.5 1188.0v1.5M364.5 1175.5v1.5M364.5 1188.0v1.5M369.5 1175.5v1.5M369.5 1188.0v1.5M374.5 1175.5v1.5M374.5 1188.0v1.5M379.5 1175.5v1.5M379.5 1188.0v1.5M384.5 1175.5v1.5M384.5 1188.0v1.5M390.5 1175.5v1.5M390.5 1188.0v1.5M395.5 1175.5v1.5M395.5 1188.0v1.5M400.5 1175.5v1.5M400.5 1188.0v1.5M405.5 1175.5v1.5M405.5 1188.0v1.5M410.5 1175.5v1.5M410.5 1188.0v1.5M416.5 1175.5v1.5M416.5 1188.0v1.5M421.5 1175.5v1.5M421.5 1188.0v1.5M426.5 1175.5v1.5M426.5 1188.0v1.5M431.5 1175.5v1.5M431.5 1188.0v1.5M436.5 1175.5v1.5M436.5 1188.0v1.5M442.5 1175.5v1.5M442.5 1188.0v1.5M447.5 1175.5v1.5M447.5 1188.0v1.5M452.5 1175.5v1.5M452.5 1188.0v1.5M457.5 1175.5v1.5M457.5 1188.0v1.5M462.5 1175.5v1.5M462.5 1188.0v1.5M468.5 1175.5v1.5M468.5 1188.0v1.5M473.5 1175.5v1.5M473.5 1188.0v1.5M478.5 1175.5v1.5M478.5 1188.0v1.5M483.5 1175.5v1.5M483.5 1188.0v1.5M488.5 1175.5v1.5M488.5 1188.0v1.5M494.5 1175.5v1.5M494.5 1188.0v1.5M499.5 1175.5v1.5M499.5 1188.0v1.5M504.5 1175.5v1.5M504.5 1188.0v1.5M509.5 1175.5v1.5M509.5 1188.0v1.5M514.5 1175.5v1.5M514.5 1188.0v1.5M520.5 1175.5v1.5M520.5 1188.0v1.5M525.5 1175.5v1.5M525.5 1188.0v1.5M530.5 1175.5v1.5M530.5 1188.0v1.5M535.5 1175.5v1.5M535.5 1188.0v1.5M540.5 1175.5v1.5M540.5 1188.0v1.5M546.5 1175.5v1.5M546.5 1188.0v1.5M551.5 1175.5v1.5M551.5 1188.0v1.5M556.5 1175.5v1.5M556.5 1188.0v1.5M561.5 1175.5v1.5M561.5 1188.0v1.5M567.5 1175.5v1.5M567.5 1188.0v1.5M572.5 1175.5v1.5M572.5 1188.0v1.5M577.5 1175.5v1.5M577.5 1188.0v1.5M582.5 1175.5v1.5M582.5 1188.0v1.5M587.5 1175.5v1.5M587.5 1188.0v1.5M593.5 1175.5v1.5M593.5 1188.0v1.5M598.5 1175.5v1.5M598.5 1188.0v1.5M603.5 1175.5v1.5M603.5 1188.0v1.5M608.5 1175.5v1.5M608.5 1188.0v1.5M613.5 1175.5v1.5M613.5 1188.0v1.5M619.5 1175.5v1.5M619.5 1188.0v1.5M624.5 1175.5v1.5M624.5 1188.0v1.5M629.5 1175.5v1.5M629.5 1188.0v1.5M634.5 1175.5v1.5M634.5 1188.0v1.5M639.5 1175.5v1.5M639.5 1188.0v1.5M645.5 1175.5v1.5M645.5 1188.0v1.5M650.5 1175.5v1.5M650.5 1188.0v1.5M655.5 1175.5v1.5M655.5 1188.0v1.5M660.5 1175.5v1.5M660.5 1188.0v1.5M665.5 1175.5v1.5M665.5 1188.0v1.5M671.5 1175.5v1.5M671.5 1188.0v1.5M676.5 1175.5v1.5M676.5 1188.0v1.5M681.5 1175.5v1.5M681.5 1188.0v1.5M686.5 1175.5v1.5M686.5 1188.0v1.5M691.5 1175.5v1.5M691.5 1188.0v1.5M697.5 1175.5v1.5M697.5 1188.0v1.5M702.5 1175.5v1.5M702.5 1188.0v1.5M707.5 1175.5v1.5M707.5 1188.0v1.5M712.5 1175.5v1.5M712.5 1188.0v1.5M717.5 1175.5v1.5M717.5 1188.0v1.5M723.5 1175.5v1.5M723.5 1188.0v1.5M728.5 1175.5v1.5M728.5 1188.0v1.5M733.5 1175.5v1.5M733.5 1188.0v1.5M738.5 1175.5v1.5M738.5 1188.0v1.5M743.5 1175.5v1.5M743.5 1188.0v1.5M749.5 1175.5v1.5M749.5 1188.0v1.5M754.5 1175.5v1.5M754.5 1188.0v1.5M759.5 1175.5v1.5M759.5 1188.0v1.5M764.5 1175.5v1.5M764.5 1188.0v1.5M769.5 1175.5v1.5M769.5 1188.0v1.5M775.5 1175.5v1.5M775.5 1188.0v1.5M780.5 1175.5v1.5M780.5 1188.0v1.5M785.5 1175.5v1.5M785.5 1188.0v1.5M790.5 1175.5v1.5M790.5 1188.0v1.5M795.5 1175.5v1.5M795.5 1188.0v1.5M801.5 1175.5v1.5M801.5 1188.0v1.5M806.5 1175.5v1.5M806.5 1188.0v1.5M811.5 1175.5v1.5M811.5 1188.0v1.5M816.5 1175.5v1.5M816.5 1188.0v1.5M821.5 1175.5v1.5M821.5 1188.0v1.5M827.5 1175.5v1.5M827.5 1188.0v1.5M832.5 1175.5v1.5M832.5 1188.0v1.5M837.5 1175.5v1.5M837.5 1188.0v1.5M842.5 1175.5v1.5M842.5 1188.0v1.5M847.5 1175.5v1.5M847.5 1188.0v1.5M853.5 1175.5v1.5M853.5 1188.0v1.5M858.5 1175.5v1.5M858.5 1188.0v1.5M863.5 1175.5v1.5M863.5 1188.0v1.5M868.5 1175.5v1.5M868.5 1188.0v1.5M873.5 1175.5v1.5M873.5 1188.0v1.5M879.5 1175.5v1.5M879.5 1188.0v1.5M884.5 1175.5v1.5M884.5 1188.0v1.5M889.5 1175.5v1.5M889.5 1188.0v1.5M894.5 1175.5v1.5M894.5 1188.0v1.5M899.5 1175.5v1.5M899.5 1188.0v1.5M905.5 1175.5v1.5M905.5 1188.0v1.5M910.5 1175.5v1.5M910.5 1188.0v1.5M915.5 1175.5v1.5M915.5 1188.0v1.5M920.5 1175.5v1.5M920.5 1188.0v1.5M926.5 1175.5v1.5M926.5 1188.0v1.5M931.5 1175.5v1.5M931.5 1188.0v1.5M936.5 1175.5v1.5M936.5 1188.0v1.5M941.5 1175.5v1.5M941.5 1188.0v1.5M946.5 1175.5v1.5M946.5 1188.0v1.5M952.5 1175.5v1.5M952.5 1188.0v1.5M957.5 1175.5v1.5M957.5 1188.0v1.5M962.5 1175.5v1.5M962.5 1188.0v1.5M967.5 1175.5v1.5M967.5 1188.0v1.5M972.5 1175.5v1.5M972.5 1188.0v1.5M978.5 1175.5v1.5M978.5 1188.0v1.5M983.5 1175.5v1.5M983.5 1188.0v1.5M988.5 1175.5v1.5M988.5 1188.0v1.5M993.5 1175.5v1.5M993.5 1188.0v1.5M998.5 1175.5v1.5M998.5 1188.0v1.5M1004.5 1175.5v1.5M1004.5 1188.0v1.5M1009.5 1175.5v1.5M1009.5 1188.0v1.5M1014.5 1175.5v1.5M1014.5 1188.0v1.5M1019.5 1175.5v1.5M1019.5 1188.0v1.5M1024.5 1175.5v1.5M1024.5 1188.0v1.5M1030.5 1175.5v1.5M1030.5 1188.0v1.5M1035.5 1175.5v1.5M1035.5 1188.0v1.5M1040.5 1175.5v1.5M1040.5 1188.0v1.5M1045.5 1175.5v1.5M1045.5 1188.0v1.5M1050.5 1175.5v1.5M1050.5 1188.0v1.5M1056.5 1175.5v1.5M1056.5 1188.0v1.5M1061.5 1175.5v1.5M1061.5 1188.0v1.5M1066.5 1175.5v1.5M1066.5 1188.0v1.5M1071.5 1175.5v1.5M1071.5 1188.0v1.5M1076.5 1175.5v1.5M1076.5 1188.0v1.5M1082.5 1175.5v1.5M1082.5 1188.0v1.5M1087.5 1175.5v1.5M1087.5 1188.0v1.5M1092.5 1175.5v1.5M1092.5 1188.0v1.5M1097.5 1175.5v1.5M1097.5 1188.0v1.5M1102.5 1175.5v1.5M1102.5 1188.0v1.5M1108.5 1175.5v1.5M1108.5 1188.0v1.5M1113.5 1175.5v1.5M1113.5 1188.0v1.5M1118.5 1175.5v1.5M1118.5 1188.0v1.5M1123.5 1175.5v1.5M1123.5 1188.0v1.5M1128.5 1175.5v1.5M1128.5 1188.0v1.5M1134.5 1175.5v1.5M1134.5 1188.0v1.5M1139.5 1175.5v1.5M1139.5 1188.0v1.5M1144.5 1175.5v1.5M1144.5 1188.0v1.5M1149.5 1175.5v1.5M1149.5 1188.0v1.5M1154.5 1175.5v1.5M1154.5 1188.0v1.5M1160.5 1175.5v1.5M1160.5 1188.0v1.5M1165.5 1175.5v1.5M1165.5 1188.0v1.5M1170.5 1175.5v1.5M1170.5 1188.0v1.5M1175.5 1175.5v1.5M1175.5 1188.0v1.5M1180.5 1175.5v1.5M1180.5 1188.0v1.5M1186.5 1175.5v1.5M1186.5 1188.0v1.5M1191.5 1175.5v1.5M1191.5 1188.0v1.5M1196.5 1175.5v1.5M1196.5 1188.0v1.5M1201.5 1175.5v1.5M1201.5 1188.0v1.5M1206.5 1175.5v1.5M1206.5 1188.0v1.5M1212.5 1175.5v1.5M1212.5 1188.0v1.5M1217.5 1175.5v1.5M1217.5 1188.0v1.5M1222.5 1175.5v1.5M1222.5 1188.0v1.5M1227.5 1175.5v1.5M1227.5 1188.0v1.5M1232.5 1175.5v1.5M1232.5 1188.0v1.5M1238.5 1175.5v1.5M1238.5 1188.0v1.5M1243.5 1175.5v1.5M1243.5 1188.0v1.5M1248.5 1175.5v1.5M1248.5 1188.0v1.5M1253.5 1175.5v1.5M1253.5 1188.0v1.5M1258.5 1175.5v1.5M1258.5 1188.0v1.5M1264.5 1175.5v1.5M1264.5 1188.0v1.5M1269.5 1175.5v1.5M1269.5 1188.0v1.5M1274.5 1175.5v1.5M1274.5 1188.0v1.5M1279.5 1175.5v1.5M1279.5 1188.0v1.5M1285.5 1175.5v1.5M1285.5 1188.0v1.5M1290.5 1175.5v1.5M1290.5 1188.0v1.5M1295.5 1175.5v1.5M1295.5 1188.0v1.5" stroke="#b89090" stroke-width="1" fill="none"/>
<path d="M44.5 849.5H1302.5M44.5 863.5H1302.5M44.5 1175.5H1302.5" stroke="#b89090" stroke-width="1" fill="none"/>
<g font-family="Liberation Sans, Arial, sans-serif" fill="#000">
<text x="44.5" y="15.5" font-size="14" font-weight="bold" textLength="39" lengthAdjust="spacingAndGlyphs">$PLAT</text>
<text x="88.7" y="15" font-size="11.3" textLength="178.5" lengthAdjust="spacingAndGlyphs">Platinum - Continuous Contract (EOD)</text>
<text x="273" y="14.7" font-size="8.6" textLength="21.5" lengthAdjust="spacing">CME</text>
<text x="1212.5" y="15" font-size="9.6" font-family="DejaVu Sans, sans-serif" fill="#222" textLength="90" lengthAdjust="spacing">©StockCharts.com</text>
<text x="49" y="43.8" font-size="10.45">Open:</text>
<text x="110.5" y="43.8" font-size="12.2" font-weight="bold">847.80</text>
<text x="185" y="43.8" font-size="10.45">Ask:</text>
<text x="283" y="43.8" font-size="10.45">P/E:</text>
<text x="383" y="43.8" font-size="10.45">Options:</text>
<text x="489" y="43.8" font-size="12" font-weight="bold" text-anchor="end">no</text>
<text x="49" y="58.2" font-size="10.45">High:</text>
<text x="110.5" y="58.2" font-size="12.2" font-weight="bold">855.30</text>
<text x="185" y="58.2" font-size="10.45">Ask Size:</text>
<text x="283" y="58.2" font-size="10.45">EPS:</text>
<text x="383" y="58.2" font-size="10.45">Annual Dividend:</text>
<text x="489" y="58.2" font-size="12" font-weight="bold" text-anchor="end">N/A</text>
<text x="49" y="72.6" font-size="10.45">Low:</text>
<text x="110.5" y="72.6" font-size="12.2" font-weight="bold">840.40</text>
<text x="185" y="72.6" font-size="10.45">Bid:</text>
<text x="283" y="72.6" font-size="10.45">Last Size:</text>
<text x="383" y="72.6" font-size="10.45">Yield:</text>
<text x="489" y="72.6" font-size="12" font-weight="bold" text-anchor="end">N/A</text>
<text x="49" y="87" font-size="10.45">Prev Close:</text>
<text x="110.5" y="87" font-size="12.2" font-weight="bold">845.20</text>
<text x="185" y="87" font-size="10.45">Bid Size:</text>
<text x="283" y="87" font-size="10.45">VWAP:</text>
<text x="383" y="87" font-size="10.45">SCTR:</text>
<text x="1191.3" y="29.6" font-size="10.3" textLength="103.7" lengthAdjust="spacing">Tuesday&#160; 16-Jul-2019</text>
<text x="1295" y="45.4" font-size="14.2" font-weight="bold" fill="#2d7a3c" text-anchor="end">+0.20%</text>
<path d="M1198 45.7l6.2-10.7l6.2 10.7z" fill="#2a7038"/>
<text x="1195.5" y="58.7" font-size="10.3">Chg:</text><text x="1295" y="58.7" font-size="12.1" font-weight="bold" text-anchor="end">+1.70</text>
<text x="1195.5" y="73" font-size="10.3">Last:</text><text x="1295" y="73" font-size="12.1" font-weight="bold" text-anchor="end">846.90</text>
<text x="1195.5" y="87.4" font-size="10.3">Volume:</text><text x="1295" y="87.4" font-size="12.1" font-weight="bold" text-anchor="end">2,282,800</text>
</g>
<g font-family="DejaVu Sans, Verdana, sans-serif" font-size="9.1" fill="#000">
<path d="M47.1 101.8V99.8L51.4 93.4L53.6 98.6L55.5 95.6L55.8 101.8z" fill="#64893f"/><path d="M47.1 101.8V99.8L51.4 93.4L53.6 98.6L55.5 95.6L55.8 101.8" fill="none" stroke="#000" stroke-width="1.1" stroke-linejoin="miter"/>
<text x="59.3" y="101.7" textLength="78.7" lengthAdjust="spacing">MFI(14) 60.19</text>
<path d="M47 254h8.5" stroke="#000" stroke-width="2"/>
<text x="59.3" y="257.7" textLength="212.1" lengthAdjust="spacing">Slow STO %K(60) %D(3) 41.49<tspan fill="#e00">, 37.45</tspan></text>
<path d="M47 870h8.5" stroke="#000" stroke-width="2"/>
<text x="59.3" y="873.7" textLength="199.9" lengthAdjust="spacing">MACD(12,26,9) 5.332<tspan fill="#e00">, 2.282</tspan><tspan fill="#3a8fc8">, 3.050</tspan></text>
<path d="M47 1026h8.5" stroke="#000" stroke-width="2"/>
<text x="59.3" y="1029.7" textLength="97.9" lengthAdjust="spacing">CTM-$PLAT 63.34</text>
<text x="59.3" y="413.7" textLength="117" lengthAdjust="spacing">$PLAT (Daily) 846.90</text>
<path d="M48.4 406v8M54.7 406v8M51.5 407.5v7" stroke="#000" stroke-width="1"/><path d="M47.4 407.6h2v4.8h-2zM53.7 407.6h2v4.8h-2z" fill="#f2e8c0" stroke="#000" stroke-width="1"/><path d="M50 409h3v4.7h-3z" fill="#000"/>
<g font-size="9" font-family="DejaVu Sans, sans-serif">
<path d="M47 421h2.6M52.4 421h2.6" stroke="#0a6a0a" stroke-width="2"/><text x="57.2" y="424.8" fill="#0a6a0a" textLength="69.5" lengthAdjust="spacingAndGlyphs">EMA(10) 832.98</text>
<path d="M47 432h9" stroke="#00008b" stroke-width="2"/><text x="57.2" y="435.8" fill="#00008b" textLength="70" lengthAdjust="spacingAndGlyphs">EMA(20) 827.14</text>
<path d="M47 443h9" stroke="#d0021b" stroke-width="2"/><text x="57.2" y="446.9" fill="#d0021b" textLength="69.5" lengthAdjust="spacingAndGlyphs">EMA(50) 828.49</text>
<path d="M47 454h9" stroke="#f0f" stroke-width="2"/><text x="57.2" y="457.9" fill="#f0f" textLength="69.5" lengthAdjust="spacingAndGlyphs">MA(200) 833.14</text>
<path d="M47.2 467.8v-4.3h1.8v4.3zM49.9 467.8v-7.4h3v7.4zM53.7 467.8v-5.9h2.1v5.9z" fill="#8a8470" stroke="#44454a" stroke-width="0.9"/><text x="57.2" y="467.8" fill="#44454a" textLength="76" lengthAdjust="spacingAndGlyphs">Volume 2,282,800</text>
</g></g>
<rect x="951.5" y="577" width="279.5" height="85.5" fill="#9a927a" fill-opacity="0.75"/>
<path d="M949.5 613.7L905.5 622.6L949.5 621.3z" fill="#f4f4f4" stroke="#8a8a8a" stroke-width="1" stroke-linejoin="round"/>
<rect x="949.5" y="574.8" width="279.2" height="85.4" fill="#fff" stroke="#8a8a8a" stroke-width="1"/>
<g font-family="Liberation Sans, Arial, sans-serif" font-size="13.4" font-weight="bold" fill="#0000e6" stroke="#0000e6" stroke-width="0.3">
<text x="952.5" y="589.7" textLength="248" lengthAdjust="spacing">Prices eked out a new closing high,</text>
<text x="952.5" y="605.7" textLength="261" lengthAdjust="spacing">and that completes a series of higher</text>
<text x="952.5" y="621.6" textLength="241" lengthAdjust="spacing">highs and higher lows, i.e., a trend</text>
<text x="952.5" y="637.6" textLength="270" lengthAdjust="spacing">change. Support arrives between $825</text>
<text x="952.5" y="653.5" textLength="189" lengthAdjust="spacing">and $835 if prices pullback.</text>
</g>
</svg>
</body></html>
